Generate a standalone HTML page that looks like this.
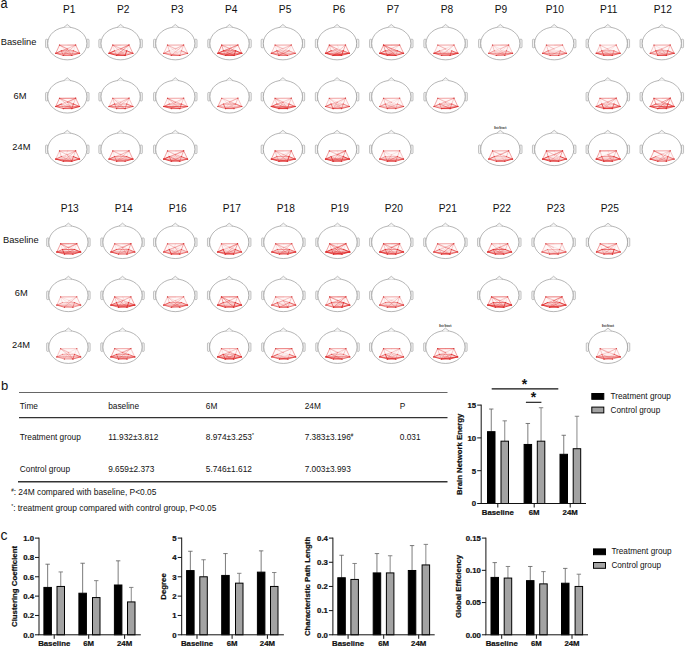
<!DOCTYPE html>
<html><head><meta charset="utf-8"><title>Figure</title>
<style>html,body{margin:0;padding:0;background:#fff;} svg{display:block;}</style>
</head><body>
<svg width="685" height="648" viewBox="0 0 685 648" font-family="'Liberation Sans', Arial, sans-serif">
<rect width="685" height="648" fill="#fff"/>
<text x="0.5" y="7.9" font-size="14" textLength="7.1" lengthAdjust="spacingAndGlyphs" fill="#111">a</text>
<text x="0.9" y="389.6" font-size="13" fill="#111">b</text>
<text x="0.5" y="539.7" font-size="14" fill="#111">c</text>
<text x="69.30" y="12.5" font-size="10.2" text-anchor="middle" fill="#111">P1</text>
<rect x="45.55" y="39.20" width="2.3" height="8.6" rx="0.9" fill="#f3f3f3" stroke="#8a8a8a" stroke-width="0.5"/>
<rect x="86.75" y="39.20" width="2.3" height="8.6" rx="0.9" fill="#f3f3f3" stroke="#8a8a8a" stroke-width="0.5"/>
<ellipse cx="67.30" cy="43.50" rx="19.6" ry="16.35" fill="#fff" stroke="#858585" stroke-width="0.6"/>
<path d="M63.70,27.50 L67.30,24.45 L70.90,27.50" fill="#f4f4f4" stroke="#858585" stroke-width="0.5"/>
<polygon points="59.5,45.1 75.7,45.0 79.6,53.3 71.8,55.4 63.3,55.4 55.7,53.3" fill="#e02a2a" fill-opacity="0.03"/>
<polygon points="55.7,53.3 61.3,50.8 73.4,50.8 79.6,53.3 71.8,55.4 63.3,55.4" fill="#e02a2a" fill-opacity="0.09"/>
<path d="M67.6,45.2L75.7,45.0M59.5,45.1L71.8,55.4M75.7,45.0L55.7,53.3M75.7,45.0L67.4,49.1M75.7,45.0L73.4,50.8M55.7,53.3L71.8,55.4M73.4,50.8L63.3,55.4M55.7,53.3L67.4,49.1M73.4,50.8L67.4,49.1M59.5,45.1L73.4,50.8M75.7,45.0L61.3,50.8" fill="none" stroke="#e02a2a" stroke-opacity="0.2" stroke-width="0.57" stroke-linecap="round"/>
<path d="M75.7,45.0L63.3,55.4M67.4,49.1L63.3,55.4M67.4,49.1L71.8,55.4M73.4,50.8L71.8,55.4M79.6,53.3L63.3,55.4M61.3,50.8L71.8,55.4M61.3,50.8L67.4,49.1" fill="none" stroke="#e02a2a" stroke-opacity="0.4" stroke-width="0.64" stroke-linecap="round"/>
<path d="M59.5,45.1L75.7,45.0M59.5,45.1L55.7,53.3M75.7,45.0L79.6,53.3M55.7,53.3L79.6,53.3M61.3,50.8L73.4,50.8M59.5,45.1L67.4,49.1M61.3,50.8L63.3,55.4" fill="none" stroke="#e02a2a" stroke-opacity="0.6" stroke-width="0.71" stroke-linecap="round"/>
<path d="M55.7,53.3L61.3,50.8M73.4,50.8L79.6,53.3M55.7,53.3L63.3,55.4M71.8,55.4L79.6,53.3M63.3,55.4L71.8,55.4" fill="none" stroke="#e02a2a" stroke-opacity="0.8" stroke-width="0.78" stroke-linecap="round"/>
<circle cx="59.5" cy="45.1" r="0.6" fill="#c83434" fill-opacity="0.7"/>
<circle cx="75.7" cy="45.0" r="0.6" fill="#c83434" fill-opacity="0.7"/>
<circle cx="55.7" cy="53.3" r="0.6" fill="#c83434" fill-opacity="0.7"/>
<circle cx="79.6" cy="53.3" r="0.6" fill="#c83434" fill-opacity="0.7"/>
<circle cx="63.3" cy="55.4" r="0.6" fill="#c83434" fill-opacity="0.7"/>
<circle cx="71.8" cy="55.4" r="0.6" fill="#c83434" fill-opacity="0.7"/>
<rect x="45.55" y="92.40" width="2.3" height="8.6" rx="0.9" fill="#f3f3f3" stroke="#8a8a8a" stroke-width="0.5"/>
<rect x="86.75" y="92.40" width="2.3" height="8.6" rx="0.9" fill="#f3f3f3" stroke="#8a8a8a" stroke-width="0.5"/>
<ellipse cx="67.30" cy="96.70" rx="19.6" ry="16.35" fill="#fff" stroke="#858585" stroke-width="0.6"/>
<path d="M63.70,80.70 L67.30,77.65 L70.90,80.70" fill="#f4f4f4" stroke="#858585" stroke-width="0.5"/>
<polygon points="59.5,98.3 75.7,98.2 79.6,106.5 71.8,108.6 63.3,108.6 55.7,106.5" fill="#e02a2a" fill-opacity="0.03"/>
<polygon points="55.7,106.5 61.3,104.0 73.4,104.0 79.6,106.5 71.8,108.6 63.3,108.6" fill="#e02a2a" fill-opacity="0.09"/>
<path d="M75.7,98.2L63.3,108.6M59.5,98.3L79.6,106.5M75.7,98.2L55.7,106.5M59.5,98.3L67.4,102.3M55.7,106.5L71.8,108.6M55.7,106.5L67.4,102.3M75.7,98.2L61.3,104.0" fill="none" stroke="#e02a2a" stroke-opacity="0.2" stroke-width="0.57" stroke-linecap="round"/>
<path d="M59.5,98.3L71.8,108.6M67.4,102.3L71.8,108.6M75.7,98.2L73.4,104.0M61.3,104.0L63.3,108.6M61.3,104.0L71.8,108.6M73.4,104.0L63.3,108.6M73.4,104.0L67.4,102.3M59.5,98.3L73.4,104.0" fill="none" stroke="#e02a2a" stroke-opacity="0.4" stroke-width="0.64" stroke-linecap="round"/>
<path d="M59.5,98.3L55.7,106.5M75.7,98.2L79.6,106.5M55.7,106.5L79.6,106.5M75.7,98.2L67.4,102.3M79.6,106.5L63.3,108.6" fill="none" stroke="#e02a2a" stroke-opacity="0.6" stroke-width="0.71" stroke-linecap="round"/>
<path d="M59.5,98.3L75.7,98.2M73.4,104.0L79.6,106.5M55.7,106.5L63.3,108.6M63.3,108.6L71.8,108.6M73.4,104.0L71.8,108.6" fill="none" stroke="#e02a2a" stroke-opacity="0.8" stroke-width="0.78" stroke-linecap="round"/>
<path d="M55.7,106.5L61.3,104.0M71.8,108.6L79.6,106.5" fill="none" stroke="#e02a2a" stroke-opacity="1.0" stroke-width="0.85" stroke-linecap="round"/>
<circle cx="59.5" cy="98.3" r="0.6" fill="#c83434" fill-opacity="0.7"/>
<circle cx="75.7" cy="98.2" r="0.6" fill="#c83434" fill-opacity="0.7"/>
<circle cx="55.7" cy="106.5" r="0.6" fill="#c83434" fill-opacity="0.7"/>
<circle cx="79.6" cy="106.5" r="0.6" fill="#c83434" fill-opacity="0.7"/>
<circle cx="63.3" cy="108.6" r="0.6" fill="#c83434" fill-opacity="0.7"/>
<circle cx="71.8" cy="108.6" r="0.6" fill="#c83434" fill-opacity="0.7"/>
<rect x="45.55" y="145.00" width="2.3" height="8.6" rx="0.9" fill="#f3f3f3" stroke="#8a8a8a" stroke-width="0.5"/>
<rect x="86.75" y="145.00" width="2.3" height="8.6" rx="0.9" fill="#f3f3f3" stroke="#8a8a8a" stroke-width="0.5"/>
<ellipse cx="67.30" cy="149.30" rx="19.6" ry="16.35" fill="#fff" stroke="#858585" stroke-width="0.6"/>
<path d="M63.70,133.30 L67.30,130.25 L70.90,133.30" fill="#f4f4f4" stroke="#858585" stroke-width="0.5"/>
<polygon points="59.5,150.9 75.7,150.8 79.6,159.1 71.8,161.2 63.3,161.2 55.7,159.1" fill="#e02a2a" fill-opacity="0.03"/>
<polygon points="55.7,159.1 61.3,156.6 73.4,156.6 79.6,159.1 71.8,161.2 63.3,161.2" fill="#e02a2a" fill-opacity="0.10"/>
<path d="M59.5,150.9L67.6,151.0M67.6,151.0L75.7,150.8M61.3,156.6L73.4,156.6M61.3,156.6L63.3,161.2M73.4,156.6L63.3,161.2M67.6,151.0L63.3,161.2M61.3,156.6L67.4,154.9M73.4,156.6L67.4,154.9M75.7,150.8L61.3,156.6" fill="none" stroke="#e02a2a" stroke-opacity="0.2" stroke-width="0.57" stroke-linecap="round"/>
<path d="M59.5,150.9L55.7,159.1M55.7,159.1L79.6,159.1M75.7,150.8L63.3,161.2M59.5,150.9L67.4,154.9M75.7,150.8L67.4,154.9M67.4,154.9L71.8,161.2M59.5,150.9L61.3,156.6M75.7,150.8L73.4,156.6M79.6,159.1L63.3,161.2M61.3,156.6L71.8,161.2" fill="none" stroke="#e02a2a" stroke-opacity="0.4" stroke-width="0.64" stroke-linecap="round"/>
<path d="M59.5,150.9L75.7,150.8M75.7,150.8L79.6,159.1" fill="none" stroke="#e02a2a" stroke-opacity="0.6" stroke-width="0.71" stroke-linecap="round"/>
<path d="M55.7,159.1L61.3,156.6M73.4,156.6L71.8,161.2M55.7,159.1L71.8,161.2" fill="none" stroke="#e02a2a" stroke-opacity="0.8" stroke-width="0.78" stroke-linecap="round"/>
<path d="M73.4,156.6L79.6,159.1M55.7,159.1L63.3,161.2M71.8,161.2L79.6,159.1M63.3,161.2L71.8,161.2" fill="none" stroke="#e02a2a" stroke-opacity="1.0" stroke-width="0.85" stroke-linecap="round"/>
<circle cx="59.5" cy="150.9" r="0.6" fill="#c83434" fill-opacity="0.7"/>
<circle cx="75.7" cy="150.8" r="0.6" fill="#c83434" fill-opacity="0.7"/>
<circle cx="55.7" cy="159.1" r="0.6" fill="#c83434" fill-opacity="0.7"/>
<circle cx="79.6" cy="159.1" r="0.6" fill="#c83434" fill-opacity="0.7"/>
<circle cx="63.3" cy="161.2" r="0.6" fill="#c83434" fill-opacity="0.7"/>
<circle cx="71.8" cy="161.2" r="0.6" fill="#c83434" fill-opacity="0.7"/>
<text x="123.25" y="12.5" font-size="10.2" text-anchor="middle" fill="#111">P2</text>
<rect x="98.85" y="39.20" width="2.3" height="8.6" rx="0.9" fill="#f3f3f3" stroke="#8a8a8a" stroke-width="0.5"/>
<rect x="140.05" y="39.20" width="2.3" height="8.6" rx="0.9" fill="#f3f3f3" stroke="#8a8a8a" stroke-width="0.5"/>
<ellipse cx="120.60" cy="43.50" rx="19.6" ry="16.35" fill="#fff" stroke="#858585" stroke-width="0.6"/>
<path d="M117.00,27.50 L120.60,24.45 L124.20,27.50" fill="#f4f4f4" stroke="#858585" stroke-width="0.5"/>
<polygon points="112.8,45.1 129.0,45.0 132.9,53.3 125.1,55.4 116.6,55.4 109.0,53.3" fill="#e02a2a" fill-opacity="0.03"/>
<polygon points="109.0,53.3 114.6,50.8 126.7,50.8 132.9,53.3 125.1,55.4 116.6,55.4" fill="#e02a2a" fill-opacity="0.10"/>
<path d="M112.8,45.1L120.9,45.2M109.0,53.3L132.9,53.3M112.8,45.1L120.7,49.1M120.7,49.1L125.1,55.4M112.8,45.1L114.6,50.8M129.0,45.0L126.7,50.8M132.9,53.3L116.6,55.4M114.6,50.8L125.1,55.4M114.6,50.8L120.7,49.1" fill="none" stroke="#e02a2a" stroke-opacity="0.2" stroke-width="0.57" stroke-linecap="round"/>
<path d="M112.8,45.1L125.1,55.4M112.8,45.1L132.9,53.3M129.0,45.0L109.0,53.3M114.6,50.8L116.6,55.4M126.7,50.8L116.6,55.4M126.7,50.8L120.7,49.1" fill="none" stroke="#e02a2a" stroke-opacity="0.4" stroke-width="0.64" stroke-linecap="round"/>
<path d="M112.8,45.1L129.0,45.0M112.8,45.1L109.0,53.3M129.0,45.0L132.9,53.3M129.0,45.0L116.6,55.4M129.0,45.0L120.7,49.1" fill="none" stroke="#e02a2a" stroke-opacity="0.6" stroke-width="0.71" stroke-linecap="round"/>
<path d="M126.7,50.8L132.9,53.3M125.1,55.4L132.9,53.3M109.0,53.3L125.1,55.4" fill="none" stroke="#e02a2a" stroke-opacity="0.8" stroke-width="0.78" stroke-linecap="round"/>
<path d="M109.0,53.3L114.6,50.8M109.0,53.3L116.6,55.4M116.6,55.4L125.1,55.4M126.7,50.8L125.1,55.4" fill="none" stroke="#e02a2a" stroke-opacity="1.0" stroke-width="0.85" stroke-linecap="round"/>
<circle cx="112.8" cy="45.1" r="0.6" fill="#c83434" fill-opacity="0.7"/>
<circle cx="129.0" cy="45.0" r="0.6" fill="#c83434" fill-opacity="0.7"/>
<circle cx="109.0" cy="53.3" r="0.6" fill="#c83434" fill-opacity="0.7"/>
<circle cx="132.9" cy="53.3" r="0.6" fill="#c83434" fill-opacity="0.7"/>
<circle cx="116.6" cy="55.4" r="0.6" fill="#c83434" fill-opacity="0.7"/>
<circle cx="125.1" cy="55.4" r="0.6" fill="#c83434" fill-opacity="0.7"/>
<rect x="98.85" y="92.40" width="2.3" height="8.6" rx="0.9" fill="#f3f3f3" stroke="#8a8a8a" stroke-width="0.5"/>
<rect x="140.05" y="92.40" width="2.3" height="8.6" rx="0.9" fill="#f3f3f3" stroke="#8a8a8a" stroke-width="0.5"/>
<ellipse cx="120.60" cy="96.70" rx="19.6" ry="16.35" fill="#fff" stroke="#858585" stroke-width="0.6"/>
<path d="M117.00,80.70 L120.60,77.65 L124.20,80.70" fill="#f4f4f4" stroke="#858585" stroke-width="0.5"/>
<polygon points="112.8,98.3 129.0,98.2 132.9,106.5 125.1,108.6 116.6,108.6 109.0,106.5" fill="#e02a2a" fill-opacity="0.03"/>
<polygon points="109.0,106.5 114.6,104.0 126.7,104.0 132.9,106.5 125.1,108.6 116.6,108.6" fill="#e02a2a" fill-opacity="0.09"/>
<path d="M112.8,98.3L120.7,102.3M120.7,102.3L116.6,108.6M109.0,106.5L120.7,102.3M126.7,104.0L120.7,102.3M129.0,98.2L114.6,104.0" fill="none" stroke="#e02a2a" stroke-opacity="0.2" stroke-width="0.57" stroke-linecap="round"/>
<path d="M112.8,98.3L109.0,106.5M129.0,98.2L132.9,106.5M114.6,104.0L126.7,104.0M112.8,98.3L125.1,108.6M129.0,98.2L116.6,108.6M129.0,98.2L120.7,102.3M112.8,98.3L114.6,104.0M129.0,98.2L126.7,104.0M109.0,106.5L125.1,108.6M114.6,104.0L125.1,108.6" fill="none" stroke="#e02a2a" stroke-opacity="0.4" stroke-width="0.64" stroke-linecap="round"/>
<path d="M112.8,98.3L129.0,98.2M109.0,106.5L132.9,106.5M109.0,106.5L116.6,108.6M114.6,104.0L116.6,108.6M126.7,104.0L125.1,108.6" fill="none" stroke="#e02a2a" stroke-opacity="0.6" stroke-width="0.71" stroke-linecap="round"/>
<path d="M109.0,106.5L114.6,104.0M126.7,104.0L132.9,106.5M125.1,108.6L132.9,106.5M116.6,108.6L125.1,108.6" fill="none" stroke="#e02a2a" stroke-opacity="0.8" stroke-width="0.78" stroke-linecap="round"/>
<circle cx="112.8" cy="98.3" r="0.6" fill="#c83434" fill-opacity="0.7"/>
<circle cx="129.0" cy="98.2" r="0.6" fill="#c83434" fill-opacity="0.7"/>
<circle cx="109.0" cy="106.5" r="0.6" fill="#c83434" fill-opacity="0.7"/>
<circle cx="132.9" cy="106.5" r="0.6" fill="#c83434" fill-opacity="0.7"/>
<circle cx="116.6" cy="108.6" r="0.6" fill="#c83434" fill-opacity="0.7"/>
<circle cx="125.1" cy="108.6" r="0.6" fill="#c83434" fill-opacity="0.7"/>
<rect x="98.85" y="145.00" width="2.3" height="8.6" rx="0.9" fill="#f3f3f3" stroke="#8a8a8a" stroke-width="0.5"/>
<rect x="140.05" y="145.00" width="2.3" height="8.6" rx="0.9" fill="#f3f3f3" stroke="#8a8a8a" stroke-width="0.5"/>
<ellipse cx="120.60" cy="149.30" rx="19.6" ry="16.35" fill="#fff" stroke="#858585" stroke-width="0.6"/>
<path d="M117.00,133.30 L120.60,130.25 L124.20,133.30" fill="#f4f4f4" stroke="#858585" stroke-width="0.5"/>
<polygon points="112.8,150.9 129.0,150.8 132.9,159.1 125.1,161.2 116.6,161.2 109.0,159.1" fill="#e02a2a" fill-opacity="0.03"/>
<polygon points="109.0,159.1 114.6,156.6 126.7,156.6 132.9,159.1 125.1,161.2 116.6,161.2" fill="#e02a2a" fill-opacity="0.10"/>
<path d="M112.8,150.9L132.9,159.1M129.0,150.8L109.0,159.1M112.8,150.9L114.6,156.6M129.0,150.8L126.7,156.6M126.7,156.6L125.1,161.2M114.6,156.6L125.1,161.2M109.0,159.1L120.7,154.9M132.9,159.1L120.7,154.9M114.6,156.6L120.7,154.9M126.7,156.6L120.7,154.9" fill="none" stroke="#e02a2a" stroke-opacity="0.2" stroke-width="0.57" stroke-linecap="round"/>
<path d="M129.0,150.8L116.6,161.2M112.8,150.9L120.7,154.9M129.0,150.8L120.7,154.9M109.0,159.1L125.1,161.2M126.7,156.6L116.6,161.2" fill="none" stroke="#e02a2a" stroke-opacity="0.4" stroke-width="0.64" stroke-linecap="round"/>
<path d="M112.8,150.9L129.0,150.8M112.8,150.9L109.0,159.1M129.0,150.8L132.9,159.1M109.0,159.1L132.9,159.1M114.6,156.6L126.7,156.6M114.6,156.6L116.6,161.2M132.9,159.1L116.6,161.2" fill="none" stroke="#e02a2a" stroke-opacity="0.6" stroke-width="0.71" stroke-linecap="round"/>
<path d="M109.0,159.1L114.6,156.6M126.7,156.6L132.9,159.1M109.0,159.1L116.6,161.2M116.6,161.2L125.1,161.2" fill="none" stroke="#e02a2a" stroke-opacity="0.8" stroke-width="0.78" stroke-linecap="round"/>
<path d="M125.1,161.2L132.9,159.1" fill="none" stroke="#e02a2a" stroke-opacity="1.0" stroke-width="0.85" stroke-linecap="round"/>
<circle cx="112.8" cy="150.9" r="0.6" fill="#c83434" fill-opacity="0.7"/>
<circle cx="129.0" cy="150.8" r="0.6" fill="#c83434" fill-opacity="0.7"/>
<circle cx="109.0" cy="159.1" r="0.6" fill="#c83434" fill-opacity="0.7"/>
<circle cx="132.9" cy="159.1" r="0.6" fill="#c83434" fill-opacity="0.7"/>
<circle cx="116.6" cy="161.2" r="0.6" fill="#c83434" fill-opacity="0.7"/>
<circle cx="125.1" cy="161.2" r="0.6" fill="#c83434" fill-opacity="0.7"/>
<text x="177.20" y="12.5" font-size="10.2" text-anchor="middle" fill="#111">P3</text>
<rect x="153.55" y="39.20" width="2.3" height="8.6" rx="0.9" fill="#f3f3f3" stroke="#8a8a8a" stroke-width="0.5"/>
<rect x="194.75" y="39.20" width="2.3" height="8.6" rx="0.9" fill="#f3f3f3" stroke="#8a8a8a" stroke-width="0.5"/>
<ellipse cx="175.30" cy="43.50" rx="19.6" ry="16.35" fill="#fff" stroke="#858585" stroke-width="0.6"/>
<path d="M171.70,27.50 L175.30,24.45 L178.90,27.50" fill="#f4f4f4" stroke="#858585" stroke-width="0.5"/>
<polygon points="167.5,45.1 183.7,45.0 187.6,53.3 179.8,55.4 171.3,55.4 163.7,53.3" fill="#e02a2a" fill-opacity="0.03"/>
<polygon points="163.7,53.3 169.3,50.8 181.4,50.8 187.6,53.3 179.8,55.4 171.3,55.4" fill="#e02a2a" fill-opacity="0.08"/>
<path d="M167.5,45.1L179.8,55.4M167.5,45.1L187.6,53.3M181.4,50.8L171.3,55.4M183.7,45.0L169.3,50.8" fill="none" stroke="#e02a2a" stroke-opacity="0.2" stroke-width="0.57" stroke-linecap="round"/>
<path d="M167.5,45.1L163.7,53.3M183.7,45.0L187.6,53.3M183.7,45.0L171.3,55.4M167.5,45.1L175.4,49.1M183.7,45.0L175.4,49.1M167.5,45.1L169.3,50.8M183.7,45.0L181.4,50.8M169.3,50.8L171.3,55.4M181.4,50.8L179.8,55.4" fill="none" stroke="#e02a2a" stroke-opacity="0.4" stroke-width="0.64" stroke-linecap="round"/>
<path d="M167.5,45.1L183.7,45.0M163.7,53.3L169.3,50.8M181.4,50.8L187.6,53.3M163.7,53.3L171.3,55.4M163.7,53.3L179.8,55.4" fill="none" stroke="#e02a2a" stroke-opacity="0.6" stroke-width="0.71" stroke-linecap="round"/>
<path d="M179.8,55.4L187.6,53.3M171.3,55.4L179.8,55.4" fill="none" stroke="#e02a2a" stroke-opacity="0.8" stroke-width="0.78" stroke-linecap="round"/>
<circle cx="167.5" cy="45.1" r="0.6" fill="#c83434" fill-opacity="0.7"/>
<circle cx="183.7" cy="45.0" r="0.6" fill="#c83434" fill-opacity="0.7"/>
<circle cx="163.7" cy="53.3" r="0.6" fill="#c83434" fill-opacity="0.7"/>
<circle cx="187.6" cy="53.3" r="0.6" fill="#c83434" fill-opacity="0.7"/>
<circle cx="171.3" cy="55.4" r="0.6" fill="#c83434" fill-opacity="0.7"/>
<circle cx="179.8" cy="55.4" r="0.6" fill="#c83434" fill-opacity="0.7"/>
<rect x="153.55" y="92.40" width="2.3" height="8.6" rx="0.9" fill="#f3f3f3" stroke="#8a8a8a" stroke-width="0.5"/>
<rect x="194.75" y="92.40" width="2.3" height="8.6" rx="0.9" fill="#f3f3f3" stroke="#8a8a8a" stroke-width="0.5"/>
<ellipse cx="175.30" cy="96.70" rx="19.6" ry="16.35" fill="#fff" stroke="#858585" stroke-width="0.6"/>
<path d="M171.70,80.70 L175.30,77.65 L178.90,80.70" fill="#f4f4f4" stroke="#858585" stroke-width="0.5"/>
<polygon points="167.5,98.3 183.7,98.2 187.6,106.5 179.8,108.6 171.3,108.6 163.7,106.5" fill="#e02a2a" fill-opacity="0.03"/>
<polygon points="163.7,106.5 169.3,104.0 181.4,104.0 187.6,106.5 179.8,108.6 171.3,108.6" fill="#e02a2a" fill-opacity="0.09"/>
<path d="M183.7,98.2L171.3,108.6M175.4,102.3L171.3,108.6M167.5,98.3L169.3,104.0M169.3,104.0L171.3,108.6M187.6,106.5L171.3,108.6M169.3,104.0L179.8,108.6M163.7,106.5L175.4,102.3M187.6,106.5L175.4,102.3M169.3,104.0L175.4,102.3M181.4,104.0L175.4,102.3M167.5,98.3L181.4,104.0" fill="none" stroke="#e02a2a" stroke-opacity="0.2" stroke-width="0.57" stroke-linecap="round"/>
<path d="M167.5,98.3L163.7,106.5M183.7,98.2L187.6,106.5M169.3,104.0L181.4,104.0M167.5,98.3L179.8,108.6M183.7,98.2L175.4,102.3M183.7,98.2L181.4,104.0M181.4,104.0L171.3,108.6" fill="none" stroke="#e02a2a" stroke-opacity="0.4" stroke-width="0.64" stroke-linecap="round"/>
<path d="M167.5,98.3L183.7,98.2M181.4,104.0L187.6,106.5M167.5,98.3L175.4,102.3" fill="none" stroke="#e02a2a" stroke-opacity="0.6" stroke-width="0.71" stroke-linecap="round"/>
<path d="M163.7,106.5L187.6,106.5M163.7,106.5L169.3,104.0M163.7,106.5L171.3,108.6M179.8,108.6L187.6,106.5M171.3,108.6L179.8,108.6M181.4,104.0L179.8,108.6M163.7,106.5L179.8,108.6" fill="none" stroke="#e02a2a" stroke-opacity="0.8" stroke-width="0.78" stroke-linecap="round"/>
<circle cx="167.5" cy="98.3" r="0.6" fill="#c83434" fill-opacity="0.7"/>
<circle cx="183.7" cy="98.2" r="0.6" fill="#c83434" fill-opacity="0.7"/>
<circle cx="163.7" cy="106.5" r="0.6" fill="#c83434" fill-opacity="0.7"/>
<circle cx="187.6" cy="106.5" r="0.6" fill="#c83434" fill-opacity="0.7"/>
<circle cx="171.3" cy="108.6" r="0.6" fill="#c83434" fill-opacity="0.7"/>
<circle cx="179.8" cy="108.6" r="0.6" fill="#c83434" fill-opacity="0.7"/>
<rect x="153.55" y="145.00" width="2.3" height="8.6" rx="0.9" fill="#f3f3f3" stroke="#8a8a8a" stroke-width="0.5"/>
<rect x="194.75" y="145.00" width="2.3" height="8.6" rx="0.9" fill="#f3f3f3" stroke="#8a8a8a" stroke-width="0.5"/>
<ellipse cx="175.30" cy="149.30" rx="19.6" ry="16.35" fill="#fff" stroke="#858585" stroke-width="0.6"/>
<path d="M171.70,133.30 L175.30,130.25 L178.90,133.30" fill="#f4f4f4" stroke="#858585" stroke-width="0.5"/>
<polygon points="167.5,150.9 183.7,150.8 187.6,159.1 179.8,161.2 171.3,161.2 163.7,159.1" fill="#e02a2a" fill-opacity="0.03"/>
<polygon points="163.7,159.1 169.3,156.6 181.4,156.6 187.6,159.1 179.8,161.2 171.3,161.2" fill="#e02a2a" fill-opacity="0.10"/>
<path d="M175.6,151.0L183.7,150.8M169.3,156.6L181.4,156.6M183.7,150.8L171.3,161.2M167.5,150.9L187.6,159.1M175.4,154.9L171.3,161.2M175.4,154.9L179.8,161.2M167.5,150.9L169.3,156.6M163.7,159.1L175.4,154.9M187.6,159.1L175.4,154.9M169.3,156.6L175.4,154.9M181.4,156.6L175.4,154.9M183.7,150.8L169.3,156.6" fill="none" stroke="#e02a2a" stroke-opacity="0.2" stroke-width="0.57" stroke-linecap="round"/>
<path d="M163.7,159.1L187.6,159.1M183.7,150.8L163.7,159.1M167.5,150.9L175.4,154.9M183.7,150.8L175.4,154.9" fill="none" stroke="#e02a2a" stroke-opacity="0.4" stroke-width="0.64" stroke-linecap="round"/>
<path d="M167.5,150.9L183.7,150.8M167.5,150.9L163.7,159.1M183.7,150.8L187.6,159.1M183.7,150.8L181.4,156.6M181.4,156.6L179.8,161.2M163.7,159.1L179.8,161.2M187.6,159.1L171.3,161.2M169.3,156.6L179.8,161.2M181.4,156.6L171.3,161.2" fill="none" stroke="#e02a2a" stroke-opacity="0.6" stroke-width="0.71" stroke-linecap="round"/>
<path d="M181.4,156.6L187.6,159.1M179.8,161.2L187.6,159.1M171.3,161.2L179.8,161.2M169.3,156.6L171.3,161.2" fill="none" stroke="#e02a2a" stroke-opacity="0.8" stroke-width="0.78" stroke-linecap="round"/>
<path d="M163.7,159.1L169.3,156.6M163.7,159.1L171.3,161.2" fill="none" stroke="#e02a2a" stroke-opacity="1.0" stroke-width="0.85" stroke-linecap="round"/>
<circle cx="167.5" cy="150.9" r="0.6" fill="#c83434" fill-opacity="0.7"/>
<circle cx="183.7" cy="150.8" r="0.6" fill="#c83434" fill-opacity="0.7"/>
<circle cx="163.7" cy="159.1" r="0.6" fill="#c83434" fill-opacity="0.7"/>
<circle cx="187.6" cy="159.1" r="0.6" fill="#c83434" fill-opacity="0.7"/>
<circle cx="171.3" cy="161.2" r="0.6" fill="#c83434" fill-opacity="0.7"/>
<circle cx="179.8" cy="161.2" r="0.6" fill="#c83434" fill-opacity="0.7"/>
<text x="231.15" y="12.5" font-size="10.2" text-anchor="middle" fill="#111">P4</text>
<rect x="207.75" y="39.20" width="2.3" height="8.6" rx="0.9" fill="#f3f3f3" stroke="#8a8a8a" stroke-width="0.5"/>
<rect x="248.95" y="39.20" width="2.3" height="8.6" rx="0.9" fill="#f3f3f3" stroke="#8a8a8a" stroke-width="0.5"/>
<ellipse cx="229.50" cy="43.50" rx="19.6" ry="16.35" fill="#fff" stroke="#858585" stroke-width="0.6"/>
<path d="M225.90,27.50 L229.50,24.45 L233.10,27.50" fill="#f4f4f4" stroke="#858585" stroke-width="0.5"/>
<polygon points="221.7,45.1 237.9,45.0 241.8,53.3 234.0,55.4 225.5,55.4 217.9,53.3" fill="#e02a2a" fill-opacity="0.03"/>
<polygon points="217.9,53.3 223.5,50.8 235.6,50.8 241.8,53.3 234.0,55.4 225.5,55.4" fill="#e02a2a" fill-opacity="0.11"/>
<path d="M221.7,45.1L234.0,55.4M221.7,45.1L229.6,49.1M229.8,45.2L234.0,55.4M217.9,53.3L229.6,49.1M235.6,50.8L229.6,49.1M221.7,45.1L235.6,50.8" fill="none" stroke="#e02a2a" stroke-opacity="0.2" stroke-width="0.57" stroke-linecap="round"/>
<path d="M237.9,45.0L225.5,55.4M221.7,45.1L241.8,53.3M237.9,45.0L217.9,53.3M237.9,45.0L229.6,49.1M229.6,49.1L225.5,55.4M223.5,50.8L225.5,55.4M223.5,50.8L229.6,49.1M237.9,45.0L223.5,50.8" fill="none" stroke="#e02a2a" stroke-opacity="0.4" stroke-width="0.64" stroke-linecap="round"/>
<path d="M221.7,45.1L237.9,45.0M237.9,45.0L241.8,53.3M217.9,53.3L241.8,53.3M221.7,45.1L223.5,50.8M241.8,53.3L225.5,55.4M223.5,50.8L234.0,55.4M235.6,50.8L225.5,55.4" fill="none" stroke="#e02a2a" stroke-opacity="0.6" stroke-width="0.71" stroke-linecap="round"/>
<path d="M221.7,45.1L217.9,53.3M223.5,50.8L235.6,50.8M217.9,53.3L234.0,55.4" fill="none" stroke="#e02a2a" stroke-opacity="0.8" stroke-width="0.78" stroke-linecap="round"/>
<path d="M217.9,53.3L223.5,50.8M235.6,50.8L241.8,53.3M217.9,53.3L225.5,55.4M234.0,55.4L241.8,53.3M225.5,55.4L234.0,55.4M235.6,50.8L234.0,55.4" fill="none" stroke="#e02a2a" stroke-opacity="1.0" stroke-width="0.85" stroke-linecap="round"/>
<circle cx="221.7" cy="45.1" r="0.6" fill="#c83434" fill-opacity="0.7"/>
<circle cx="237.9" cy="45.0" r="0.6" fill="#c83434" fill-opacity="0.7"/>
<circle cx="217.9" cy="53.3" r="0.6" fill="#c83434" fill-opacity="0.7"/>
<circle cx="241.8" cy="53.3" r="0.6" fill="#c83434" fill-opacity="0.7"/>
<circle cx="225.5" cy="55.4" r="0.6" fill="#c83434" fill-opacity="0.7"/>
<circle cx="234.0" cy="55.4" r="0.6" fill="#c83434" fill-opacity="0.7"/>
<rect x="207.75" y="92.40" width="2.3" height="8.6" rx="0.9" fill="#f3f3f3" stroke="#8a8a8a" stroke-width="0.5"/>
<rect x="248.95" y="92.40" width="2.3" height="8.6" rx="0.9" fill="#f3f3f3" stroke="#8a8a8a" stroke-width="0.5"/>
<ellipse cx="229.50" cy="96.70" rx="19.6" ry="16.35" fill="#fff" stroke="#858585" stroke-width="0.6"/>
<path d="M225.90,80.70 L229.50,77.65 L233.10,80.70" fill="#f4f4f4" stroke="#858585" stroke-width="0.5"/>
<polygon points="221.7,98.3 237.9,98.2 241.8,106.5 234.0,108.6 225.5,108.6 217.9,106.5" fill="#e02a2a" fill-opacity="0.03"/>
<polygon points="217.9,106.5 223.5,104.0 235.6,104.0 241.8,106.5 234.0,108.6 225.5,108.6" fill="#e02a2a" fill-opacity="0.08"/>
<path d="M217.9,106.5L241.8,106.5M221.7,98.3L234.0,108.6M237.9,98.2L217.9,106.5M229.6,102.3L225.5,108.6M229.6,102.3L234.0,108.6M235.6,104.0L234.0,108.6M241.8,106.5L229.6,102.3M237.9,98.2L223.5,104.0" fill="none" stroke="#e02a2a" stroke-opacity="0.2" stroke-width="0.57" stroke-linecap="round"/>
<path d="M221.7,98.3L237.9,98.2M237.9,98.2L241.8,106.5M221.7,98.3L241.8,106.5M237.9,98.2L229.6,102.3M237.9,98.2L235.6,104.0M217.9,106.5L234.0,108.6M235.6,104.0L225.5,108.6" fill="none" stroke="#e02a2a" stroke-opacity="0.4" stroke-width="0.64" stroke-linecap="round"/>
<path d="M221.7,98.3L217.9,106.5M217.9,106.5L223.5,104.0M223.5,104.0L235.6,104.0M235.6,104.0L241.8,106.5M217.9,106.5L225.5,108.6M234.0,108.6L241.8,106.5M241.8,106.5L225.5,108.6" fill="none" stroke="#e02a2a" stroke-opacity="0.6" stroke-width="0.71" stroke-linecap="round"/>
<path d="M225.5,108.6L234.0,108.6M223.5,104.0L225.5,108.6" fill="none" stroke="#e02a2a" stroke-opacity="0.8" stroke-width="0.78" stroke-linecap="round"/>
<circle cx="221.7" cy="98.3" r="0.6" fill="#c83434" fill-opacity="0.7"/>
<circle cx="237.9" cy="98.2" r="0.6" fill="#c83434" fill-opacity="0.7"/>
<circle cx="217.9" cy="106.5" r="0.6" fill="#c83434" fill-opacity="0.7"/>
<circle cx="241.8" cy="106.5" r="0.6" fill="#c83434" fill-opacity="0.7"/>
<circle cx="225.5" cy="108.6" r="0.6" fill="#c83434" fill-opacity="0.7"/>
<circle cx="234.0" cy="108.6" r="0.6" fill="#c83434" fill-opacity="0.7"/>
<text x="285.10" y="12.5" font-size="10.2" text-anchor="middle" fill="#111">P5</text>
<rect x="261.15" y="39.20" width="2.3" height="8.6" rx="0.9" fill="#f3f3f3" stroke="#8a8a8a" stroke-width="0.5"/>
<rect x="302.35" y="39.20" width="2.3" height="8.6" rx="0.9" fill="#f3f3f3" stroke="#8a8a8a" stroke-width="0.5"/>
<ellipse cx="282.90" cy="43.50" rx="19.6" ry="16.35" fill="#fff" stroke="#858585" stroke-width="0.6"/>
<path d="M279.30,27.50 L282.90,24.45 L286.50,27.50" fill="#f4f4f4" stroke="#858585" stroke-width="0.5"/>
<polygon points="275.1,45.1 291.3,45.0 295.2,53.3 287.4,55.4 278.9,55.4 271.3,53.3" fill="#e02a2a" fill-opacity="0.03"/>
<polygon points="271.3,53.3 276.9,50.8 289.0,50.8 295.2,53.3 287.4,55.4 278.9,55.4" fill="#e02a2a" fill-opacity="0.09"/>
<path d="M275.1,45.1L287.4,55.4M291.3,45.0L271.3,53.3M291.3,45.0L283.0,49.1M275.1,45.1L276.9,50.8M291.3,45.0L289.0,50.8M295.2,53.3L278.9,55.4M275.1,45.1L289.0,50.8M291.3,45.0L276.9,50.8" fill="none" stroke="#e02a2a" stroke-opacity="0.2" stroke-width="0.57" stroke-linecap="round"/>
<path d="M275.1,45.1L271.3,53.3M291.3,45.0L295.2,53.3M271.3,53.3L295.2,53.3M276.9,50.8L289.0,50.8M291.3,45.0L278.9,55.4M275.1,45.1L283.0,49.1M271.3,53.3L287.4,55.4" fill="none" stroke="#e02a2a" stroke-opacity="0.4" stroke-width="0.64" stroke-linecap="round"/>
<path d="M275.1,45.1L291.3,45.0M289.0,50.8L295.2,53.3M276.9,50.8L278.9,55.4M276.9,50.8L287.4,55.4M289.0,50.8L278.9,55.4" fill="none" stroke="#e02a2a" stroke-opacity="0.6" stroke-width="0.71" stroke-linecap="round"/>
<path d="M271.3,53.3L276.9,50.8M271.3,53.3L278.9,55.4M287.4,55.4L295.2,53.3M278.9,55.4L287.4,55.4" fill="none" stroke="#e02a2a" stroke-opacity="0.8" stroke-width="0.78" stroke-linecap="round"/>
<circle cx="275.1" cy="45.1" r="0.6" fill="#c83434" fill-opacity="0.7"/>
<circle cx="291.3" cy="45.0" r="0.6" fill="#c83434" fill-opacity="0.7"/>
<circle cx="271.3" cy="53.3" r="0.6" fill="#c83434" fill-opacity="0.7"/>
<circle cx="295.2" cy="53.3" r="0.6" fill="#c83434" fill-opacity="0.7"/>
<circle cx="278.9" cy="55.4" r="0.6" fill="#c83434" fill-opacity="0.7"/>
<circle cx="287.4" cy="55.4" r="0.6" fill="#c83434" fill-opacity="0.7"/>
<rect x="261.15" y="92.40" width="2.3" height="8.6" rx="0.9" fill="#f3f3f3" stroke="#8a8a8a" stroke-width="0.5"/>
<rect x="302.35" y="92.40" width="2.3" height="8.6" rx="0.9" fill="#f3f3f3" stroke="#8a8a8a" stroke-width="0.5"/>
<ellipse cx="282.90" cy="96.70" rx="19.6" ry="16.35" fill="#fff" stroke="#858585" stroke-width="0.6"/>
<path d="M279.30,80.70 L282.90,77.65 L286.50,80.70" fill="#f4f4f4" stroke="#858585" stroke-width="0.5"/>
<polygon points="275.1,98.3 291.3,98.2 295.2,106.5 287.4,108.6 278.9,108.6 271.3,106.5" fill="#e02a2a" fill-opacity="0.03"/>
<polygon points="271.3,106.5 276.9,104.0 289.0,104.0 295.2,106.5 287.4,108.6 278.9,108.6" fill="#e02a2a" fill-opacity="0.09"/>
<path d="M291.3,98.2L278.9,108.6M291.3,98.2L271.3,106.5M291.3,98.2L283.0,102.3M276.9,104.0L278.9,108.6M289.0,104.0L278.9,108.6M271.3,106.5L283.0,102.3M289.0,104.0L283.0,102.3M275.1,98.3L289.0,104.0" fill="none" stroke="#e02a2a" stroke-opacity="0.2" stroke-width="0.57" stroke-linecap="round"/>
<path d="M275.1,98.3L271.3,106.5M291.3,98.2L295.2,106.5M275.1,98.3L287.4,108.6M275.1,98.3L283.0,102.3M283.0,102.3L278.9,108.6M283.0,102.3L287.4,108.6M275.1,98.3L276.9,104.0M291.3,98.2L289.0,104.0M276.9,104.0L283.0,102.3" fill="none" stroke="#e02a2a" stroke-opacity="0.4" stroke-width="0.64" stroke-linecap="round"/>
<path d="M275.1,98.3L291.3,98.2M271.3,106.5L295.2,106.5M276.9,104.0L287.4,108.6" fill="none" stroke="#e02a2a" stroke-opacity="0.6" stroke-width="0.71" stroke-linecap="round"/>
<path d="M271.3,106.5L276.9,104.0M289.0,104.0L295.2,106.5M287.4,108.6L295.2,106.5M289.0,104.0L287.4,108.6M271.3,106.5L287.4,108.6M295.2,106.5L278.9,108.6" fill="none" stroke="#e02a2a" stroke-opacity="0.8" stroke-width="0.78" stroke-linecap="round"/>
<path d="M271.3,106.5L278.9,108.6M278.9,108.6L287.4,108.6" fill="none" stroke="#e02a2a" stroke-opacity="1.0" stroke-width="0.85" stroke-linecap="round"/>
<circle cx="275.1" cy="98.3" r="0.6" fill="#c83434" fill-opacity="0.7"/>
<circle cx="291.3" cy="98.2" r="0.6" fill="#c83434" fill-opacity="0.7"/>
<circle cx="271.3" cy="106.5" r="0.6" fill="#c83434" fill-opacity="0.7"/>
<circle cx="295.2" cy="106.5" r="0.6" fill="#c83434" fill-opacity="0.7"/>
<circle cx="278.9" cy="108.6" r="0.6" fill="#c83434" fill-opacity="0.7"/>
<circle cx="287.4" cy="108.6" r="0.6" fill="#c83434" fill-opacity="0.7"/>
<rect x="261.15" y="145.00" width="2.3" height="8.6" rx="0.9" fill="#f3f3f3" stroke="#8a8a8a" stroke-width="0.5"/>
<rect x="302.35" y="145.00" width="2.3" height="8.6" rx="0.9" fill="#f3f3f3" stroke="#8a8a8a" stroke-width="0.5"/>
<ellipse cx="282.90" cy="149.30" rx="19.6" ry="16.35" fill="#fff" stroke="#858585" stroke-width="0.6"/>
<path d="M279.30,133.30 L282.90,130.25 L286.50,133.30" fill="#f4f4f4" stroke="#858585" stroke-width="0.5"/>
<polygon points="275.1,150.9 291.3,150.8 295.2,159.1 287.4,161.2 278.9,161.2 271.3,159.1" fill="#e02a2a" fill-opacity="0.03"/>
<polygon points="271.3,159.1 276.9,156.6 289.0,156.6 295.2,159.1 287.4,161.2 278.9,161.2" fill="#e02a2a" fill-opacity="0.09"/>
<path d="M275.1,150.9L283.2,151.0M275.1,150.9L295.2,159.1M275.1,150.9L283.0,154.9M291.3,150.8L283.0,154.9M289.0,156.6L278.9,161.2M295.2,159.1L283.0,154.9M276.9,156.6L283.0,154.9M289.0,156.6L283.0,154.9M275.1,150.9L289.0,156.6" fill="none" stroke="#e02a2a" stroke-opacity="0.2" stroke-width="0.57" stroke-linecap="round"/>
<path d="M275.1,150.9L287.4,161.2M291.3,150.8L278.9,161.2M275.1,150.9L276.9,156.6M276.9,156.6L278.9,161.2" fill="none" stroke="#e02a2a" stroke-opacity="0.4" stroke-width="0.64" stroke-linecap="round"/>
<path d="M275.1,150.9L291.3,150.8M275.1,150.9L271.3,159.1M291.3,150.8L295.2,159.1M271.3,159.1L295.2,159.1M276.9,156.6L289.0,156.6M291.3,150.8L289.0,156.6" fill="none" stroke="#e02a2a" stroke-opacity="0.6" stroke-width="0.71" stroke-linecap="round"/>
<path d="M271.3,159.1L276.9,156.6M289.0,156.6L295.2,159.1M287.4,161.2L295.2,159.1M271.3,159.1L287.4,161.2M295.2,159.1L278.9,161.2" fill="none" stroke="#e02a2a" stroke-opacity="0.8" stroke-width="0.78" stroke-linecap="round"/>
<path d="M271.3,159.1L278.9,161.2M278.9,161.2L287.4,161.2M289.0,156.6L287.4,161.2" fill="none" stroke="#e02a2a" stroke-opacity="1.0" stroke-width="0.85" stroke-linecap="round"/>
<circle cx="275.1" cy="150.9" r="0.6" fill="#c83434" fill-opacity="0.7"/>
<circle cx="291.3" cy="150.8" r="0.6" fill="#c83434" fill-opacity="0.7"/>
<circle cx="271.3" cy="159.1" r="0.6" fill="#c83434" fill-opacity="0.7"/>
<circle cx="295.2" cy="159.1" r="0.6" fill="#c83434" fill-opacity="0.7"/>
<circle cx="278.9" cy="161.2" r="0.6" fill="#c83434" fill-opacity="0.7"/>
<circle cx="287.4" cy="161.2" r="0.6" fill="#c83434" fill-opacity="0.7"/>
<text x="339.05" y="12.5" font-size="10.2" text-anchor="middle" fill="#111">P6</text>
<rect x="315.35" y="39.20" width="2.3" height="8.6" rx="0.9" fill="#f3f3f3" stroke="#8a8a8a" stroke-width="0.5"/>
<rect x="356.55" y="39.20" width="2.3" height="8.6" rx="0.9" fill="#f3f3f3" stroke="#8a8a8a" stroke-width="0.5"/>
<ellipse cx="337.10" cy="43.50" rx="19.6" ry="16.35" fill="#fff" stroke="#858585" stroke-width="0.6"/>
<path d="M333.50,27.50 L337.10,24.45 L340.70,27.50" fill="#f4f4f4" stroke="#858585" stroke-width="0.5"/>
<polygon points="329.3,45.1 345.5,45.0 349.4,53.3 341.6,55.4 333.1,55.4 325.5,53.3" fill="#e02a2a" fill-opacity="0.03"/>
<polygon points="325.5,53.3 331.1,50.8 343.2,50.8 349.4,53.3 341.6,55.4 333.1,55.4" fill="#e02a2a" fill-opacity="0.10"/>
<path d="M331.1,50.8L333.1,55.4M337.4,45.2L341.6,55.4M325.5,53.3L337.2,49.1M349.4,53.3L337.2,49.1M343.2,50.8L337.2,49.1" fill="none" stroke="#e02a2a" stroke-opacity="0.2" stroke-width="0.57" stroke-linecap="round"/>
<path d="M331.1,50.8L343.2,50.8M329.3,45.1L341.6,55.4M345.5,45.0L333.1,55.4M329.3,45.1L331.1,50.8M331.1,50.8L341.6,55.4M331.1,50.8L337.2,49.1" fill="none" stroke="#e02a2a" stroke-opacity="0.4" stroke-width="0.64" stroke-linecap="round"/>
<path d="M329.3,45.1L345.5,45.0M329.3,45.1L325.5,53.3M345.5,45.0L349.4,53.3M325.5,53.3L349.4,53.3M329.3,45.1L337.2,49.1M345.5,45.0L343.2,50.8M343.2,50.8L333.1,55.4" fill="none" stroke="#e02a2a" stroke-opacity="0.6" stroke-width="0.71" stroke-linecap="round"/>
<path d="M343.2,50.8L349.4,53.3M341.6,55.4L349.4,53.3M325.5,53.3L341.6,55.4" fill="none" stroke="#e02a2a" stroke-opacity="0.8" stroke-width="0.78" stroke-linecap="round"/>
<path d="M325.5,53.3L331.1,50.8M325.5,53.3L333.1,55.4M333.1,55.4L341.6,55.4M343.2,50.8L341.6,55.4M349.4,53.3L333.1,55.4" fill="none" stroke="#e02a2a" stroke-opacity="1.0" stroke-width="0.85" stroke-linecap="round"/>
<circle cx="329.3" cy="45.1" r="0.6" fill="#c83434" fill-opacity="0.7"/>
<circle cx="345.5" cy="45.0" r="0.6" fill="#c83434" fill-opacity="0.7"/>
<circle cx="325.5" cy="53.3" r="0.6" fill="#c83434" fill-opacity="0.7"/>
<circle cx="349.4" cy="53.3" r="0.6" fill="#c83434" fill-opacity="0.7"/>
<circle cx="333.1" cy="55.4" r="0.6" fill="#c83434" fill-opacity="0.7"/>
<circle cx="341.6" cy="55.4" r="0.6" fill="#c83434" fill-opacity="0.7"/>
<rect x="315.35" y="92.40" width="2.3" height="8.6" rx="0.9" fill="#f3f3f3" stroke="#8a8a8a" stroke-width="0.5"/>
<rect x="356.55" y="92.40" width="2.3" height="8.6" rx="0.9" fill="#f3f3f3" stroke="#8a8a8a" stroke-width="0.5"/>
<ellipse cx="337.10" cy="96.70" rx="19.6" ry="16.35" fill="#fff" stroke="#858585" stroke-width="0.6"/>
<path d="M333.50,80.70 L337.10,77.65 L340.70,80.70" fill="#f4f4f4" stroke="#858585" stroke-width="0.5"/>
<polygon points="329.3,98.3 345.5,98.2 349.4,106.5 341.6,108.6 333.1,108.6 325.5,106.5" fill="#e02a2a" fill-opacity="0.03"/>
<polygon points="325.5,106.5 331.1,104.0 343.2,104.0 349.4,106.5 341.6,108.6 333.1,108.6" fill="#e02a2a" fill-opacity="0.09"/>
<path d="M331.1,104.0L343.2,104.0M345.5,98.2L333.1,108.6M345.5,98.2L325.5,106.5M329.3,98.3L337.2,102.3M337.2,102.3L341.6,108.6M329.3,98.3L331.1,104.0M325.5,106.5L341.6,108.6M331.1,104.0L341.6,108.6M325.5,106.5L337.2,102.3M349.4,106.5L337.2,102.3M331.1,104.0L337.2,102.3" fill="none" stroke="#e02a2a" stroke-opacity="0.2" stroke-width="0.57" stroke-linecap="round"/>
<path d="M329.3,98.3L325.5,106.5M345.5,98.2L349.4,106.5M329.3,98.3L341.6,108.6M345.5,98.2L337.2,102.3M337.2,102.3L333.1,108.6M345.5,98.2L343.2,104.0M343.2,104.0L333.1,108.6" fill="none" stroke="#e02a2a" stroke-opacity="0.4" stroke-width="0.64" stroke-linecap="round"/>
<path d="M329.3,98.3L345.5,98.2M343.2,104.0L349.4,106.5M343.2,104.0L341.6,108.6M349.4,106.5L333.1,108.6" fill="none" stroke="#e02a2a" stroke-opacity="0.6" stroke-width="0.71" stroke-linecap="round"/>
<path d="M325.5,106.5L331.1,104.0M325.5,106.5L333.1,108.6M341.6,108.6L349.4,106.5M333.1,108.6L341.6,108.6M331.1,104.0L333.1,108.6" fill="none" stroke="#e02a2a" stroke-opacity="0.8" stroke-width="0.78" stroke-linecap="round"/>
<circle cx="329.3" cy="98.3" r="0.6" fill="#c83434" fill-opacity="0.7"/>
<circle cx="345.5" cy="98.2" r="0.6" fill="#c83434" fill-opacity="0.7"/>
<circle cx="325.5" cy="106.5" r="0.6" fill="#c83434" fill-opacity="0.7"/>
<circle cx="349.4" cy="106.5" r="0.6" fill="#c83434" fill-opacity="0.7"/>
<circle cx="333.1" cy="108.6" r="0.6" fill="#c83434" fill-opacity="0.7"/>
<circle cx="341.6" cy="108.6" r="0.6" fill="#c83434" fill-opacity="0.7"/>
<rect x="315.35" y="145.00" width="2.3" height="8.6" rx="0.9" fill="#f3f3f3" stroke="#8a8a8a" stroke-width="0.5"/>
<rect x="356.55" y="145.00" width="2.3" height="8.6" rx="0.9" fill="#f3f3f3" stroke="#8a8a8a" stroke-width="0.5"/>
<ellipse cx="337.10" cy="149.30" rx="19.6" ry="16.35" fill="#fff" stroke="#858585" stroke-width="0.6"/>
<path d="M333.50,133.30 L337.10,130.25 L340.70,133.30" fill="#f4f4f4" stroke="#858585" stroke-width="0.5"/>
<polygon points="329.3,150.9 345.5,150.8 349.4,159.1 341.6,161.2 333.1,161.2 325.5,159.1" fill="#e02a2a" fill-opacity="0.03"/>
<polygon points="325.5,159.1 331.1,156.6 343.2,156.6 349.4,159.1 341.6,161.2 333.1,161.2" fill="#e02a2a" fill-opacity="0.10"/>
<path d="M345.5,150.8L333.1,161.2M329.3,150.9L349.4,159.1M329.3,150.9L337.2,154.9M337.2,154.9L341.6,161.2M337.4,151.0L341.6,161.2M349.4,159.1L337.2,154.9M331.1,156.6L337.2,154.9M343.2,156.6L337.2,154.9M329.3,150.9L343.2,156.6" fill="none" stroke="#e02a2a" stroke-opacity="0.2" stroke-width="0.57" stroke-linecap="round"/>
<path d="M345.5,150.8L325.5,159.1M337.2,154.9L333.1,161.2M325.5,159.1L341.6,161.2M331.1,156.6L341.6,161.2M343.2,156.6L333.1,161.2" fill="none" stroke="#e02a2a" stroke-opacity="0.4" stroke-width="0.64" stroke-linecap="round"/>
<path d="M329.3,150.9L345.5,150.8M329.3,150.9L325.5,159.1M345.5,150.8L349.4,159.1M345.5,150.8L337.2,154.9M345.5,150.8L343.2,156.6M349.4,159.1L333.1,161.2" fill="none" stroke="#e02a2a" stroke-opacity="0.6" stroke-width="0.71" stroke-linecap="round"/>
<path d="M325.5,159.1L331.1,156.6M341.6,161.2L349.4,159.1M343.2,156.6L341.6,161.2" fill="none" stroke="#e02a2a" stroke-opacity="0.8" stroke-width="0.78" stroke-linecap="round"/>
<path d="M325.5,159.1L349.4,159.1M343.2,156.6L349.4,159.1M325.5,159.1L333.1,161.2M333.1,161.2L341.6,161.2M331.1,156.6L333.1,161.2" fill="none" stroke="#e02a2a" stroke-opacity="1.0" stroke-width="0.85" stroke-linecap="round"/>
<circle cx="329.3" cy="150.9" r="0.6" fill="#c83434" fill-opacity="0.7"/>
<circle cx="345.5" cy="150.8" r="0.6" fill="#c83434" fill-opacity="0.7"/>
<circle cx="325.5" cy="159.1" r="0.6" fill="#c83434" fill-opacity="0.7"/>
<circle cx="349.4" cy="159.1" r="0.6" fill="#c83434" fill-opacity="0.7"/>
<circle cx="333.1" cy="161.2" r="0.6" fill="#c83434" fill-opacity="0.7"/>
<circle cx="341.6" cy="161.2" r="0.6" fill="#c83434" fill-opacity="0.7"/>
<text x="393.00" y="12.5" font-size="10.2" text-anchor="middle" fill="#111">P7</text>
<rect x="369.55" y="39.20" width="2.3" height="8.6" rx="0.9" fill="#f3f3f3" stroke="#8a8a8a" stroke-width="0.5"/>
<rect x="410.75" y="39.20" width="2.3" height="8.6" rx="0.9" fill="#f3f3f3" stroke="#8a8a8a" stroke-width="0.5"/>
<ellipse cx="391.30" cy="43.50" rx="19.6" ry="16.35" fill="#fff" stroke="#858585" stroke-width="0.6"/>
<path d="M387.70,27.50 L391.30,24.45 L394.90,27.50" fill="#f4f4f4" stroke="#858585" stroke-width="0.5"/>
<polygon points="383.5,45.1 399.7,45.0 403.6,53.3 395.8,55.4 387.3,55.4 379.7,53.3" fill="#e02a2a" fill-opacity="0.03"/>
<polygon points="379.7,53.3 385.3,50.8 397.4,50.8 403.6,53.3 395.8,55.4 387.3,55.4" fill="#e02a2a" fill-opacity="0.10"/>
<path d="M383.5,45.1L391.6,45.2M391.6,45.2L399.7,45.0M399.7,45.0L387.3,55.4M403.6,53.3L387.3,55.4M403.6,53.3L391.4,49.1M383.5,45.1L397.4,50.8" fill="none" stroke="#e02a2a" stroke-opacity="0.2" stroke-width="0.57" stroke-linecap="round"/>
<path d="M379.7,53.3L403.6,53.3M383.5,45.1L403.6,53.3M399.7,45.0L379.7,53.3M397.4,50.8L395.8,55.4M385.3,50.8L395.8,55.4M397.4,50.8L387.3,55.4M397.4,50.8L391.4,49.1" fill="none" stroke="#e02a2a" stroke-opacity="0.4" stroke-width="0.64" stroke-linecap="round"/>
<path d="M383.5,45.1L379.7,53.3M399.7,45.0L403.6,53.3M385.3,50.8L397.4,50.8M383.5,45.1L395.8,55.4M383.5,45.1L391.4,49.1M383.5,45.1L385.3,50.8M385.3,50.8L387.3,55.4" fill="none" stroke="#e02a2a" stroke-opacity="0.6" stroke-width="0.71" stroke-linecap="round"/>
<path d="M383.5,45.1L399.7,45.0M379.7,53.3L385.3,50.8M397.4,50.8L403.6,53.3" fill="none" stroke="#e02a2a" stroke-opacity="0.8" stroke-width="0.78" stroke-linecap="round"/>
<path d="M379.7,53.3L387.3,55.4M395.8,55.4L403.6,53.3M387.3,55.4L395.8,55.4M379.7,53.3L395.8,55.4" fill="none" stroke="#e02a2a" stroke-opacity="1.0" stroke-width="0.85" stroke-linecap="round"/>
<circle cx="383.5" cy="45.1" r="0.6" fill="#c83434" fill-opacity="0.7"/>
<circle cx="399.7" cy="45.0" r="0.6" fill="#c83434" fill-opacity="0.7"/>
<circle cx="379.7" cy="53.3" r="0.6" fill="#c83434" fill-opacity="0.7"/>
<circle cx="403.6" cy="53.3" r="0.6" fill="#c83434" fill-opacity="0.7"/>
<circle cx="387.3" cy="55.4" r="0.6" fill="#c83434" fill-opacity="0.7"/>
<circle cx="395.8" cy="55.4" r="0.6" fill="#c83434" fill-opacity="0.7"/>
<rect x="369.55" y="92.40" width="2.3" height="8.6" rx="0.9" fill="#f3f3f3" stroke="#8a8a8a" stroke-width="0.5"/>
<rect x="410.75" y="92.40" width="2.3" height="8.6" rx="0.9" fill="#f3f3f3" stroke="#8a8a8a" stroke-width="0.5"/>
<ellipse cx="391.30" cy="96.70" rx="19.6" ry="16.35" fill="#fff" stroke="#858585" stroke-width="0.6"/>
<path d="M387.70,80.70 L391.30,77.65 L394.90,80.70" fill="#f4f4f4" stroke="#858585" stroke-width="0.5"/>
<polygon points="383.5,98.3 399.7,98.2 403.6,106.5 395.8,108.6 387.3,108.6 379.7,106.5" fill="#e02a2a" fill-opacity="0.03"/>
<polygon points="379.7,106.5 385.3,104.0 397.4,104.0 403.6,106.5 395.8,108.6 387.3,108.6" fill="#e02a2a" fill-opacity="0.08"/>
<path d="M379.7,106.5L403.6,106.5M383.5,98.3L395.8,108.6M399.7,98.2L387.3,108.6M399.7,98.2L379.7,106.5M391.4,102.3L387.3,108.6M391.4,102.3L395.8,108.6M399.7,98.2L397.4,104.0M403.6,106.5L391.4,102.3M385.3,104.0L391.4,102.3" fill="none" stroke="#e02a2a" stroke-opacity="0.2" stroke-width="0.57" stroke-linecap="round"/>
<path d="M383.5,98.3L379.7,106.5M399.7,98.2L403.6,106.5M383.5,98.3L391.4,102.3M383.5,98.3L385.3,104.0M397.4,104.0L395.8,108.6M379.7,106.5L395.8,108.6M403.6,106.5L387.3,108.6M385.3,104.0L395.8,108.6M397.4,104.0L387.3,108.6" fill="none" stroke="#e02a2a" stroke-opacity="0.4" stroke-width="0.64" stroke-linecap="round"/>
<path d="M383.5,98.3L399.7,98.2M379.7,106.5L385.3,104.0M397.4,104.0L403.6,106.5M379.7,106.5L387.3,108.6M387.3,108.6L395.8,108.6M385.3,104.0L387.3,108.6" fill="none" stroke="#e02a2a" stroke-opacity="0.6" stroke-width="0.71" stroke-linecap="round"/>
<path d="M395.8,108.6L403.6,106.5" fill="none" stroke="#e02a2a" stroke-opacity="0.8" stroke-width="0.78" stroke-linecap="round"/>
<circle cx="383.5" cy="98.3" r="0.6" fill="#c83434" fill-opacity="0.7"/>
<circle cx="399.7" cy="98.2" r="0.6" fill="#c83434" fill-opacity="0.7"/>
<circle cx="379.7" cy="106.5" r="0.6" fill="#c83434" fill-opacity="0.7"/>
<circle cx="403.6" cy="106.5" r="0.6" fill="#c83434" fill-opacity="0.7"/>
<circle cx="387.3" cy="108.6" r="0.6" fill="#c83434" fill-opacity="0.7"/>
<circle cx="395.8" cy="108.6" r="0.6" fill="#c83434" fill-opacity="0.7"/>
<rect x="369.55" y="145.00" width="2.3" height="8.6" rx="0.9" fill="#f3f3f3" stroke="#8a8a8a" stroke-width="0.5"/>
<rect x="410.75" y="145.00" width="2.3" height="8.6" rx="0.9" fill="#f3f3f3" stroke="#8a8a8a" stroke-width="0.5"/>
<ellipse cx="391.30" cy="149.30" rx="19.6" ry="16.35" fill="#fff" stroke="#858585" stroke-width="0.6"/>
<path d="M387.70,133.30 L391.30,130.25 L394.90,133.30" fill="#f4f4f4" stroke="#858585" stroke-width="0.5"/>
<polygon points="383.5,150.9 399.7,150.8 403.6,159.1 395.8,161.2 387.3,161.2 379.7,159.1" fill="#e02a2a" fill-opacity="0.03"/>
<polygon points="379.7,159.1 385.3,156.6 397.4,156.6 403.6,159.1 395.8,161.2 387.3,161.2" fill="#e02a2a" fill-opacity="0.09"/>
<path d="M383.5,150.9L395.8,161.2M383.5,150.9L391.4,154.9M399.7,150.8L391.4,154.9M385.3,156.6L395.8,161.2M397.4,156.6L391.4,154.9" fill="none" stroke="#e02a2a" stroke-opacity="0.2" stroke-width="0.57" stroke-linecap="round"/>
<path d="M399.7,150.8L403.6,159.1M385.3,156.6L397.4,156.6M391.4,154.9L387.3,161.2M383.5,150.9L385.3,156.6M399.7,150.8L397.4,156.6" fill="none" stroke="#e02a2a" stroke-opacity="0.4" stroke-width="0.64" stroke-linecap="round"/>
<path d="M383.5,150.9L399.7,150.8M383.5,150.9L379.7,159.1M379.7,159.1L403.6,159.1M379.7,159.1L385.3,156.6M385.3,156.6L387.3,161.2M397.4,156.6L395.8,161.2M379.7,159.1L395.8,161.2M403.6,159.1L387.3,161.2M397.4,156.6L387.3,161.2" fill="none" stroke="#e02a2a" stroke-opacity="0.6" stroke-width="0.71" stroke-linecap="round"/>
<path d="M397.4,156.6L403.6,159.1M379.7,159.1L387.3,161.2M395.8,161.2L403.6,159.1" fill="none" stroke="#e02a2a" stroke-opacity="0.8" stroke-width="0.78" stroke-linecap="round"/>
<path d="M387.3,161.2L395.8,161.2" fill="none" stroke="#e02a2a" stroke-opacity="1.0" stroke-width="0.85" stroke-linecap="round"/>
<circle cx="383.5" cy="150.9" r="0.6" fill="#c83434" fill-opacity="0.7"/>
<circle cx="399.7" cy="150.8" r="0.6" fill="#c83434" fill-opacity="0.7"/>
<circle cx="379.7" cy="159.1" r="0.6" fill="#c83434" fill-opacity="0.7"/>
<circle cx="403.6" cy="159.1" r="0.6" fill="#c83434" fill-opacity="0.7"/>
<circle cx="387.3" cy="161.2" r="0.6" fill="#c83434" fill-opacity="0.7"/>
<circle cx="395.8" cy="161.2" r="0.6" fill="#c83434" fill-opacity="0.7"/>
<text x="446.95" y="12.5" font-size="10.2" text-anchor="middle" fill="#111">P8</text>
<rect x="423.85" y="39.20" width="2.3" height="8.6" rx="0.9" fill="#f3f3f3" stroke="#8a8a8a" stroke-width="0.5"/>
<rect x="465.05" y="39.20" width="2.3" height="8.6" rx="0.9" fill="#f3f3f3" stroke="#8a8a8a" stroke-width="0.5"/>
<ellipse cx="445.60" cy="43.50" rx="19.6" ry="16.35" fill="#fff" stroke="#858585" stroke-width="0.6"/>
<path d="M442.00,27.50 L445.60,24.45 L449.20,27.50" fill="#f4f4f4" stroke="#858585" stroke-width="0.5"/>
<polygon points="437.8,45.1 454.0,45.0 457.9,53.3 450.1,55.4 441.6,55.4 434.0,53.3" fill="#e02a2a" fill-opacity="0.03"/>
<polygon points="434.0,53.3 439.6,50.8 451.7,50.8 457.9,53.3 450.1,55.4 441.6,55.4" fill="#e02a2a" fill-opacity="0.09"/>
<path d="M437.8,45.1L457.9,53.3M454.0,45.0L434.0,53.3M445.7,49.1L450.1,55.4M439.6,50.8L450.1,55.4M434.0,53.3L445.7,49.1M439.6,50.8L445.7,49.1" fill="none" stroke="#e02a2a" stroke-opacity="0.2" stroke-width="0.57" stroke-linecap="round"/>
<path d="M437.8,45.1L434.0,53.3M454.0,45.0L441.6,55.4M437.8,45.1L445.7,49.1M439.6,50.8L441.6,55.4M434.0,53.3L450.1,55.4" fill="none" stroke="#e02a2a" stroke-opacity="0.4" stroke-width="0.64" stroke-linecap="round"/>
<path d="M437.8,45.1L454.0,45.0M454.0,45.0L457.9,53.3M457.9,53.3L441.6,55.4" fill="none" stroke="#e02a2a" stroke-opacity="0.6" stroke-width="0.71" stroke-linecap="round"/>
<path d="M434.0,53.3L457.9,53.3M434.0,53.3L439.6,50.8M451.7,50.8L457.9,53.3M434.0,53.3L441.6,55.4M441.6,55.4L450.1,55.4M451.7,50.8L450.1,55.4" fill="none" stroke="#e02a2a" stroke-opacity="0.8" stroke-width="0.78" stroke-linecap="round"/>
<path d="M450.1,55.4L457.9,53.3" fill="none" stroke="#e02a2a" stroke-opacity="1.0" stroke-width="0.85" stroke-linecap="round"/>
<circle cx="437.8" cy="45.1" r="0.6" fill="#c83434" fill-opacity="0.7"/>
<circle cx="454.0" cy="45.0" r="0.6" fill="#c83434" fill-opacity="0.7"/>
<circle cx="434.0" cy="53.3" r="0.6" fill="#c83434" fill-opacity="0.7"/>
<circle cx="457.9" cy="53.3" r="0.6" fill="#c83434" fill-opacity="0.7"/>
<circle cx="441.6" cy="55.4" r="0.6" fill="#c83434" fill-opacity="0.7"/>
<circle cx="450.1" cy="55.4" r="0.6" fill="#c83434" fill-opacity="0.7"/>
<rect x="423.85" y="92.40" width="2.3" height="8.6" rx="0.9" fill="#f3f3f3" stroke="#8a8a8a" stroke-width="0.5"/>
<rect x="465.05" y="92.40" width="2.3" height="8.6" rx="0.9" fill="#f3f3f3" stroke="#8a8a8a" stroke-width="0.5"/>
<ellipse cx="445.60" cy="96.70" rx="19.6" ry="16.35" fill="#fff" stroke="#858585" stroke-width="0.6"/>
<path d="M442.00,80.70 L445.60,77.65 L449.20,80.70" fill="#f4f4f4" stroke="#858585" stroke-width="0.5"/>
<polygon points="437.8,98.3 454.0,98.2 457.9,106.5 450.1,108.6 441.6,108.6 434.0,106.5" fill="#e02a2a" fill-opacity="0.03"/>
<polygon points="434.0,106.5 439.6,104.0 451.7,104.0 457.9,106.5 450.1,108.6 441.6,108.6" fill="#e02a2a" fill-opacity="0.09"/>
<path d="M434.0,106.5L457.9,106.5M437.8,98.3L457.9,106.5M454.0,98.2L445.7,102.3M445.7,102.3L441.6,108.6M445.7,102.3L450.1,108.6M434.0,106.5L450.1,108.6M457.9,106.5L445.7,102.3M439.6,104.0L445.7,102.3" fill="none" stroke="#e02a2a" stroke-opacity="0.2" stroke-width="0.57" stroke-linecap="round"/>
<path d="M439.6,104.0L451.7,104.0M454.0,98.2L434.0,106.5M437.8,98.3L445.7,102.3M454.0,98.2L451.7,104.0M451.7,104.0L441.6,108.6" fill="none" stroke="#e02a2a" stroke-opacity="0.4" stroke-width="0.64" stroke-linecap="round"/>
<path d="M437.8,98.3L454.0,98.2M437.8,98.3L434.0,106.5M454.0,98.2L457.9,106.5M434.0,106.5L439.6,104.0M451.7,104.0L457.9,106.5M439.6,104.0L441.6,108.6M451.7,104.0L450.1,108.6M439.6,104.0L450.1,108.6" fill="none" stroke="#e02a2a" stroke-opacity="0.6" stroke-width="0.71" stroke-linecap="round"/>
<path d="M434.0,106.5L441.6,108.6M457.9,106.5L441.6,108.6" fill="none" stroke="#e02a2a" stroke-opacity="0.8" stroke-width="0.78" stroke-linecap="round"/>
<path d="M450.1,108.6L457.9,106.5M441.6,108.6L450.1,108.6" fill="none" stroke="#e02a2a" stroke-opacity="1.0" stroke-width="0.85" stroke-linecap="round"/>
<circle cx="437.8" cy="98.3" r="0.6" fill="#c83434" fill-opacity="0.7"/>
<circle cx="454.0" cy="98.2" r="0.6" fill="#c83434" fill-opacity="0.7"/>
<circle cx="434.0" cy="106.5" r="0.6" fill="#c83434" fill-opacity="0.7"/>
<circle cx="457.9" cy="106.5" r="0.6" fill="#c83434" fill-opacity="0.7"/>
<circle cx="441.6" cy="108.6" r="0.6" fill="#c83434" fill-opacity="0.7"/>
<circle cx="450.1" cy="108.6" r="0.6" fill="#c83434" fill-opacity="0.7"/>
<text x="500.90" y="12.5" font-size="10.2" text-anchor="middle" fill="#111">P9</text>
<rect x="478.55" y="39.20" width="2.3" height="8.6" rx="0.9" fill="#f3f3f3" stroke="#8a8a8a" stroke-width="0.5"/>
<rect x="519.75" y="39.20" width="2.3" height="8.6" rx="0.9" fill="#f3f3f3" stroke="#8a8a8a" stroke-width="0.5"/>
<ellipse cx="500.30" cy="43.50" rx="19.6" ry="16.35" fill="#fff" stroke="#858585" stroke-width="0.6"/>
<path d="M496.70,27.50 L500.30,24.45 L503.90,27.50" fill="#f4f4f4" stroke="#858585" stroke-width="0.5"/>
<polygon points="492.5,45.1 508.7,45.0 512.6,53.3 504.8,55.4 496.3,55.4 488.7,53.3" fill="#e02a2a" fill-opacity="0.03"/>
<polygon points="488.7,53.3 494.3,50.8 506.4,50.8 512.6,53.3 504.8,55.4 496.3,55.4" fill="#e02a2a" fill-opacity="0.08"/>
<path d="M500.6,45.2L508.7,45.0M494.3,50.8L506.4,50.8M492.5,45.1L504.8,55.4M508.7,45.0L496.3,55.4M492.5,45.1L500.4,49.1M500.4,49.1L504.8,55.4M494.3,50.8L496.3,55.4M488.7,53.3L504.8,55.4M494.3,50.8L504.8,55.4M508.7,45.0L494.3,50.8" fill="none" stroke="#e02a2a" stroke-opacity="0.2" stroke-width="0.57" stroke-linecap="round"/>
<path d="M492.5,45.1L488.7,53.3M508.7,45.0L512.6,53.3M508.7,45.0L500.4,49.1M492.5,45.1L494.3,50.8M508.7,45.0L506.4,50.8M506.4,50.8L496.3,55.4" fill="none" stroke="#e02a2a" stroke-opacity="0.4" stroke-width="0.64" stroke-linecap="round"/>
<path d="M492.5,45.1L508.7,45.0M488.7,53.3L512.6,53.3M488.7,53.3L494.3,50.8M506.4,50.8L512.6,53.3M488.7,53.3L496.3,55.4M504.8,55.4L512.6,53.3M496.3,55.4L504.8,55.4M506.4,50.8L504.8,55.4M512.6,53.3L496.3,55.4" fill="none" stroke="#e02a2a" stroke-opacity="0.6" stroke-width="0.71" stroke-linecap="round"/>
<circle cx="492.5" cy="45.1" r="0.6" fill="#c83434" fill-opacity="0.7"/>
<circle cx="508.7" cy="45.0" r="0.6" fill="#c83434" fill-opacity="0.7"/>
<circle cx="488.7" cy="53.3" r="0.6" fill="#c83434" fill-opacity="0.7"/>
<circle cx="512.6" cy="53.3" r="0.6" fill="#c83434" fill-opacity="0.7"/>
<circle cx="496.3" cy="55.4" r="0.6" fill="#c83434" fill-opacity="0.7"/>
<circle cx="504.8" cy="55.4" r="0.6" fill="#c83434" fill-opacity="0.7"/>
<rect x="478.55" y="145.00" width="2.3" height="8.6" rx="0.9" fill="#f3f3f3" stroke="#8a8a8a" stroke-width="0.5"/>
<rect x="519.75" y="145.00" width="2.3" height="8.6" rx="0.9" fill="#f3f3f3" stroke="#8a8a8a" stroke-width="0.5"/>
<ellipse cx="500.30" cy="149.30" rx="19.6" ry="16.35" fill="#fff" stroke="#858585" stroke-width="0.6"/>
<path d="M496.70,133.30 L500.30,130.25 L503.90,133.30" fill="#f4f4f4" stroke="#858585" stroke-width="0.5"/>
<polygon points="492.5,150.9 508.7,150.8 512.6,159.1 504.8,161.2 496.3,161.2 488.7,159.1" fill="#e02a2a" fill-opacity="0.03"/>
<polygon points="488.7,159.1 494.3,156.6 506.4,156.6 512.6,159.1 504.8,161.2 496.3,161.2" fill="#e02a2a" fill-opacity="0.09"/>
<path d="M488.7,159.1L512.6,159.1M492.5,150.9L500.4,154.9M500.4,154.9L504.8,161.2M506.4,156.6L504.8,161.2M506.4,156.6L496.3,161.2" fill="none" stroke="#e02a2a" stroke-opacity="0.2" stroke-width="0.57" stroke-linecap="round"/>
<path d="M494.3,156.6L506.4,156.6M508.7,150.8L488.7,159.1M508.7,150.8L500.4,154.9M492.5,150.9L494.3,156.6M508.7,150.8L506.4,156.6M494.3,156.6L496.3,161.2M488.7,159.1L504.8,161.2M494.3,156.6L500.4,154.9M492.5,150.9L506.4,156.6" fill="none" stroke="#e02a2a" stroke-opacity="0.4" stroke-width="0.64" stroke-linecap="round"/>
<path d="M492.5,150.9L508.7,150.8M492.5,150.9L488.7,159.1M508.7,150.8L512.6,159.1M512.6,159.1L496.3,161.2" fill="none" stroke="#e02a2a" stroke-opacity="0.6" stroke-width="0.71" stroke-linecap="round"/>
<path d="M488.7,159.1L494.3,156.6M506.4,156.6L512.6,159.1M488.7,159.1L496.3,161.2" fill="none" stroke="#e02a2a" stroke-opacity="0.8" stroke-width="0.78" stroke-linecap="round"/>
<path d="M504.8,161.2L512.6,159.1M496.3,161.2L504.8,161.2" fill="none" stroke="#e02a2a" stroke-opacity="1.0" stroke-width="0.85" stroke-linecap="round"/>
<circle cx="492.5" cy="150.9" r="0.6" fill="#c83434" fill-opacity="0.7"/>
<circle cx="508.7" cy="150.8" r="0.6" fill="#c83434" fill-opacity="0.7"/>
<circle cx="488.7" cy="159.1" r="0.6" fill="#c83434" fill-opacity="0.7"/>
<circle cx="512.6" cy="159.1" r="0.6" fill="#c83434" fill-opacity="0.7"/>
<circle cx="496.3" cy="161.2" r="0.6" fill="#c83434" fill-opacity="0.7"/>
<circle cx="504.8" cy="161.2" r="0.6" fill="#c83434" fill-opacity="0.7"/>
<text x="500.30" y="129.05" font-size="2.6" font-weight="bold" text-anchor="middle" textLength="12.2" lengthAdjust="spacingAndGlyphs" fill="#222">Brain Network</text>
<text x="554.85" y="12.5" font-size="10.2" text-anchor="middle" fill="#111">P10</text>
<rect x="532.45" y="39.20" width="2.3" height="8.6" rx="0.9" fill="#f3f3f3" stroke="#8a8a8a" stroke-width="0.5"/>
<rect x="573.65" y="39.20" width="2.3" height="8.6" rx="0.9" fill="#f3f3f3" stroke="#8a8a8a" stroke-width="0.5"/>
<ellipse cx="554.20" cy="43.50" rx="19.6" ry="16.35" fill="#fff" stroke="#858585" stroke-width="0.6"/>
<path d="M550.60,27.50 L554.20,24.45 L557.80,27.50" fill="#f4f4f4" stroke="#858585" stroke-width="0.5"/>
<polygon points="546.4,45.1 562.6,45.0 566.5,53.3 558.7,55.4 550.2,55.4 542.6,53.3" fill="#e02a2a" fill-opacity="0.03"/>
<polygon points="542.6,53.3 548.2,50.8 560.3,50.8 566.5,53.3 558.7,55.4 550.2,55.4" fill="#e02a2a" fill-opacity="0.09"/>
<path d="M554.5,45.2L562.6,45.0M548.2,50.8L560.3,50.8M562.6,45.0L542.6,53.3M542.6,53.3L558.7,55.4M548.2,50.8L558.7,55.4M548.2,50.8L554.3,49.1M562.6,45.0L548.2,50.8" fill="none" stroke="#e02a2a" stroke-opacity="0.2" stroke-width="0.57" stroke-linecap="round"/>
<path d="M546.4,45.1L542.6,53.3M562.6,45.0L566.5,53.3M546.4,45.1L554.3,49.1M546.4,45.1L548.2,50.8M548.2,50.8L550.2,55.4M560.3,50.8L550.2,55.4" fill="none" stroke="#e02a2a" stroke-opacity="0.4" stroke-width="0.64" stroke-linecap="round"/>
<path d="M546.4,45.1L562.6,45.0M542.6,53.3L566.5,53.3M542.6,53.3L548.2,50.8M560.3,50.8L566.5,53.3M560.3,50.8L558.7,55.4" fill="none" stroke="#e02a2a" stroke-opacity="0.6" stroke-width="0.71" stroke-linecap="round"/>
<path d="M542.6,53.3L550.2,55.4M558.7,55.4L566.5,53.3M550.2,55.4L558.7,55.4" fill="none" stroke="#e02a2a" stroke-opacity="0.8" stroke-width="0.78" stroke-linecap="round"/>
<circle cx="546.4" cy="45.1" r="0.6" fill="#c83434" fill-opacity="0.7"/>
<circle cx="562.6" cy="45.0" r="0.6" fill="#c83434" fill-opacity="0.7"/>
<circle cx="542.6" cy="53.3" r="0.6" fill="#c83434" fill-opacity="0.7"/>
<circle cx="566.5" cy="53.3" r="0.6" fill="#c83434" fill-opacity="0.7"/>
<circle cx="550.2" cy="55.4" r="0.6" fill="#c83434" fill-opacity="0.7"/>
<circle cx="558.7" cy="55.4" r="0.6" fill="#c83434" fill-opacity="0.7"/>
<rect x="532.45" y="145.00" width="2.3" height="8.6" rx="0.9" fill="#f3f3f3" stroke="#8a8a8a" stroke-width="0.5"/>
<rect x="573.65" y="145.00" width="2.3" height="8.6" rx="0.9" fill="#f3f3f3" stroke="#8a8a8a" stroke-width="0.5"/>
<ellipse cx="554.20" cy="149.30" rx="19.6" ry="16.35" fill="#fff" stroke="#858585" stroke-width="0.6"/>
<path d="M550.60,133.30 L554.20,130.25 L557.80,133.30" fill="#f4f4f4" stroke="#858585" stroke-width="0.5"/>
<polygon points="546.4,150.9 562.6,150.8 566.5,159.1 558.7,161.2 550.2,161.2 542.6,159.1" fill="#e02a2a" fill-opacity="0.03"/>
<polygon points="542.6,159.1 548.2,156.6 560.3,156.6 566.5,159.1 558.7,161.2 550.2,161.2" fill="#e02a2a" fill-opacity="0.10"/>
<path d="M546.4,150.9L554.5,151.0M542.6,159.1L566.5,159.1M562.6,150.8L542.6,159.1M560.3,156.6L550.2,161.2M554.5,151.0L558.7,161.2M566.5,159.1L554.3,154.9M562.6,150.8L548.2,156.6" fill="none" stroke="#e02a2a" stroke-opacity="0.2" stroke-width="0.57" stroke-linecap="round"/>
<path d="M562.6,150.8L550.2,161.2M546.4,150.9L554.3,154.9M560.3,156.6L558.7,161.2M566.5,159.1L550.2,161.2M548.2,156.6L558.7,161.2M548.2,156.6L554.3,154.9" fill="none" stroke="#e02a2a" stroke-opacity="0.4" stroke-width="0.64" stroke-linecap="round"/>
<path d="M546.4,150.9L542.6,159.1M562.6,150.8L566.5,159.1M562.6,150.8L554.3,154.9M546.4,150.9L548.2,156.6M562.6,150.8L560.3,156.6M548.2,156.6L550.2,161.2" fill="none" stroke="#e02a2a" stroke-opacity="0.6" stroke-width="0.71" stroke-linecap="round"/>
<path d="M546.4,150.9L562.6,150.8M542.6,159.1L558.7,161.2" fill="none" stroke="#e02a2a" stroke-opacity="0.8" stroke-width="0.78" stroke-linecap="round"/>
<path d="M542.6,159.1L548.2,156.6M560.3,156.6L566.5,159.1M542.6,159.1L550.2,161.2M558.7,161.2L566.5,159.1M550.2,161.2L558.7,161.2" fill="none" stroke="#e02a2a" stroke-opacity="1.0" stroke-width="0.85" stroke-linecap="round"/>
<circle cx="546.4" cy="150.9" r="0.6" fill="#c83434" fill-opacity="0.7"/>
<circle cx="562.6" cy="150.8" r="0.6" fill="#c83434" fill-opacity="0.7"/>
<circle cx="542.6" cy="159.1" r="0.6" fill="#c83434" fill-opacity="0.7"/>
<circle cx="566.5" cy="159.1" r="0.6" fill="#c83434" fill-opacity="0.7"/>
<circle cx="550.2" cy="161.2" r="0.6" fill="#c83434" fill-opacity="0.7"/>
<circle cx="558.7" cy="161.2" r="0.6" fill="#c83434" fill-opacity="0.7"/>
<text x="608.80" y="12.5" font-size="10.2" text-anchor="middle" fill="#111">P11</text>
<rect x="586.05" y="39.20" width="2.3" height="8.6" rx="0.9" fill="#f3f3f3" stroke="#8a8a8a" stroke-width="0.5"/>
<rect x="627.25" y="39.20" width="2.3" height="8.6" rx="0.9" fill="#f3f3f3" stroke="#8a8a8a" stroke-width="0.5"/>
<ellipse cx="607.80" cy="43.50" rx="19.6" ry="16.35" fill="#fff" stroke="#858585" stroke-width="0.6"/>
<path d="M604.20,27.50 L607.80,24.45 L611.40,27.50" fill="#f4f4f4" stroke="#858585" stroke-width="0.5"/>
<polygon points="600.0,45.1 616.2,45.0 620.1,53.3 612.3,55.4 603.8,55.4 596.2,53.3" fill="#e02a2a" fill-opacity="0.03"/>
<polygon points="596.2,53.3 601.8,50.8 613.9,50.8 620.1,53.3 612.3,55.4 603.8,55.4" fill="#e02a2a" fill-opacity="0.09"/>
<path d="M616.2,45.0L603.8,55.4M616.2,45.0L596.2,53.3M616.2,45.0L607.9,49.1M607.9,49.1L612.3,55.4M620.1,53.3L607.9,49.1M601.8,50.8L607.9,49.1" fill="none" stroke="#e02a2a" stroke-opacity="0.2" stroke-width="0.57" stroke-linecap="round"/>
<path d="M600.0,45.1L616.2,45.0M600.0,45.1L596.2,53.3M600.0,45.1L607.9,49.1M600.0,45.1L601.8,50.8M601.8,50.8L612.3,55.4" fill="none" stroke="#e02a2a" stroke-opacity="0.4" stroke-width="0.64" stroke-linecap="round"/>
<path d="M616.2,45.0L620.1,53.3M596.2,53.3L620.1,53.3M596.2,53.3L601.8,50.8M601.8,50.8L613.9,50.8M613.9,50.8L620.1,53.3M613.9,50.8L612.3,55.4M596.2,53.3L612.3,55.4M620.1,53.3L603.8,55.4" fill="none" stroke="#e02a2a" stroke-opacity="0.6" stroke-width="0.71" stroke-linecap="round"/>
<path d="M596.2,53.3L603.8,55.4M612.3,55.4L620.1,53.3M603.8,55.4L612.3,55.4M601.8,50.8L603.8,55.4" fill="none" stroke="#e02a2a" stroke-opacity="0.8" stroke-width="0.78" stroke-linecap="round"/>
<circle cx="600.0" cy="45.1" r="0.6" fill="#c83434" fill-opacity="0.7"/>
<circle cx="616.2" cy="45.0" r="0.6" fill="#c83434" fill-opacity="0.7"/>
<circle cx="596.2" cy="53.3" r="0.6" fill="#c83434" fill-opacity="0.7"/>
<circle cx="620.1" cy="53.3" r="0.6" fill="#c83434" fill-opacity="0.7"/>
<circle cx="603.8" cy="55.4" r="0.6" fill="#c83434" fill-opacity="0.7"/>
<circle cx="612.3" cy="55.4" r="0.6" fill="#c83434" fill-opacity="0.7"/>
<rect x="586.05" y="92.40" width="2.3" height="8.6" rx="0.9" fill="#f3f3f3" stroke="#8a8a8a" stroke-width="0.5"/>
<rect x="627.25" y="92.40" width="2.3" height="8.6" rx="0.9" fill="#f3f3f3" stroke="#8a8a8a" stroke-width="0.5"/>
<ellipse cx="607.80" cy="96.70" rx="19.6" ry="16.35" fill="#fff" stroke="#858585" stroke-width="0.6"/>
<path d="M604.20,80.70 L607.80,77.65 L611.40,80.70" fill="#f4f4f4" stroke="#858585" stroke-width="0.5"/>
<polygon points="600.0,98.3 616.2,98.2 620.1,106.5 612.3,108.6 603.8,108.6 596.2,106.5" fill="#e02a2a" fill-opacity="0.03"/>
<polygon points="596.2,106.5 601.8,104.0 613.9,104.0 620.1,106.5 612.3,108.6 603.8,108.6" fill="#e02a2a" fill-opacity="0.09"/>
<path d="M600.0,98.3L608.1,98.4M608.1,98.4L616.2,98.2M596.2,106.5L620.1,106.5M600.0,98.3L620.1,106.5M616.2,98.2L596.2,106.5M607.9,102.3L603.8,108.6M607.9,102.3L612.3,108.6M600.0,98.3L601.8,104.0M616.2,98.2L613.9,104.0M620.1,106.5L607.9,102.3M601.8,104.0L607.9,102.3M616.2,98.2L601.8,104.0" fill="none" stroke="#e02a2a" stroke-opacity="0.2" stroke-width="0.57" stroke-linecap="round"/>
<path d="M600.0,98.3L596.2,106.5M601.8,104.0L613.9,104.0M616.2,98.2L603.8,108.6M600.0,98.3L607.9,102.3M616.2,98.2L607.9,102.3M601.8,104.0L612.3,108.6" fill="none" stroke="#e02a2a" stroke-opacity="0.4" stroke-width="0.64" stroke-linecap="round"/>
<path d="M600.0,98.3L616.2,98.2M616.2,98.2L620.1,106.5M596.2,106.5L612.3,108.6" fill="none" stroke="#e02a2a" stroke-opacity="0.6" stroke-width="0.71" stroke-linecap="round"/>
<path d="M596.2,106.5L601.8,104.0M613.9,104.0L620.1,106.5M596.2,106.5L603.8,108.6M612.3,108.6L620.1,106.5M613.9,104.0L612.3,108.6M620.1,106.5L603.8,108.6" fill="none" stroke="#e02a2a" stroke-opacity="0.8" stroke-width="0.78" stroke-linecap="round"/>
<path d="M603.8,108.6L612.3,108.6M601.8,104.0L603.8,108.6" fill="none" stroke="#e02a2a" stroke-opacity="1.0" stroke-width="0.85" stroke-linecap="round"/>
<circle cx="600.0" cy="98.3" r="0.6" fill="#c83434" fill-opacity="0.7"/>
<circle cx="616.2" cy="98.2" r="0.6" fill="#c83434" fill-opacity="0.7"/>
<circle cx="596.2" cy="106.5" r="0.6" fill="#c83434" fill-opacity="0.7"/>
<circle cx="620.1" cy="106.5" r="0.6" fill="#c83434" fill-opacity="0.7"/>
<circle cx="603.8" cy="108.6" r="0.6" fill="#c83434" fill-opacity="0.7"/>
<circle cx="612.3" cy="108.6" r="0.6" fill="#c83434" fill-opacity="0.7"/>
<rect x="586.05" y="145.00" width="2.3" height="8.6" rx="0.9" fill="#f3f3f3" stroke="#8a8a8a" stroke-width="0.5"/>
<rect x="627.25" y="145.00" width="2.3" height="8.6" rx="0.9" fill="#f3f3f3" stroke="#8a8a8a" stroke-width="0.5"/>
<ellipse cx="607.80" cy="149.30" rx="19.6" ry="16.35" fill="#fff" stroke="#858585" stroke-width="0.6"/>
<path d="M604.20,133.30 L607.80,130.25 L611.40,133.30" fill="#f4f4f4" stroke="#858585" stroke-width="0.5"/>
<polygon points="600.0,150.9 616.2,150.8 620.1,159.1 612.3,161.2 603.8,161.2 596.2,159.1" fill="#e02a2a" fill-opacity="0.03"/>
<polygon points="596.2,159.1 601.8,156.6 613.9,156.6 620.1,159.1 612.3,161.2 603.8,161.2" fill="#e02a2a" fill-opacity="0.10"/>
<path d="M608.1,151.0L612.3,161.2M596.2,159.1L607.9,154.9M620.1,159.1L607.9,154.9M616.2,150.8L601.8,156.6" fill="none" stroke="#e02a2a" stroke-opacity="0.2" stroke-width="0.57" stroke-linecap="round"/>
<path d="M596.2,159.1L620.1,159.1M616.2,150.8L607.9,154.9M607.9,154.9L612.3,161.2M600.0,150.9L601.8,156.6M616.2,150.8L613.9,156.6M613.9,156.6L612.3,161.2M613.9,156.6L603.8,161.2M613.9,156.6L607.9,154.9" fill="none" stroke="#e02a2a" stroke-opacity="0.4" stroke-width="0.64" stroke-linecap="round"/>
<path d="M600.0,150.9L596.2,159.1M616.2,150.8L620.1,159.1M601.8,156.6L613.9,156.6M596.2,159.1L612.3,161.2M620.1,159.1L603.8,161.2" fill="none" stroke="#e02a2a" stroke-opacity="0.6" stroke-width="0.71" stroke-linecap="round"/>
<path d="M600.0,150.9L616.2,150.8M596.2,159.1L601.8,156.6M612.3,161.2L620.1,159.1M601.8,156.6L603.8,161.2" fill="none" stroke="#e02a2a" stroke-opacity="0.8" stroke-width="0.78" stroke-linecap="round"/>
<path d="M613.9,156.6L620.1,159.1M596.2,159.1L603.8,161.2M603.8,161.2L612.3,161.2" fill="none" stroke="#e02a2a" stroke-opacity="1.0" stroke-width="0.85" stroke-linecap="round"/>
<circle cx="600.0" cy="150.9" r="0.6" fill="#c83434" fill-opacity="0.7"/>
<circle cx="616.2" cy="150.8" r="0.6" fill="#c83434" fill-opacity="0.7"/>
<circle cx="596.2" cy="159.1" r="0.6" fill="#c83434" fill-opacity="0.7"/>
<circle cx="620.1" cy="159.1" r="0.6" fill="#c83434" fill-opacity="0.7"/>
<circle cx="603.8" cy="161.2" r="0.6" fill="#c83434" fill-opacity="0.7"/>
<circle cx="612.3" cy="161.2" r="0.6" fill="#c83434" fill-opacity="0.7"/>
<text x="662.75" y="12.5" font-size="10.2" text-anchor="middle" fill="#111">P12</text>
<rect x="640.05" y="39.20" width="2.3" height="8.6" rx="0.9" fill="#f3f3f3" stroke="#8a8a8a" stroke-width="0.5"/>
<rect x="681.25" y="39.20" width="2.3" height="8.6" rx="0.9" fill="#f3f3f3" stroke="#8a8a8a" stroke-width="0.5"/>
<ellipse cx="661.80" cy="43.50" rx="19.6" ry="16.35" fill="#fff" stroke="#858585" stroke-width="0.6"/>
<path d="M658.20,27.50 L661.80,24.45 L665.40,27.50" fill="#f4f4f4" stroke="#858585" stroke-width="0.5"/>
<polygon points="654.0,45.1 670.2,45.0 674.1,53.3 666.3,55.4 657.8,55.4 650.2,53.3" fill="#e02a2a" fill-opacity="0.03"/>
<polygon points="650.2,53.3 655.8,50.8 667.9,50.8 674.1,53.3 666.3,55.4 657.8,55.4" fill="#e02a2a" fill-opacity="0.09"/>
<path d="M670.2,45.0L650.2,53.3M654.0,45.1L661.9,49.1M661.9,49.1L657.8,55.4M650.2,53.3L666.3,55.4M667.9,50.8L657.8,55.4M650.2,53.3L661.9,49.1M674.1,53.3L661.9,49.1" fill="none" stroke="#e02a2a" stroke-opacity="0.2" stroke-width="0.57" stroke-linecap="round"/>
<path d="M654.0,45.1L650.2,53.3M650.2,53.3L674.1,53.3M670.2,45.0L661.9,49.1M661.9,49.1L666.3,55.4M654.0,45.1L655.8,50.8M670.2,45.0L667.9,50.8M655.8,50.8L666.3,55.4M655.8,50.8L661.9,49.1" fill="none" stroke="#e02a2a" stroke-opacity="0.4" stroke-width="0.64" stroke-linecap="round"/>
<path d="M654.0,45.1L670.2,45.0M670.2,45.0L674.1,53.3M650.2,53.3L655.8,50.8M655.8,50.8L667.9,50.8M650.2,53.3L657.8,55.4M674.1,53.3L657.8,55.4" fill="none" stroke="#e02a2a" stroke-opacity="0.6" stroke-width="0.71" stroke-linecap="round"/>
<path d="M667.9,50.8L674.1,53.3M666.3,55.4L674.1,53.3M655.8,50.8L657.8,55.4M667.9,50.8L666.3,55.4" fill="none" stroke="#e02a2a" stroke-opacity="0.8" stroke-width="0.78" stroke-linecap="round"/>
<path d="M657.8,55.4L666.3,55.4" fill="none" stroke="#e02a2a" stroke-opacity="1.0" stroke-width="0.85" stroke-linecap="round"/>
<circle cx="654.0" cy="45.1" r="0.6" fill="#c83434" fill-opacity="0.7"/>
<circle cx="670.2" cy="45.0" r="0.6" fill="#c83434" fill-opacity="0.7"/>
<circle cx="650.2" cy="53.3" r="0.6" fill="#c83434" fill-opacity="0.7"/>
<circle cx="674.1" cy="53.3" r="0.6" fill="#c83434" fill-opacity="0.7"/>
<circle cx="657.8" cy="55.4" r="0.6" fill="#c83434" fill-opacity="0.7"/>
<circle cx="666.3" cy="55.4" r="0.6" fill="#c83434" fill-opacity="0.7"/>
<rect x="640.05" y="92.40" width="2.3" height="8.6" rx="0.9" fill="#f3f3f3" stroke="#8a8a8a" stroke-width="0.5"/>
<rect x="681.25" y="92.40" width="2.3" height="8.6" rx="0.9" fill="#f3f3f3" stroke="#8a8a8a" stroke-width="0.5"/>
<ellipse cx="661.80" cy="96.70" rx="19.6" ry="16.35" fill="#fff" stroke="#858585" stroke-width="0.6"/>
<path d="M658.20,80.70 L661.80,77.65 L665.40,80.70" fill="#f4f4f4" stroke="#858585" stroke-width="0.5"/>
<polygon points="654.0,98.3 670.2,98.2 674.1,106.5 666.3,108.6 657.8,108.6 650.2,106.5" fill="#e02a2a" fill-opacity="0.03"/>
<polygon points="650.2,106.5 655.8,104.0 667.9,104.0 674.1,106.5 666.3,108.6 657.8,108.6" fill="#e02a2a" fill-opacity="0.10"/>
<path d="M662.1,98.4L670.2,98.2M654.0,98.3L674.1,106.5M661.9,102.3L666.3,108.6M650.2,106.5L666.3,108.6M650.2,106.5L661.9,102.3M654.0,98.3L667.9,104.0" fill="none" stroke="#e02a2a" stroke-opacity="0.2" stroke-width="0.57" stroke-linecap="round"/>
<path d="M654.0,98.3L661.9,102.3M667.9,104.0L657.8,108.6M674.1,106.5L661.9,102.3" fill="none" stroke="#e02a2a" stroke-opacity="0.4" stroke-width="0.64" stroke-linecap="round"/>
<path d="M654.0,98.3L670.2,98.2M654.0,98.3L650.2,106.5M670.2,98.2L674.1,106.5M655.8,104.0L667.9,104.0M670.2,98.2L657.8,108.6M670.2,98.2L661.9,102.3M654.0,98.3L655.8,104.0M670.2,98.2L667.9,104.0M655.8,104.0L666.3,108.6" fill="none" stroke="#e02a2a" stroke-opacity="0.6" stroke-width="0.71" stroke-linecap="round"/>
<path d="M650.2,106.5L674.1,106.5M650.2,106.5L655.8,104.0M667.9,104.0L674.1,106.5M666.3,108.6L674.1,106.5M657.8,108.6L666.3,108.6M674.1,106.5L657.8,108.6" fill="none" stroke="#e02a2a" stroke-opacity="0.8" stroke-width="0.78" stroke-linecap="round"/>
<path d="M650.2,106.5L657.8,108.6M667.9,104.0L666.3,108.6" fill="none" stroke="#e02a2a" stroke-opacity="1.0" stroke-width="0.85" stroke-linecap="round"/>
<circle cx="654.0" cy="98.3" r="0.6" fill="#c83434" fill-opacity="0.7"/>
<circle cx="670.2" cy="98.2" r="0.6" fill="#c83434" fill-opacity="0.7"/>
<circle cx="650.2" cy="106.5" r="0.6" fill="#c83434" fill-opacity="0.7"/>
<circle cx="674.1" cy="106.5" r="0.6" fill="#c83434" fill-opacity="0.7"/>
<circle cx="657.8" cy="108.6" r="0.6" fill="#c83434" fill-opacity="0.7"/>
<circle cx="666.3" cy="108.6" r="0.6" fill="#c83434" fill-opacity="0.7"/>
<rect x="640.05" y="145.00" width="2.3" height="8.6" rx="0.9" fill="#f3f3f3" stroke="#8a8a8a" stroke-width="0.5"/>
<rect x="681.25" y="145.00" width="2.3" height="8.6" rx="0.9" fill="#f3f3f3" stroke="#8a8a8a" stroke-width="0.5"/>
<ellipse cx="661.80" cy="149.30" rx="19.6" ry="16.35" fill="#fff" stroke="#858585" stroke-width="0.6"/>
<path d="M658.20,133.30 L661.80,130.25 L665.40,133.30" fill="#f4f4f4" stroke="#858585" stroke-width="0.5"/>
<polygon points="654.0,150.9 670.2,150.8 674.1,159.1 666.3,161.2 657.8,161.2 650.2,159.1" fill="#e02a2a" fill-opacity="0.03"/>
<polygon points="650.2,159.1 655.8,156.6 667.9,156.6 674.1,159.1 666.3,161.2 657.8,161.2" fill="#e02a2a" fill-opacity="0.09"/>
<path d="M670.2,150.8L650.2,159.1M655.8,156.6L657.8,161.2M650.2,159.1L666.3,161.2M674.1,159.1L657.8,161.2M667.9,156.6L661.9,154.9M670.2,150.8L655.8,156.6" fill="none" stroke="#e02a2a" stroke-opacity="0.2" stroke-width="0.57" stroke-linecap="round"/>
<path d="M670.2,150.8L674.1,159.1M650.2,159.1L674.1,159.1M670.2,150.8L657.8,161.2M654.0,150.9L674.1,159.1M661.9,154.9L666.3,161.2M670.2,150.8L667.9,156.6M655.8,156.6L666.3,161.2M667.9,156.6L657.8,161.2" fill="none" stroke="#e02a2a" stroke-opacity="0.4" stroke-width="0.64" stroke-linecap="round"/>
<path d="M654.0,150.9L670.2,150.8M654.0,150.9L650.2,159.1M667.9,156.6L674.1,159.1M654.0,150.9L661.9,154.9" fill="none" stroke="#e02a2a" stroke-opacity="0.6" stroke-width="0.71" stroke-linecap="round"/>
<path d="M650.2,159.1L655.8,156.6M666.3,161.2L674.1,159.1M657.8,161.2L666.3,161.2M667.9,156.6L666.3,161.2" fill="none" stroke="#e02a2a" stroke-opacity="0.8" stroke-width="0.78" stroke-linecap="round"/>
<path d="M650.2,159.1L657.8,161.2" fill="none" stroke="#e02a2a" stroke-opacity="1.0" stroke-width="0.85" stroke-linecap="round"/>
<circle cx="654.0" cy="150.9" r="0.6" fill="#c83434" fill-opacity="0.7"/>
<circle cx="670.2" cy="150.8" r="0.6" fill="#c83434" fill-opacity="0.7"/>
<circle cx="650.2" cy="159.1" r="0.6" fill="#c83434" fill-opacity="0.7"/>
<circle cx="674.1" cy="159.1" r="0.6" fill="#c83434" fill-opacity="0.7"/>
<circle cx="657.8" cy="161.2" r="0.6" fill="#c83434" fill-opacity="0.7"/>
<circle cx="666.3" cy="161.2" r="0.6" fill="#c83434" fill-opacity="0.7"/>
<text x="0.7" y="45.2" font-size="9.3" fill="#111">Baseline</text>
<text x="13.6" y="98.6" font-size="9.3" fill="#111">6M</text>
<text x="12.3" y="150.1" font-size="9.3" fill="#111">24M</text>
<text x="69.70" y="212.3" font-size="10.2" text-anchor="middle" fill="#111">P13</text>
<rect x="46.65" y="237.90" width="2.3" height="8.6" rx="0.9" fill="#f3f3f3" stroke="#8a8a8a" stroke-width="0.5"/>
<rect x="87.85" y="237.90" width="2.3" height="8.6" rx="0.9" fill="#f3f3f3" stroke="#8a8a8a" stroke-width="0.5"/>
<ellipse cx="68.40" cy="242.20" rx="19.6" ry="16.35" fill="#fff" stroke="#858585" stroke-width="0.6"/>
<path d="M64.80,226.20 L68.40,223.15 L72.00,226.20" fill="#f4f4f4" stroke="#858585" stroke-width="0.5"/>
<polygon points="60.6,243.8 76.8,243.7 80.7,252.0 72.9,254.1 64.4,254.1 56.8,252.0" fill="#e02a2a" fill-opacity="0.03"/>
<polygon points="56.8,252.0 62.4,249.5 74.5,249.5 80.7,252.0 72.9,254.1 64.4,254.1" fill="#e02a2a" fill-opacity="0.10"/>
<path d="M60.6,243.8L68.7,243.9M76.8,243.7L64.4,254.1M60.6,243.8L80.7,252.0M60.6,243.8L62.4,249.5M76.8,243.7L74.5,249.5M74.5,249.5L72.9,254.1M62.4,249.5L72.9,254.1M74.5,249.5L68.5,247.8" fill="none" stroke="#e02a2a" stroke-opacity="0.2" stroke-width="0.57" stroke-linecap="round"/>
<path d="M60.6,243.8L72.9,254.1M80.7,252.0L64.4,254.1M76.8,243.7L62.4,249.5" fill="none" stroke="#e02a2a" stroke-opacity="0.4" stroke-width="0.64" stroke-linecap="round"/>
<path d="M60.6,243.8L56.8,252.0M76.8,243.7L80.7,252.0M60.6,243.8L68.5,247.8M76.8,243.7L68.5,247.8M56.8,252.0L72.9,254.1M74.5,249.5L64.4,254.1" fill="none" stroke="#e02a2a" stroke-opacity="0.6" stroke-width="0.71" stroke-linecap="round"/>
<path d="M60.6,243.8L76.8,243.7M56.8,252.0L62.4,249.5M62.4,249.5L74.5,249.5M56.8,252.0L64.4,254.1M64.4,254.1L72.9,254.1" fill="none" stroke="#e02a2a" stroke-opacity="0.8" stroke-width="0.78" stroke-linecap="round"/>
<path d="M56.8,252.0L80.7,252.0M74.5,249.5L80.7,252.0M72.9,254.1L80.7,252.0M62.4,249.5L64.4,254.1" fill="none" stroke="#e02a2a" stroke-opacity="1.0" stroke-width="0.85" stroke-linecap="round"/>
<circle cx="60.6" cy="243.8" r="0.6" fill="#c83434" fill-opacity="0.7"/>
<circle cx="76.8" cy="243.7" r="0.6" fill="#c83434" fill-opacity="0.7"/>
<circle cx="56.8" cy="252.0" r="0.6" fill="#c83434" fill-opacity="0.7"/>
<circle cx="80.7" cy="252.0" r="0.6" fill="#c83434" fill-opacity="0.7"/>
<circle cx="64.4" cy="254.1" r="0.6" fill="#c83434" fill-opacity="0.7"/>
<circle cx="72.9" cy="254.1" r="0.6" fill="#c83434" fill-opacity="0.7"/>
<rect x="46.65" y="291.00" width="2.3" height="8.6" rx="0.9" fill="#f3f3f3" stroke="#8a8a8a" stroke-width="0.5"/>
<rect x="87.85" y="291.00" width="2.3" height="8.6" rx="0.9" fill="#f3f3f3" stroke="#8a8a8a" stroke-width="0.5"/>
<ellipse cx="68.40" cy="295.30" rx="19.6" ry="16.35" fill="#fff" stroke="#858585" stroke-width="0.6"/>
<path d="M64.80,279.30 L68.40,276.25 L72.00,279.30" fill="#f4f4f4" stroke="#858585" stroke-width="0.5"/>
<polygon points="60.6,296.9 76.8,296.8 80.7,305.1 72.9,307.2 64.4,307.2 56.8,305.1" fill="#e02a2a" fill-opacity="0.03"/>
<polygon points="56.8,305.1 62.4,302.6 74.5,302.6 80.7,305.1 72.9,307.2 64.4,307.2" fill="#e02a2a" fill-opacity="0.08"/>
<path d="M60.6,296.9L72.9,307.2M76.8,296.8L68.5,300.9M68.5,300.9L64.4,307.2M60.6,296.9L62.4,302.6M80.7,305.1L64.4,307.2M74.5,302.6L64.4,307.2M74.5,302.6L68.5,300.9M60.6,296.9L74.5,302.6" fill="none" stroke="#e02a2a" stroke-opacity="0.2" stroke-width="0.57" stroke-linecap="round"/>
<path d="M60.6,296.9L56.8,305.1M76.8,296.8L80.7,305.1M56.8,305.1L80.7,305.1M62.4,302.6L74.5,302.6M76.8,296.8L64.4,307.2M56.8,305.1L72.9,307.2" fill="none" stroke="#e02a2a" stroke-opacity="0.4" stroke-width="0.64" stroke-linecap="round"/>
<path d="M60.6,296.9L76.8,296.8M56.8,305.1L62.4,302.6M72.9,307.2L80.7,305.1M64.4,307.2L72.9,307.2M74.5,302.6L72.9,307.2" fill="none" stroke="#e02a2a" stroke-opacity="0.6" stroke-width="0.71" stroke-linecap="round"/>
<path d="M74.5,302.6L80.7,305.1M56.8,305.1L64.4,307.2" fill="none" stroke="#e02a2a" stroke-opacity="0.8" stroke-width="0.78" stroke-linecap="round"/>
<circle cx="60.6" cy="296.9" r="0.6" fill="#c83434" fill-opacity="0.7"/>
<circle cx="76.8" cy="296.8" r="0.6" fill="#c83434" fill-opacity="0.7"/>
<circle cx="56.8" cy="305.1" r="0.6" fill="#c83434" fill-opacity="0.7"/>
<circle cx="80.7" cy="305.1" r="0.6" fill="#c83434" fill-opacity="0.7"/>
<circle cx="64.4" cy="307.2" r="0.6" fill="#c83434" fill-opacity="0.7"/>
<circle cx="72.9" cy="307.2" r="0.6" fill="#c83434" fill-opacity="0.7"/>
<rect x="46.65" y="342.80" width="2.3" height="8.6" rx="0.9" fill="#f3f3f3" stroke="#8a8a8a" stroke-width="0.5"/>
<rect x="87.85" y="342.80" width="2.3" height="8.6" rx="0.9" fill="#f3f3f3" stroke="#8a8a8a" stroke-width="0.5"/>
<ellipse cx="68.40" cy="347.10" rx="19.6" ry="16.35" fill="#fff" stroke="#858585" stroke-width="0.6"/>
<path d="M64.80,331.10 L68.40,328.05 L72.00,331.10" fill="#f4f4f4" stroke="#858585" stroke-width="0.5"/>
<polygon points="60.6,348.7 76.8,348.6 80.7,356.9 72.9,359.0 64.4,359.0 56.8,356.9" fill="#e02a2a" fill-opacity="0.03"/>
<polygon points="56.8,356.9 62.4,354.4 74.5,354.4 80.7,356.9 72.9,359.0 64.4,359.0" fill="#e02a2a" fill-opacity="0.08"/>
<path d="M60.6,348.7L80.7,356.9M76.8,348.6L68.5,352.7M68.5,352.7L64.4,359.0M76.8,348.6L74.5,354.4M62.4,354.4L64.4,359.0M56.8,356.9L72.9,359.0M62.4,354.4L72.9,359.0M62.4,354.4L68.5,352.7" fill="none" stroke="#e02a2a" stroke-opacity="0.2" stroke-width="0.57" stroke-linecap="round"/>
<path d="M60.6,348.7L76.8,348.6M60.6,348.7L56.8,356.9M76.8,348.6L80.7,356.9M62.4,354.4L74.5,354.4M60.6,348.7L72.9,359.0M60.6,348.7L68.5,352.7M68.5,352.7L72.9,359.0" fill="none" stroke="#e02a2a" stroke-opacity="0.4" stroke-width="0.64" stroke-linecap="round"/>
<path d="M56.8,356.9L80.7,356.9M56.8,356.9L62.4,354.4M56.8,356.9L64.4,359.0M64.4,359.0L72.9,359.0" fill="none" stroke="#e02a2a" stroke-opacity="0.6" stroke-width="0.71" stroke-linecap="round"/>
<path d="M74.5,354.4L80.7,356.9M72.9,359.0L80.7,356.9M74.5,354.4L72.9,359.0" fill="none" stroke="#e02a2a" stroke-opacity="0.8" stroke-width="0.78" stroke-linecap="round"/>
<circle cx="60.6" cy="348.7" r="0.6" fill="#c83434" fill-opacity="0.7"/>
<circle cx="76.8" cy="348.6" r="0.6" fill="#c83434" fill-opacity="0.7"/>
<circle cx="56.8" cy="356.9" r="0.6" fill="#c83434" fill-opacity="0.7"/>
<circle cx="80.7" cy="356.9" r="0.6" fill="#c83434" fill-opacity="0.7"/>
<circle cx="64.4" cy="359.0" r="0.6" fill="#c83434" fill-opacity="0.7"/>
<circle cx="72.9" cy="359.0" r="0.6" fill="#c83434" fill-opacity="0.7"/>
<text x="123.72" y="212.3" font-size="10.2" text-anchor="middle" fill="#111">P14</text>
<rect x="100.75" y="237.90" width="2.3" height="8.6" rx="0.9" fill="#f3f3f3" stroke="#8a8a8a" stroke-width="0.5"/>
<rect x="141.95" y="237.90" width="2.3" height="8.6" rx="0.9" fill="#f3f3f3" stroke="#8a8a8a" stroke-width="0.5"/>
<ellipse cx="122.50" cy="242.20" rx="19.6" ry="16.35" fill="#fff" stroke="#858585" stroke-width="0.6"/>
<path d="M118.90,226.20 L122.50,223.15 L126.10,226.20" fill="#f4f4f4" stroke="#858585" stroke-width="0.5"/>
<polygon points="114.7,243.8 130.9,243.7 134.8,252.0 127.0,254.1 118.5,254.1 110.9,252.0" fill="#e02a2a" fill-opacity="0.03"/>
<polygon points="110.9,252.0 116.5,249.5 128.6,249.5 134.8,252.0 127.0,254.1 118.5,254.1" fill="#e02a2a" fill-opacity="0.09"/>
<path d="M122.8,243.9L130.9,243.7M114.7,243.8L127.0,254.1M114.7,243.8L134.8,252.0M114.7,243.8L122.6,247.8M114.7,243.8L116.5,249.5M110.9,252.0L127.0,254.1M134.8,252.0L118.5,254.1M114.7,243.8L128.6,249.5M130.9,243.7L116.5,249.5" fill="none" stroke="#e02a2a" stroke-opacity="0.2" stroke-width="0.57" stroke-linecap="round"/>
<path d="M130.9,243.7L110.9,252.0M130.9,243.7L122.6,247.8M122.6,247.8L118.5,254.1M122.6,247.8L127.0,254.1M128.6,249.5L118.5,254.1" fill="none" stroke="#e02a2a" stroke-opacity="0.4" stroke-width="0.64" stroke-linecap="round"/>
<path d="M114.7,243.8L130.9,243.7M114.7,243.8L110.9,252.0M130.9,243.7L134.8,252.0M110.9,252.0L134.8,252.0M116.5,249.5L128.6,249.5M130.9,243.7L128.6,249.5" fill="none" stroke="#e02a2a" stroke-opacity="0.6" stroke-width="0.71" stroke-linecap="round"/>
<path d="M110.9,252.0L116.5,249.5M128.6,249.5L134.8,252.0M127.0,254.1L134.8,252.0M118.5,254.1L127.0,254.1M128.6,249.5L127.0,254.1" fill="none" stroke="#e02a2a" stroke-opacity="0.8" stroke-width="0.78" stroke-linecap="round"/>
<path d="M110.9,252.0L118.5,254.1" fill="none" stroke="#e02a2a" stroke-opacity="1.0" stroke-width="0.85" stroke-linecap="round"/>
<circle cx="114.7" cy="243.8" r="0.6" fill="#c83434" fill-opacity="0.7"/>
<circle cx="130.9" cy="243.7" r="0.6" fill="#c83434" fill-opacity="0.7"/>
<circle cx="110.9" cy="252.0" r="0.6" fill="#c83434" fill-opacity="0.7"/>
<circle cx="134.8" cy="252.0" r="0.6" fill="#c83434" fill-opacity="0.7"/>
<circle cx="118.5" cy="254.1" r="0.6" fill="#c83434" fill-opacity="0.7"/>
<circle cx="127.0" cy="254.1" r="0.6" fill="#c83434" fill-opacity="0.7"/>
<rect x="100.75" y="291.00" width="2.3" height="8.6" rx="0.9" fill="#f3f3f3" stroke="#8a8a8a" stroke-width="0.5"/>
<rect x="141.95" y="291.00" width="2.3" height="8.6" rx="0.9" fill="#f3f3f3" stroke="#8a8a8a" stroke-width="0.5"/>
<ellipse cx="122.50" cy="295.30" rx="19.6" ry="16.35" fill="#fff" stroke="#858585" stroke-width="0.6"/>
<path d="M118.90,279.30 L122.50,276.25 L126.10,279.30" fill="#f4f4f4" stroke="#858585" stroke-width="0.5"/>
<polygon points="114.7,296.9 130.9,296.8 134.8,305.1 127.0,307.2 118.5,307.2 110.9,305.1" fill="#e02a2a" fill-opacity="0.03"/>
<polygon points="110.9,305.1 116.5,302.6 128.6,302.6 134.8,305.1 127.0,307.2 118.5,307.2" fill="#e02a2a" fill-opacity="0.10"/>
<path d="M116.5,302.6L128.6,302.6M114.7,296.9L134.8,305.1M114.7,296.9L122.6,300.9M122.8,297.0L127.0,307.2M110.9,305.1L122.6,300.9M128.6,302.6L122.6,300.9M114.7,296.9L128.6,302.6M130.9,296.8L116.5,302.6" fill="none" stroke="#e02a2a" stroke-opacity="0.2" stroke-width="0.57" stroke-linecap="round"/>
<path d="M114.7,296.9L127.0,307.2M130.9,296.8L122.6,300.9M122.6,300.9L118.5,307.2M114.7,296.9L116.5,302.6M130.9,296.8L128.6,302.6M128.6,302.6L118.5,307.2M116.5,302.6L122.6,300.9" fill="none" stroke="#e02a2a" stroke-opacity="0.4" stroke-width="0.64" stroke-linecap="round"/>
<path d="M114.7,296.9L130.9,296.8M114.7,296.9L110.9,305.1M130.9,296.8L134.8,305.1M110.9,305.1L127.0,307.2" fill="none" stroke="#e02a2a" stroke-opacity="0.6" stroke-width="0.71" stroke-linecap="round"/>
<path d="M110.9,305.1L116.5,302.6M128.6,302.6L134.8,305.1M110.9,305.1L118.5,307.2M118.5,307.2L127.0,307.2M134.8,305.1L118.5,307.2" fill="none" stroke="#e02a2a" stroke-opacity="0.8" stroke-width="0.78" stroke-linecap="round"/>
<path d="M110.9,305.1L134.8,305.1M127.0,307.2L134.8,305.1M116.5,302.6L118.5,307.2M128.6,302.6L127.0,307.2" fill="none" stroke="#e02a2a" stroke-opacity="1.0" stroke-width="0.85" stroke-linecap="round"/>
<circle cx="114.7" cy="296.9" r="0.6" fill="#c83434" fill-opacity="0.7"/>
<circle cx="130.9" cy="296.8" r="0.6" fill="#c83434" fill-opacity="0.7"/>
<circle cx="110.9" cy="305.1" r="0.6" fill="#c83434" fill-opacity="0.7"/>
<circle cx="134.8" cy="305.1" r="0.6" fill="#c83434" fill-opacity="0.7"/>
<circle cx="118.5" cy="307.2" r="0.6" fill="#c83434" fill-opacity="0.7"/>
<circle cx="127.0" cy="307.2" r="0.6" fill="#c83434" fill-opacity="0.7"/>
<rect x="100.75" y="342.80" width="2.3" height="8.6" rx="0.9" fill="#f3f3f3" stroke="#8a8a8a" stroke-width="0.5"/>
<rect x="141.95" y="342.80" width="2.3" height="8.6" rx="0.9" fill="#f3f3f3" stroke="#8a8a8a" stroke-width="0.5"/>
<ellipse cx="122.50" cy="347.10" rx="19.6" ry="16.35" fill="#fff" stroke="#858585" stroke-width="0.6"/>
<path d="M118.90,331.10 L122.50,328.05 L126.10,331.10" fill="#f4f4f4" stroke="#858585" stroke-width="0.5"/>
<polygon points="114.7,348.7 130.9,348.6 134.8,356.9 127.0,359.0 118.5,359.0 110.9,356.9" fill="#e02a2a" fill-opacity="0.03"/>
<polygon points="110.9,356.9 116.5,354.4 128.6,354.4 134.8,356.9 127.0,359.0 118.5,359.0" fill="#e02a2a" fill-opacity="0.09"/>
<path d="M122.6,352.7L118.5,359.0M122.6,352.7L127.0,359.0M128.6,354.4L118.5,359.0M134.8,356.9L122.6,352.7M116.5,354.4L122.6,352.7M114.7,348.7L128.6,354.4" fill="none" stroke="#e02a2a" stroke-opacity="0.2" stroke-width="0.57" stroke-linecap="round"/>
<path d="M130.9,348.6L134.8,356.9M130.9,348.6L118.5,359.0M130.9,348.6L110.9,356.9M114.7,348.7L122.6,352.7M130.9,348.6L122.6,352.7M128.6,354.4L127.0,359.0M110.9,356.9L127.0,359.0M116.5,354.4L127.0,359.0M128.6,354.4L122.6,352.7" fill="none" stroke="#e02a2a" stroke-opacity="0.4" stroke-width="0.64" stroke-linecap="round"/>
<path d="M114.7,348.7L130.9,348.6M114.7,348.7L110.9,356.9M116.5,354.4L128.6,354.4M127.0,359.0L134.8,356.9M134.8,356.9L118.5,359.0" fill="none" stroke="#e02a2a" stroke-opacity="0.6" stroke-width="0.71" stroke-linecap="round"/>
<path d="M110.9,356.9L134.8,356.9M110.9,356.9L116.5,354.4M128.6,354.4L134.8,356.9M110.9,356.9L118.5,359.0M118.5,359.0L127.0,359.0M116.5,354.4L118.5,359.0" fill="none" stroke="#e02a2a" stroke-opacity="0.8" stroke-width="0.78" stroke-linecap="round"/>
<circle cx="114.7" cy="348.7" r="0.6" fill="#c83434" fill-opacity="0.7"/>
<circle cx="130.9" cy="348.6" r="0.6" fill="#c83434" fill-opacity="0.7"/>
<circle cx="110.9" cy="356.9" r="0.6" fill="#c83434" fill-opacity="0.7"/>
<circle cx="134.8" cy="356.9" r="0.6" fill="#c83434" fill-opacity="0.7"/>
<circle cx="118.5" cy="359.0" r="0.6" fill="#c83434" fill-opacity="0.7"/>
<circle cx="127.0" cy="359.0" r="0.6" fill="#c83434" fill-opacity="0.7"/>
<text x="177.74" y="212.3" font-size="10.2" text-anchor="middle" fill="#111">P16</text>
<rect x="153.55" y="237.90" width="2.3" height="8.6" rx="0.9" fill="#f3f3f3" stroke="#8a8a8a" stroke-width="0.5"/>
<rect x="194.75" y="237.90" width="2.3" height="8.6" rx="0.9" fill="#f3f3f3" stroke="#8a8a8a" stroke-width="0.5"/>
<ellipse cx="175.30" cy="242.20" rx="19.6" ry="16.35" fill="#fff" stroke="#858585" stroke-width="0.6"/>
<path d="M171.70,226.20 L175.30,223.15 L178.90,226.20" fill="#f4f4f4" stroke="#858585" stroke-width="0.5"/>
<polygon points="167.5,243.8 183.7,243.7 187.6,252.0 179.8,254.1 171.3,254.1 163.7,252.0" fill="#e02a2a" fill-opacity="0.03"/>
<polygon points="163.7,252.0 169.3,249.5 181.4,249.5 187.6,252.0 179.8,254.1 171.3,254.1" fill="#e02a2a" fill-opacity="0.10"/>
<path d="M163.7,252.0L187.6,252.0M183.7,243.7L171.3,254.1M183.7,243.7L163.7,252.0M183.7,243.7L175.4,247.8M167.5,243.8L169.3,249.5M187.6,252.0L171.3,254.1M175.6,243.9L171.3,254.1M169.3,249.5L175.4,247.8M181.4,249.5L175.4,247.8" fill="none" stroke="#e02a2a" stroke-opacity="0.2" stroke-width="0.57" stroke-linecap="round"/>
<path d="M167.5,243.8L175.4,247.8M175.4,247.8L179.8,254.1M163.7,252.0L179.8,254.1M169.3,249.5L179.8,254.1M183.7,243.7L169.3,249.5" fill="none" stroke="#e02a2a" stroke-opacity="0.4" stroke-width="0.64" stroke-linecap="round"/>
<path d="M167.5,243.8L183.7,243.7M167.5,243.8L163.7,252.0M183.7,243.7L187.6,252.0M181.4,249.5L187.6,252.0M183.7,243.7L181.4,249.5M181.4,249.5L179.8,254.1M181.4,249.5L171.3,254.1" fill="none" stroke="#e02a2a" stroke-opacity="0.6" stroke-width="0.71" stroke-linecap="round"/>
<path d="M163.7,252.0L169.3,249.5M163.7,252.0L171.3,254.1M179.8,254.1L187.6,252.0" fill="none" stroke="#e02a2a" stroke-opacity="0.8" stroke-width="0.78" stroke-linecap="round"/>
<path d="M171.3,254.1L179.8,254.1M169.3,249.5L171.3,254.1" fill="none" stroke="#e02a2a" stroke-opacity="1.0" stroke-width="0.85" stroke-linecap="round"/>
<circle cx="167.5" cy="243.8" r="0.6" fill="#c83434" fill-opacity="0.7"/>
<circle cx="183.7" cy="243.7" r="0.6" fill="#c83434" fill-opacity="0.7"/>
<circle cx="163.7" cy="252.0" r="0.6" fill="#c83434" fill-opacity="0.7"/>
<circle cx="187.6" cy="252.0" r="0.6" fill="#c83434" fill-opacity="0.7"/>
<circle cx="171.3" cy="254.1" r="0.6" fill="#c83434" fill-opacity="0.7"/>
<circle cx="179.8" cy="254.1" r="0.6" fill="#c83434" fill-opacity="0.7"/>
<rect x="153.55" y="291.00" width="2.3" height="8.6" rx="0.9" fill="#f3f3f3" stroke="#8a8a8a" stroke-width="0.5"/>
<rect x="194.75" y="291.00" width="2.3" height="8.6" rx="0.9" fill="#f3f3f3" stroke="#8a8a8a" stroke-width="0.5"/>
<ellipse cx="175.30" cy="295.30" rx="19.6" ry="16.35" fill="#fff" stroke="#858585" stroke-width="0.6"/>
<path d="M171.70,279.30 L175.30,276.25 L178.90,279.30" fill="#f4f4f4" stroke="#858585" stroke-width="0.5"/>
<polygon points="167.5,296.9 183.7,296.8 187.6,305.1 179.8,307.2 171.3,307.2 163.7,305.1" fill="#e02a2a" fill-opacity="0.03"/>
<polygon points="163.7,305.1 169.3,302.6 181.4,302.6 187.6,305.1 179.8,307.2 171.3,307.2" fill="#e02a2a" fill-opacity="0.09"/>
<path d="M167.5,296.9L175.6,297.0M183.7,296.8L163.7,305.1M167.5,296.9L175.4,300.9M183.7,296.8L175.4,300.9M175.4,300.9L179.8,307.2M181.4,302.6L179.8,307.2M163.7,305.1L179.8,307.2M163.7,305.1L175.4,300.9M187.6,305.1L175.4,300.9M181.4,302.6L175.4,300.9" fill="none" stroke="#e02a2a" stroke-opacity="0.2" stroke-width="0.57" stroke-linecap="round"/>
<path d="M167.5,296.9L163.7,305.1M183.7,296.8L187.6,305.1M167.5,296.9L179.8,307.2M183.7,296.8L171.3,307.2M167.5,296.9L169.3,302.6M169.3,302.6L179.8,307.2" fill="none" stroke="#e02a2a" stroke-opacity="0.4" stroke-width="0.64" stroke-linecap="round"/>
<path d="M167.5,296.9L183.7,296.8M163.7,305.1L187.6,305.1M169.3,302.6L181.4,302.6M171.3,307.2L179.8,307.2M187.6,305.1L171.3,307.2M181.4,302.6L171.3,307.2" fill="none" stroke="#e02a2a" stroke-opacity="0.6" stroke-width="0.71" stroke-linecap="round"/>
<path d="M163.7,305.1L169.3,302.6M181.4,302.6L187.6,305.1M163.7,305.1L171.3,307.2M179.8,307.2L187.6,305.1" fill="none" stroke="#e02a2a" stroke-opacity="0.8" stroke-width="0.78" stroke-linecap="round"/>
<circle cx="167.5" cy="296.9" r="0.6" fill="#c83434" fill-opacity="0.7"/>
<circle cx="183.7" cy="296.8" r="0.6" fill="#c83434" fill-opacity="0.7"/>
<circle cx="163.7" cy="305.1" r="0.6" fill="#c83434" fill-opacity="0.7"/>
<circle cx="187.6" cy="305.1" r="0.6" fill="#c83434" fill-opacity="0.7"/>
<circle cx="171.3" cy="307.2" r="0.6" fill="#c83434" fill-opacity="0.7"/>
<circle cx="179.8" cy="307.2" r="0.6" fill="#c83434" fill-opacity="0.7"/>
<text x="231.76" y="212.3" font-size="10.2" text-anchor="middle" fill="#111">P17</text>
<rect x="207.45" y="237.90" width="2.3" height="8.6" rx="0.9" fill="#f3f3f3" stroke="#8a8a8a" stroke-width="0.5"/>
<rect x="248.65" y="237.90" width="2.3" height="8.6" rx="0.9" fill="#f3f3f3" stroke="#8a8a8a" stroke-width="0.5"/>
<ellipse cx="229.20" cy="242.20" rx="19.6" ry="16.35" fill="#fff" stroke="#858585" stroke-width="0.6"/>
<path d="M225.60,226.20 L229.20,223.15 L232.80,226.20" fill="#f4f4f4" stroke="#858585" stroke-width="0.5"/>
<polygon points="221.4,243.8 237.6,243.7 241.5,252.0 233.7,254.1 225.2,254.1 217.6,252.0" fill="#e02a2a" fill-opacity="0.03"/>
<polygon points="217.6,252.0 223.2,249.5 235.3,249.5 241.5,252.0 233.7,254.1 225.2,254.1" fill="#e02a2a" fill-opacity="0.10"/>
<path d="M221.4,243.8L229.5,243.9M221.4,243.8L233.7,254.1M221.4,243.8L241.5,252.0M237.6,243.7L217.6,252.0M229.3,247.8L233.7,254.1M223.2,249.5L233.7,254.1M217.6,252.0L229.3,247.8M241.5,252.0L229.3,247.8M221.4,243.8L235.3,249.5M237.6,243.7L223.2,249.5" fill="none" stroke="#e02a2a" stroke-opacity="0.2" stroke-width="0.57" stroke-linecap="round"/>
<path d="M221.4,243.8L217.6,252.0M217.6,252.0L241.5,252.0M237.6,243.7L225.2,254.1M221.4,243.8L223.2,249.5M241.5,252.0L225.2,254.1" fill="none" stroke="#e02a2a" stroke-opacity="0.4" stroke-width="0.64" stroke-linecap="round"/>
<path d="M221.4,243.8L237.6,243.7M237.6,243.7L241.5,252.0M237.6,243.7L229.3,247.8M237.6,243.7L235.3,249.5M235.3,249.5L225.2,254.1" fill="none" stroke="#e02a2a" stroke-opacity="0.6" stroke-width="0.71" stroke-linecap="round"/>
<path d="M235.3,249.5L241.5,252.0M217.6,252.0L225.2,254.1M233.7,254.1L241.5,252.0M235.3,249.5L233.7,254.1M217.6,252.0L233.7,254.1" fill="none" stroke="#e02a2a" stroke-opacity="0.8" stroke-width="0.78" stroke-linecap="round"/>
<path d="M217.6,252.0L223.2,249.5M225.2,254.1L233.7,254.1M223.2,249.5L225.2,254.1" fill="none" stroke="#e02a2a" stroke-opacity="1.0" stroke-width="0.85" stroke-linecap="round"/>
<circle cx="221.4" cy="243.8" r="0.6" fill="#c83434" fill-opacity="0.7"/>
<circle cx="237.6" cy="243.7" r="0.6" fill="#c83434" fill-opacity="0.7"/>
<circle cx="217.6" cy="252.0" r="0.6" fill="#c83434" fill-opacity="0.7"/>
<circle cx="241.5" cy="252.0" r="0.6" fill="#c83434" fill-opacity="0.7"/>
<circle cx="225.2" cy="254.1" r="0.6" fill="#c83434" fill-opacity="0.7"/>
<circle cx="233.7" cy="254.1" r="0.6" fill="#c83434" fill-opacity="0.7"/>
<rect x="207.45" y="291.00" width="2.3" height="8.6" rx="0.9" fill="#f3f3f3" stroke="#8a8a8a" stroke-width="0.5"/>
<rect x="248.65" y="291.00" width="2.3" height="8.6" rx="0.9" fill="#f3f3f3" stroke="#8a8a8a" stroke-width="0.5"/>
<ellipse cx="229.20" cy="295.30" rx="19.6" ry="16.35" fill="#fff" stroke="#858585" stroke-width="0.6"/>
<path d="M225.60,279.30 L229.20,276.25 L232.80,279.30" fill="#f4f4f4" stroke="#858585" stroke-width="0.5"/>
<polygon points="221.4,296.9 237.6,296.8 241.5,305.1 233.7,307.2 225.2,307.2 217.6,305.1" fill="#e02a2a" fill-opacity="0.03"/>
<polygon points="217.6,305.1 223.2,302.6 235.3,302.6 241.5,305.1 233.7,307.2 225.2,307.2" fill="#e02a2a" fill-opacity="0.10"/>
<path d="M221.4,296.9L229.5,297.0M229.5,297.0L237.6,296.8M237.6,296.8L217.6,305.1M229.3,300.9L225.2,307.2M229.3,300.9L233.7,307.2M235.3,302.6L225.2,307.2M217.6,305.1L229.3,300.9M241.5,305.1L229.3,300.9M221.4,296.9L235.3,302.6" fill="none" stroke="#e02a2a" stroke-opacity="0.2" stroke-width="0.57" stroke-linecap="round"/>
<path d="M217.6,305.1L241.5,305.1M223.2,302.6L235.3,302.6M237.6,296.8L229.3,300.9M237.6,296.8L235.3,302.6M223.2,302.6L225.2,307.2M223.2,302.6L229.3,300.9M235.3,302.6L229.3,300.9" fill="none" stroke="#e02a2a" stroke-opacity="0.4" stroke-width="0.64" stroke-linecap="round"/>
<path d="M221.4,296.9L217.6,305.1M237.6,296.8L241.5,305.1M221.4,296.9L233.7,307.2M221.4,296.9L229.3,300.9M221.4,296.9L223.2,302.6M217.6,305.1L233.7,307.2M241.5,305.1L225.2,307.2" fill="none" stroke="#e02a2a" stroke-opacity="0.6" stroke-width="0.71" stroke-linecap="round"/>
<path d="M221.4,296.9L237.6,296.8M217.6,305.1L223.2,302.6M225.2,307.2L233.7,307.2" fill="none" stroke="#e02a2a" stroke-opacity="0.8" stroke-width="0.78" stroke-linecap="round"/>
<path d="M235.3,302.6L241.5,305.1M217.6,305.1L225.2,307.2M233.7,307.2L241.5,305.1M235.3,302.6L233.7,307.2" fill="none" stroke="#e02a2a" stroke-opacity="1.0" stroke-width="0.85" stroke-linecap="round"/>
<circle cx="221.4" cy="296.9" r="0.6" fill="#c83434" fill-opacity="0.7"/>
<circle cx="237.6" cy="296.8" r="0.6" fill="#c83434" fill-opacity="0.7"/>
<circle cx="217.6" cy="305.1" r="0.6" fill="#c83434" fill-opacity="0.7"/>
<circle cx="241.5" cy="305.1" r="0.6" fill="#c83434" fill-opacity="0.7"/>
<circle cx="225.2" cy="307.2" r="0.6" fill="#c83434" fill-opacity="0.7"/>
<circle cx="233.7" cy="307.2" r="0.6" fill="#c83434" fill-opacity="0.7"/>
<rect x="207.45" y="342.80" width="2.3" height="8.6" rx="0.9" fill="#f3f3f3" stroke="#8a8a8a" stroke-width="0.5"/>
<rect x="248.65" y="342.80" width="2.3" height="8.6" rx="0.9" fill="#f3f3f3" stroke="#8a8a8a" stroke-width="0.5"/>
<ellipse cx="229.20" cy="347.10" rx="19.6" ry="16.35" fill="#fff" stroke="#858585" stroke-width="0.6"/>
<path d="M225.60,331.10 L229.20,328.05 L232.80,331.10" fill="#f4f4f4" stroke="#858585" stroke-width="0.5"/>
<polygon points="221.4,348.7 237.6,348.6 241.5,356.9 233.7,359.0 225.2,359.0 217.6,356.9" fill="#e02a2a" fill-opacity="0.03"/>
<polygon points="217.6,356.9 223.2,354.4 235.3,354.4 241.5,356.9 233.7,359.0 225.2,359.0" fill="#e02a2a" fill-opacity="0.10"/>
<path d="M221.4,348.7L229.3,352.7M229.3,352.7L233.7,359.0M221.4,348.7L223.2,354.4M229.5,348.8L233.7,359.0M241.5,356.9L229.3,352.7M223.2,354.4L229.3,352.7M235.3,354.4L229.3,352.7" fill="none" stroke="#e02a2a" stroke-opacity="0.2" stroke-width="0.57" stroke-linecap="round"/>
<path d="M221.4,348.7L217.6,356.9M223.2,354.4L235.3,354.4M221.4,348.7L241.5,356.9M237.6,348.6L217.6,356.9M229.3,352.7L225.2,359.0M237.6,348.6L235.3,354.4" fill="none" stroke="#e02a2a" stroke-opacity="0.4" stroke-width="0.64" stroke-linecap="round"/>
<path d="M221.4,348.7L237.6,348.6M237.6,348.6L241.5,356.9M217.6,356.9L241.5,356.9M217.6,356.9L233.7,359.0M241.5,356.9L225.2,359.0M223.2,354.4L233.7,359.0M235.3,354.4L225.2,359.0" fill="none" stroke="#e02a2a" stroke-opacity="0.6" stroke-width="0.71" stroke-linecap="round"/>
<path d="M217.6,356.9L223.2,354.4M235.3,354.4L241.5,356.9M223.2,354.4L225.2,359.0" fill="none" stroke="#e02a2a" stroke-opacity="0.8" stroke-width="0.78" stroke-linecap="round"/>
<path d="M217.6,356.9L225.2,359.0M233.7,359.0L241.5,356.9M225.2,359.0L233.7,359.0M235.3,354.4L233.7,359.0" fill="none" stroke="#e02a2a" stroke-opacity="1.0" stroke-width="0.85" stroke-linecap="round"/>
<circle cx="221.4" cy="348.7" r="0.6" fill="#c83434" fill-opacity="0.7"/>
<circle cx="237.6" cy="348.6" r="0.6" fill="#c83434" fill-opacity="0.7"/>
<circle cx="217.6" cy="356.9" r="0.6" fill="#c83434" fill-opacity="0.7"/>
<circle cx="241.5" cy="356.9" r="0.6" fill="#c83434" fill-opacity="0.7"/>
<circle cx="225.2" cy="359.0" r="0.6" fill="#c83434" fill-opacity="0.7"/>
<circle cx="233.7" cy="359.0" r="0.6" fill="#c83434" fill-opacity="0.7"/>
<text x="285.78" y="212.3" font-size="10.2" text-anchor="middle" fill="#111">P18</text>
<rect x="261.65" y="237.90" width="2.3" height="8.6" rx="0.9" fill="#f3f3f3" stroke="#8a8a8a" stroke-width="0.5"/>
<rect x="302.85" y="237.90" width="2.3" height="8.6" rx="0.9" fill="#f3f3f3" stroke="#8a8a8a" stroke-width="0.5"/>
<ellipse cx="283.40" cy="242.20" rx="19.6" ry="16.35" fill="#fff" stroke="#858585" stroke-width="0.6"/>
<path d="M279.80,226.20 L283.40,223.15 L287.00,226.20" fill="#f4f4f4" stroke="#858585" stroke-width="0.5"/>
<polygon points="275.6,243.8 291.8,243.7 295.7,252.0 287.9,254.1 279.4,254.1 271.8,252.0" fill="#e02a2a" fill-opacity="0.03"/>
<polygon points="271.8,252.0 277.4,249.5 289.5,249.5 295.7,252.0 287.9,254.1 279.4,254.1" fill="#e02a2a" fill-opacity="0.09"/>
<path d="M275.6,243.8L283.7,243.9M283.7,243.9L291.8,243.7M275.6,243.8L295.7,252.0M275.6,243.8L277.4,249.5M277.4,249.5L287.9,254.1M277.4,249.5L283.5,247.8M289.5,249.5L283.5,247.8M275.6,243.8L289.5,249.5" fill="none" stroke="#e02a2a" stroke-opacity="0.2" stroke-width="0.57" stroke-linecap="round"/>
<path d="M275.6,243.8L271.8,252.0M275.6,243.8L287.9,254.1M291.8,243.7L279.4,254.1M275.6,243.8L283.5,247.8M291.8,243.7L283.5,247.8M277.4,249.5L279.4,254.1M271.8,252.0L287.9,254.1" fill="none" stroke="#e02a2a" stroke-opacity="0.4" stroke-width="0.64" stroke-linecap="round"/>
<path d="M275.6,243.8L291.8,243.7M291.8,243.7L295.7,252.0M271.8,252.0L295.7,252.0M277.4,249.5L289.5,249.5M295.7,252.0L279.4,254.1M289.5,249.5L279.4,254.1" fill="none" stroke="#e02a2a" stroke-opacity="0.6" stroke-width="0.71" stroke-linecap="round"/>
<path d="M271.8,252.0L277.4,249.5M289.5,249.5L295.7,252.0M279.4,254.1L287.9,254.1M289.5,249.5L287.9,254.1" fill="none" stroke="#e02a2a" stroke-opacity="0.8" stroke-width="0.78" stroke-linecap="round"/>
<path d="M271.8,252.0L279.4,254.1M287.9,254.1L295.7,252.0" fill="none" stroke="#e02a2a" stroke-opacity="1.0" stroke-width="0.85" stroke-linecap="round"/>
<circle cx="275.6" cy="243.8" r="0.6" fill="#c83434" fill-opacity="0.7"/>
<circle cx="291.8" cy="243.7" r="0.6" fill="#c83434" fill-opacity="0.7"/>
<circle cx="271.8" cy="252.0" r="0.6" fill="#c83434" fill-opacity="0.7"/>
<circle cx="295.7" cy="252.0" r="0.6" fill="#c83434" fill-opacity="0.7"/>
<circle cx="279.4" cy="254.1" r="0.6" fill="#c83434" fill-opacity="0.7"/>
<circle cx="287.9" cy="254.1" r="0.6" fill="#c83434" fill-opacity="0.7"/>
<rect x="261.65" y="291.00" width="2.3" height="8.6" rx="0.9" fill="#f3f3f3" stroke="#8a8a8a" stroke-width="0.5"/>
<rect x="302.85" y="291.00" width="2.3" height="8.6" rx="0.9" fill="#f3f3f3" stroke="#8a8a8a" stroke-width="0.5"/>
<ellipse cx="283.40" cy="295.30" rx="19.6" ry="16.35" fill="#fff" stroke="#858585" stroke-width="0.6"/>
<path d="M279.80,279.30 L283.40,276.25 L287.00,279.30" fill="#f4f4f4" stroke="#858585" stroke-width="0.5"/>
<polygon points="275.6,296.9 291.8,296.8 295.7,305.1 287.9,307.2 279.4,307.2 271.8,305.1" fill="#e02a2a" fill-opacity="0.03"/>
<polygon points="271.8,305.1 277.4,302.6 289.5,302.6 295.7,305.1 287.9,307.2 279.4,307.2" fill="#e02a2a" fill-opacity="0.09"/>
<path d="M275.6,296.9L283.7,297.0M275.6,296.9L295.7,305.1M275.6,296.9L283.5,300.9M275.6,296.9L277.4,302.6M271.8,305.1L287.9,307.2M295.7,305.1L279.4,307.2M271.8,305.1L283.5,300.9M295.7,305.1L283.5,300.9M277.4,302.6L283.5,300.9" fill="none" stroke="#e02a2a" stroke-opacity="0.2" stroke-width="0.57" stroke-linecap="round"/>
<path d="M275.6,296.9L271.8,305.1M291.8,296.8L271.8,305.1M283.5,300.9L287.9,307.2M291.8,296.8L289.5,302.6M289.5,302.6L287.9,307.2M277.4,302.6L287.9,307.2M289.5,302.6L283.5,300.9" fill="none" stroke="#e02a2a" stroke-opacity="0.4" stroke-width="0.64" stroke-linecap="round"/>
<path d="M275.6,296.9L291.8,296.8M291.8,296.8L295.7,305.1M271.8,305.1L277.4,302.6M289.5,302.6L279.4,307.2" fill="none" stroke="#e02a2a" stroke-opacity="0.6" stroke-width="0.71" stroke-linecap="round"/>
<path d="M289.5,302.6L295.7,305.1M271.8,305.1L279.4,307.2M287.9,307.2L295.7,305.1M277.4,302.6L279.4,307.2" fill="none" stroke="#e02a2a" stroke-opacity="0.8" stroke-width="0.78" stroke-linecap="round"/>
<path d="M279.4,307.2L287.9,307.2" fill="none" stroke="#e02a2a" stroke-opacity="1.0" stroke-width="0.85" stroke-linecap="round"/>
<circle cx="275.6" cy="296.9" r="0.6" fill="#c83434" fill-opacity="0.7"/>
<circle cx="291.8" cy="296.8" r="0.6" fill="#c83434" fill-opacity="0.7"/>
<circle cx="271.8" cy="305.1" r="0.6" fill="#c83434" fill-opacity="0.7"/>
<circle cx="295.7" cy="305.1" r="0.6" fill="#c83434" fill-opacity="0.7"/>
<circle cx="279.4" cy="307.2" r="0.6" fill="#c83434" fill-opacity="0.7"/>
<circle cx="287.9" cy="307.2" r="0.6" fill="#c83434" fill-opacity="0.7"/>
<rect x="261.65" y="342.80" width="2.3" height="8.6" rx="0.9" fill="#f3f3f3" stroke="#8a8a8a" stroke-width="0.5"/>
<rect x="302.85" y="342.80" width="2.3" height="8.6" rx="0.9" fill="#f3f3f3" stroke="#8a8a8a" stroke-width="0.5"/>
<ellipse cx="283.40" cy="347.10" rx="19.6" ry="16.35" fill="#fff" stroke="#858585" stroke-width="0.6"/>
<path d="M279.80,331.10 L283.40,328.05 L287.00,331.10" fill="#f4f4f4" stroke="#858585" stroke-width="0.5"/>
<polygon points="275.6,348.7 291.8,348.6 295.7,356.9 287.9,359.0 279.4,359.0 271.8,356.9" fill="#e02a2a" fill-opacity="0.03"/>
<polygon points="271.8,356.9 277.4,354.4 289.5,354.4 295.7,356.9 287.9,359.0 279.4,359.0" fill="#e02a2a" fill-opacity="0.09"/>
<path d="M271.8,356.9L295.7,356.9M283.5,352.7L279.4,359.0M291.8,348.6L289.5,354.4M277.4,354.4L279.4,359.0M289.5,354.4L279.4,359.0M295.7,356.9L283.5,352.7M291.8,348.6L277.4,354.4" fill="none" stroke="#e02a2a" stroke-opacity="0.2" stroke-width="0.57" stroke-linecap="round"/>
<path d="M291.8,348.6L271.8,356.9M275.6,348.7L283.5,352.7M289.5,354.4L287.9,359.0M277.4,354.4L287.9,359.0" fill="none" stroke="#e02a2a" stroke-opacity="0.4" stroke-width="0.64" stroke-linecap="round"/>
<path d="M275.6,348.7L271.8,356.9M291.8,348.6L295.7,356.9M271.8,356.9L287.9,359.0" fill="none" stroke="#e02a2a" stroke-opacity="0.6" stroke-width="0.71" stroke-linecap="round"/>
<path d="M275.6,348.7L291.8,348.6M271.8,356.9L277.4,354.4M289.5,354.4L295.7,356.9M271.8,356.9L279.4,359.0M287.9,359.0L295.7,356.9M295.7,356.9L279.4,359.0" fill="none" stroke="#e02a2a" stroke-opacity="0.8" stroke-width="0.78" stroke-linecap="round"/>
<path d="M279.4,359.0L287.9,359.0" fill="none" stroke="#e02a2a" stroke-opacity="1.0" stroke-width="0.85" stroke-linecap="round"/>
<circle cx="275.6" cy="348.7" r="0.6" fill="#c83434" fill-opacity="0.7"/>
<circle cx="291.8" cy="348.6" r="0.6" fill="#c83434" fill-opacity="0.7"/>
<circle cx="271.8" cy="356.9" r="0.6" fill="#c83434" fill-opacity="0.7"/>
<circle cx="295.7" cy="356.9" r="0.6" fill="#c83434" fill-opacity="0.7"/>
<circle cx="279.4" cy="359.0" r="0.6" fill="#c83434" fill-opacity="0.7"/>
<circle cx="287.9" cy="359.0" r="0.6" fill="#c83434" fill-opacity="0.7"/>
<text x="339.80" y="212.3" font-size="10.2" text-anchor="middle" fill="#111">P19</text>
<rect x="315.75" y="237.90" width="2.3" height="8.6" rx="0.9" fill="#f3f3f3" stroke="#8a8a8a" stroke-width="0.5"/>
<rect x="356.95" y="237.90" width="2.3" height="8.6" rx="0.9" fill="#f3f3f3" stroke="#8a8a8a" stroke-width="0.5"/>
<ellipse cx="337.50" cy="242.20" rx="19.6" ry="16.35" fill="#fff" stroke="#858585" stroke-width="0.6"/>
<path d="M333.90,226.20 L337.50,223.15 L341.10,226.20" fill="#f4f4f4" stroke="#858585" stroke-width="0.5"/>
<polygon points="329.7,243.8 345.9,243.7 349.8,252.0 342.0,254.1 333.5,254.1 325.9,252.0" fill="#e02a2a" fill-opacity="0.03"/>
<polygon points="325.9,252.0 331.5,249.5 343.6,249.5 349.8,252.0 342.0,254.1 333.5,254.1" fill="#e02a2a" fill-opacity="0.10"/>
<path d="M345.9,243.7L343.6,249.5M343.6,249.5L333.5,254.1M337.8,243.9L333.5,254.1M325.9,252.0L337.6,247.8M349.8,252.0L337.6,247.8M331.5,249.5L337.6,247.8M329.7,243.8L343.6,249.5" fill="none" stroke="#e02a2a" stroke-opacity="0.2" stroke-width="0.57" stroke-linecap="round"/>
<path d="M331.5,249.5L343.6,249.5M345.9,243.7L333.5,254.1M329.7,243.8L349.8,252.0M345.9,243.7L325.9,252.0M329.7,243.8L337.6,247.8M337.6,247.8L333.5,254.1M337.6,247.8L342.0,254.1M329.7,243.8L331.5,249.5M343.6,249.5L342.0,254.1M343.6,249.5L337.6,247.8M345.9,243.7L331.5,249.5" fill="none" stroke="#e02a2a" stroke-opacity="0.4" stroke-width="0.64" stroke-linecap="round"/>
<path d="M329.7,243.8L345.9,243.7M329.7,243.8L325.9,252.0M329.7,243.8L342.0,254.1M345.9,243.7L337.6,247.8M331.5,249.5L342.0,254.1" fill="none" stroke="#e02a2a" stroke-opacity="0.6" stroke-width="0.71" stroke-linecap="round"/>
<path d="M345.9,243.7L349.8,252.0M325.9,252.0L349.8,252.0M331.5,249.5L333.5,254.1M325.9,252.0L342.0,254.1" fill="none" stroke="#e02a2a" stroke-opacity="0.8" stroke-width="0.78" stroke-linecap="round"/>
<path d="M325.9,252.0L331.5,249.5M343.6,249.5L349.8,252.0M325.9,252.0L333.5,254.1M342.0,254.1L349.8,252.0M333.5,254.1L342.0,254.1M349.8,252.0L333.5,254.1" fill="none" stroke="#e02a2a" stroke-opacity="1.0" stroke-width="0.85" stroke-linecap="round"/>
<circle cx="329.7" cy="243.8" r="0.6" fill="#c83434" fill-opacity="0.7"/>
<circle cx="345.9" cy="243.7" r="0.6" fill="#c83434" fill-opacity="0.7"/>
<circle cx="325.9" cy="252.0" r="0.6" fill="#c83434" fill-opacity="0.7"/>
<circle cx="349.8" cy="252.0" r="0.6" fill="#c83434" fill-opacity="0.7"/>
<circle cx="333.5" cy="254.1" r="0.6" fill="#c83434" fill-opacity="0.7"/>
<circle cx="342.0" cy="254.1" r="0.6" fill="#c83434" fill-opacity="0.7"/>
<rect x="315.75" y="291.00" width="2.3" height="8.6" rx="0.9" fill="#f3f3f3" stroke="#8a8a8a" stroke-width="0.5"/>
<rect x="356.95" y="291.00" width="2.3" height="8.6" rx="0.9" fill="#f3f3f3" stroke="#8a8a8a" stroke-width="0.5"/>
<ellipse cx="337.50" cy="295.30" rx="19.6" ry="16.35" fill="#fff" stroke="#858585" stroke-width="0.6"/>
<path d="M333.90,279.30 L337.50,276.25 L341.10,279.30" fill="#f4f4f4" stroke="#858585" stroke-width="0.5"/>
<polygon points="329.7,296.9 345.9,296.8 349.8,305.1 342.0,307.2 333.5,307.2 325.9,305.1" fill="#e02a2a" fill-opacity="0.03"/>
<polygon points="325.9,305.1 331.5,302.6 343.6,302.6 349.8,305.1 342.0,307.2 333.5,307.2" fill="#e02a2a" fill-opacity="0.10"/>
<path d="M337.8,297.0L345.9,296.8M337.6,300.9L342.0,307.2M345.9,296.8L343.6,302.6M325.9,305.1L342.0,307.2M331.5,302.6L342.0,307.2M325.9,305.1L337.6,300.9M343.6,302.6L337.6,300.9M329.7,296.9L343.6,302.6" fill="none" stroke="#e02a2a" stroke-opacity="0.2" stroke-width="0.57" stroke-linecap="round"/>
<path d="M329.7,296.9L325.9,305.1M329.7,296.9L349.8,305.1M329.7,296.9L337.6,300.9M345.9,296.8L337.6,300.9M343.6,302.6L333.5,307.2M349.8,305.1L337.6,300.9M331.5,302.6L337.6,300.9" fill="none" stroke="#e02a2a" stroke-opacity="0.4" stroke-width="0.64" stroke-linecap="round"/>
<path d="M345.9,296.8L349.8,305.1M331.5,302.6L343.6,302.6M345.9,296.8L333.5,307.2M329.7,296.9L331.5,302.6M349.8,305.1L333.5,307.2" fill="none" stroke="#e02a2a" stroke-opacity="0.6" stroke-width="0.71" stroke-linecap="round"/>
<path d="M329.7,296.9L345.9,296.8M325.9,305.1L331.5,302.6M343.6,302.6L349.8,305.1M325.9,305.1L333.5,307.2M331.5,302.6L333.5,307.2" fill="none" stroke="#e02a2a" stroke-opacity="0.8" stroke-width="0.78" stroke-linecap="round"/>
<path d="M342.0,307.2L349.8,305.1M333.5,307.2L342.0,307.2M343.6,302.6L342.0,307.2" fill="none" stroke="#e02a2a" stroke-opacity="1.0" stroke-width="0.85" stroke-linecap="round"/>
<circle cx="329.7" cy="296.9" r="0.6" fill="#c83434" fill-opacity="0.7"/>
<circle cx="345.9" cy="296.8" r="0.6" fill="#c83434" fill-opacity="0.7"/>
<circle cx="325.9" cy="305.1" r="0.6" fill="#c83434" fill-opacity="0.7"/>
<circle cx="349.8" cy="305.1" r="0.6" fill="#c83434" fill-opacity="0.7"/>
<circle cx="333.5" cy="307.2" r="0.6" fill="#c83434" fill-opacity="0.7"/>
<circle cx="342.0" cy="307.2" r="0.6" fill="#c83434" fill-opacity="0.7"/>
<rect x="315.75" y="342.80" width="2.3" height="8.6" rx="0.9" fill="#f3f3f3" stroke="#8a8a8a" stroke-width="0.5"/>
<rect x="356.95" y="342.80" width="2.3" height="8.6" rx="0.9" fill="#f3f3f3" stroke="#8a8a8a" stroke-width="0.5"/>
<ellipse cx="337.50" cy="347.10" rx="19.6" ry="16.35" fill="#fff" stroke="#858585" stroke-width="0.6"/>
<path d="M333.90,331.10 L337.50,328.05 L341.10,331.10" fill="#f4f4f4" stroke="#858585" stroke-width="0.5"/>
<polygon points="329.7,348.7 345.9,348.6 349.8,356.9 342.0,359.0 333.5,359.0 325.9,356.9" fill="#e02a2a" fill-opacity="0.03"/>
<polygon points="325.9,356.9 331.5,354.4 343.6,354.4 349.8,356.9 342.0,359.0 333.5,359.0" fill="#e02a2a" fill-opacity="0.09"/>
<path d="M345.9,348.6L333.5,359.0M329.7,348.7L331.5,354.4M343.6,354.4L342.0,359.0M343.6,354.4L333.5,359.0M343.6,354.4L337.6,352.7M329.7,348.7L343.6,354.4" fill="none" stroke="#e02a2a" stroke-opacity="0.2" stroke-width="0.57" stroke-linecap="round"/>
<path d="M331.5,354.4L343.6,354.4M329.7,348.7L337.6,352.7M345.9,348.6L337.6,352.7M337.6,352.7L333.5,359.0M345.9,348.6L343.6,354.4M331.5,354.4L337.6,352.7" fill="none" stroke="#e02a2a" stroke-opacity="0.4" stroke-width="0.64" stroke-linecap="round"/>
<path d="M329.7,348.7L345.9,348.6M329.7,348.7L325.9,356.9M345.9,348.6L349.8,356.9M343.6,354.4L349.8,356.9M331.5,354.4L342.0,359.0" fill="none" stroke="#e02a2a" stroke-opacity="0.6" stroke-width="0.71" stroke-linecap="round"/>
<path d="M325.9,356.9L349.8,356.9M325.9,356.9L331.5,354.4M342.0,359.0L349.8,356.9M325.9,356.9L342.0,359.0" fill="none" stroke="#e02a2a" stroke-opacity="0.8" stroke-width="0.78" stroke-linecap="round"/>
<path d="M325.9,356.9L333.5,359.0M333.5,359.0L342.0,359.0" fill="none" stroke="#e02a2a" stroke-opacity="1.0" stroke-width="0.85" stroke-linecap="round"/>
<circle cx="329.7" cy="348.7" r="0.6" fill="#c83434" fill-opacity="0.7"/>
<circle cx="345.9" cy="348.6" r="0.6" fill="#c83434" fill-opacity="0.7"/>
<circle cx="325.9" cy="356.9" r="0.6" fill="#c83434" fill-opacity="0.7"/>
<circle cx="349.8" cy="356.9" r="0.6" fill="#c83434" fill-opacity="0.7"/>
<circle cx="333.5" cy="359.0" r="0.6" fill="#c83434" fill-opacity="0.7"/>
<circle cx="342.0" cy="359.0" r="0.6" fill="#c83434" fill-opacity="0.7"/>
<text x="393.82" y="212.3" font-size="10.2" text-anchor="middle" fill="#111">P20</text>
<rect x="369.55" y="237.90" width="2.3" height="8.6" rx="0.9" fill="#f3f3f3" stroke="#8a8a8a" stroke-width="0.5"/>
<rect x="410.75" y="237.90" width="2.3" height="8.6" rx="0.9" fill="#f3f3f3" stroke="#8a8a8a" stroke-width="0.5"/>
<ellipse cx="391.30" cy="242.20" rx="19.6" ry="16.35" fill="#fff" stroke="#858585" stroke-width="0.6"/>
<path d="M387.70,226.20 L391.30,223.15 L394.90,226.20" fill="#f4f4f4" stroke="#858585" stroke-width="0.5"/>
<polygon points="383.5,243.8 399.7,243.7 403.6,252.0 395.8,254.1 387.3,254.1 379.7,252.0" fill="#e02a2a" fill-opacity="0.03"/>
<polygon points="379.7,252.0 385.3,249.5 397.4,249.5 403.6,252.0 395.8,254.1 387.3,254.1" fill="#e02a2a" fill-opacity="0.10"/>
<path d="M391.6,243.9L399.7,243.7M399.7,243.7L387.3,254.1M403.6,252.0L387.3,254.1M379.7,252.0L391.4,247.8M403.6,252.0L391.4,247.8M397.4,249.5L391.4,247.8" fill="none" stroke="#e02a2a" stroke-opacity="0.2" stroke-width="0.57" stroke-linecap="round"/>
<path d="M399.7,243.7L403.6,252.0M383.5,243.8L395.8,254.1M383.5,243.8L403.6,252.0M399.7,243.7L379.7,252.0M383.5,243.8L391.4,247.8M391.4,247.8L387.3,254.1M383.5,243.8L385.3,249.5M385.3,249.5L395.8,254.1" fill="none" stroke="#e02a2a" stroke-opacity="0.4" stroke-width="0.64" stroke-linecap="round"/>
<path d="M383.5,243.8L379.7,252.0M379.7,252.0L403.6,252.0M385.3,249.5L397.4,249.5M399.7,243.7L391.4,247.8M399.7,243.7L397.4,249.5" fill="none" stroke="#e02a2a" stroke-opacity="0.6" stroke-width="0.71" stroke-linecap="round"/>
<path d="M383.5,243.8L399.7,243.7M379.7,252.0L385.3,249.5M385.3,249.5L387.3,254.1M397.4,249.5L395.8,254.1M379.7,252.0L395.8,254.1" fill="none" stroke="#e02a2a" stroke-opacity="0.8" stroke-width="0.78" stroke-linecap="round"/>
<path d="M397.4,249.5L403.6,252.0M379.7,252.0L387.3,254.1M395.8,254.1L403.6,252.0M387.3,254.1L395.8,254.1" fill="none" stroke="#e02a2a" stroke-opacity="1.0" stroke-width="0.85" stroke-linecap="round"/>
<circle cx="383.5" cy="243.8" r="0.6" fill="#c83434" fill-opacity="0.7"/>
<circle cx="399.7" cy="243.7" r="0.6" fill="#c83434" fill-opacity="0.7"/>
<circle cx="379.7" cy="252.0" r="0.6" fill="#c83434" fill-opacity="0.7"/>
<circle cx="403.6" cy="252.0" r="0.6" fill="#c83434" fill-opacity="0.7"/>
<circle cx="387.3" cy="254.1" r="0.6" fill="#c83434" fill-opacity="0.7"/>
<circle cx="395.8" cy="254.1" r="0.6" fill="#c83434" fill-opacity="0.7"/>
<rect x="369.55" y="291.00" width="2.3" height="8.6" rx="0.9" fill="#f3f3f3" stroke="#8a8a8a" stroke-width="0.5"/>
<rect x="410.75" y="291.00" width="2.3" height="8.6" rx="0.9" fill="#f3f3f3" stroke="#8a8a8a" stroke-width="0.5"/>
<ellipse cx="391.30" cy="295.30" rx="19.6" ry="16.35" fill="#fff" stroke="#858585" stroke-width="0.6"/>
<path d="M387.70,279.30 L391.30,276.25 L394.90,279.30" fill="#f4f4f4" stroke="#858585" stroke-width="0.5"/>
<polygon points="383.5,296.9 399.7,296.8 403.6,305.1 395.8,307.2 387.3,307.2 379.7,305.1" fill="#e02a2a" fill-opacity="0.03"/>
<polygon points="379.7,305.1 385.3,302.6 397.4,302.6 403.6,305.1 395.8,307.2 387.3,307.2" fill="#e02a2a" fill-opacity="0.09"/>
<path d="M383.5,296.9L385.3,302.6M385.3,302.6L387.3,307.2M403.6,305.1L391.4,300.9M385.3,302.6L391.4,300.9M383.5,296.9L397.4,302.6M399.7,296.8L385.3,302.6" fill="none" stroke="#e02a2a" stroke-opacity="0.2" stroke-width="0.57" stroke-linecap="round"/>
<path d="M399.7,296.8L403.6,305.1M379.7,305.1L403.6,305.1M383.5,296.9L395.8,307.2M399.7,296.8L387.3,307.2M399.7,296.8L397.4,302.6M397.4,302.6L395.8,307.2M403.6,305.1L387.3,307.2" fill="none" stroke="#e02a2a" stroke-opacity="0.4" stroke-width="0.64" stroke-linecap="round"/>
<path d="M383.5,296.9L399.7,296.8M383.5,296.9L379.7,305.1M379.7,305.1L385.3,302.6M385.3,302.6L397.4,302.6M379.7,305.1L387.3,307.2M379.7,305.1L395.8,307.2" fill="none" stroke="#e02a2a" stroke-opacity="0.6" stroke-width="0.71" stroke-linecap="round"/>
<path d="M397.4,302.6L403.6,305.1M395.8,307.2L403.6,305.1M387.3,307.2L395.8,307.2" fill="none" stroke="#e02a2a" stroke-opacity="0.8" stroke-width="0.78" stroke-linecap="round"/>
<circle cx="383.5" cy="296.9" r="0.6" fill="#c83434" fill-opacity="0.7"/>
<circle cx="399.7" cy="296.8" r="0.6" fill="#c83434" fill-opacity="0.7"/>
<circle cx="379.7" cy="305.1" r="0.6" fill="#c83434" fill-opacity="0.7"/>
<circle cx="403.6" cy="305.1" r="0.6" fill="#c83434" fill-opacity="0.7"/>
<circle cx="387.3" cy="307.2" r="0.6" fill="#c83434" fill-opacity="0.7"/>
<circle cx="395.8" cy="307.2" r="0.6" fill="#c83434" fill-opacity="0.7"/>
<rect x="369.55" y="342.80" width="2.3" height="8.6" rx="0.9" fill="#f3f3f3" stroke="#8a8a8a" stroke-width="0.5"/>
<rect x="410.75" y="342.80" width="2.3" height="8.6" rx="0.9" fill="#f3f3f3" stroke="#8a8a8a" stroke-width="0.5"/>
<ellipse cx="391.30" cy="347.10" rx="19.6" ry="16.35" fill="#fff" stroke="#858585" stroke-width="0.6"/>
<path d="M387.70,331.10 L391.30,328.05 L394.90,331.10" fill="#f4f4f4" stroke="#858585" stroke-width="0.5"/>
<polygon points="383.5,348.7 399.7,348.6 403.6,356.9 395.8,359.0 387.3,359.0 379.7,356.9" fill="#e02a2a" fill-opacity="0.03"/>
<polygon points="379.7,356.9 385.3,354.4 397.4,354.4 403.6,356.9 395.8,359.0 387.3,359.0" fill="#e02a2a" fill-opacity="0.09"/>
<path d="M383.5,348.7L391.6,348.8M391.6,348.8L399.7,348.6M379.7,356.9L403.6,356.9M385.3,354.4L397.4,354.4M399.7,348.6L387.3,359.0M391.4,352.7L395.8,359.0M399.7,348.6L397.4,354.4M403.6,356.9L391.4,352.7M397.4,354.4L391.4,352.7" fill="none" stroke="#e02a2a" stroke-opacity="0.2" stroke-width="0.57" stroke-linecap="round"/>
<path d="M399.7,348.6L403.6,356.9M383.5,348.7L391.4,352.7M399.7,348.6L391.4,352.7M391.4,352.7L387.3,359.0M383.5,348.7L385.3,354.4M397.4,354.4L395.8,359.0M397.4,354.4L387.3,359.0M385.3,354.4L391.4,352.7" fill="none" stroke="#e02a2a" stroke-opacity="0.4" stroke-width="0.64" stroke-linecap="round"/>
<path d="M383.5,348.7L399.7,348.6M383.5,348.7L379.7,356.9M397.4,354.4L403.6,356.9M385.3,354.4L395.8,359.0" fill="none" stroke="#e02a2a" stroke-opacity="0.6" stroke-width="0.71" stroke-linecap="round"/>
<path d="M379.7,356.9L385.3,354.4M379.7,356.9L387.3,359.0M395.8,359.0L403.6,356.9M379.7,356.9L395.8,359.0M403.6,356.9L387.3,359.0" fill="none" stroke="#e02a2a" stroke-opacity="0.8" stroke-width="0.78" stroke-linecap="round"/>
<path d="M387.3,359.0L395.8,359.0M385.3,354.4L387.3,359.0" fill="none" stroke="#e02a2a" stroke-opacity="1.0" stroke-width="0.85" stroke-linecap="round"/>
<circle cx="383.5" cy="348.7" r="0.6" fill="#c83434" fill-opacity="0.7"/>
<circle cx="399.7" cy="348.6" r="0.6" fill="#c83434" fill-opacity="0.7"/>
<circle cx="379.7" cy="356.9" r="0.6" fill="#c83434" fill-opacity="0.7"/>
<circle cx="403.6" cy="356.9" r="0.6" fill="#c83434" fill-opacity="0.7"/>
<circle cx="387.3" cy="359.0" r="0.6" fill="#c83434" fill-opacity="0.7"/>
<circle cx="395.8" cy="359.0" r="0.6" fill="#c83434" fill-opacity="0.7"/>
<text x="447.84" y="212.3" font-size="10.2" text-anchor="middle" fill="#111">P21</text>
<rect x="423.65" y="237.90" width="2.3" height="8.6" rx="0.9" fill="#f3f3f3" stroke="#8a8a8a" stroke-width="0.5"/>
<rect x="464.85" y="237.90" width="2.3" height="8.6" rx="0.9" fill="#f3f3f3" stroke="#8a8a8a" stroke-width="0.5"/>
<ellipse cx="445.40" cy="242.20" rx="19.6" ry="16.35" fill="#fff" stroke="#858585" stroke-width="0.6"/>
<path d="M441.80,226.20 L445.40,223.15 L449.00,226.20" fill="#f4f4f4" stroke="#858585" stroke-width="0.5"/>
<polygon points="437.6,243.8 453.8,243.7 457.7,252.0 449.9,254.1 441.4,254.1 433.8,252.0" fill="#e02a2a" fill-opacity="0.03"/>
<polygon points="433.8,252.0 439.4,249.5 451.5,249.5 457.7,252.0 449.9,254.1 441.4,254.1" fill="#e02a2a" fill-opacity="0.09"/>
<path d="M437.6,243.8L449.9,254.1M453.8,243.7L445.5,247.8M437.6,243.8L439.4,249.5M451.5,249.5L441.4,254.1" fill="none" stroke="#e02a2a" stroke-opacity="0.2" stroke-width="0.57" stroke-linecap="round"/>
<path d="M453.8,243.7L457.7,252.0M437.6,243.8L457.7,252.0M437.6,243.8L445.5,247.8M453.8,243.7L451.5,249.5M439.4,249.5L441.4,254.1M451.5,249.5L445.5,247.8M453.8,243.7L439.4,249.5" fill="none" stroke="#e02a2a" stroke-opacity="0.4" stroke-width="0.64" stroke-linecap="round"/>
<path d="M437.6,243.8L453.8,243.7M437.6,243.8L433.8,252.0M453.8,243.7L441.4,254.1M457.7,252.0L441.4,254.1M439.4,249.5L449.9,254.1" fill="none" stroke="#e02a2a" stroke-opacity="0.6" stroke-width="0.71" stroke-linecap="round"/>
<path d="M433.8,252.0L439.4,249.5M451.5,249.5L457.7,252.0M433.8,252.0L441.4,254.1M449.9,254.1L457.7,252.0M451.5,249.5L449.9,254.1M433.8,252.0L449.9,254.1" fill="none" stroke="#e02a2a" stroke-opacity="0.8" stroke-width="0.78" stroke-linecap="round"/>
<path d="M441.4,254.1L449.9,254.1" fill="none" stroke="#e02a2a" stroke-opacity="1.0" stroke-width="0.85" stroke-linecap="round"/>
<circle cx="437.6" cy="243.8" r="0.6" fill="#c83434" fill-opacity="0.7"/>
<circle cx="453.8" cy="243.7" r="0.6" fill="#c83434" fill-opacity="0.7"/>
<circle cx="433.8" cy="252.0" r="0.6" fill="#c83434" fill-opacity="0.7"/>
<circle cx="457.7" cy="252.0" r="0.6" fill="#c83434" fill-opacity="0.7"/>
<circle cx="441.4" cy="254.1" r="0.6" fill="#c83434" fill-opacity="0.7"/>
<circle cx="449.9" cy="254.1" r="0.6" fill="#c83434" fill-opacity="0.7"/>
<rect x="423.65" y="342.80" width="2.3" height="8.6" rx="0.9" fill="#f3f3f3" stroke="#8a8a8a" stroke-width="0.5"/>
<rect x="464.85" y="342.80" width="2.3" height="8.6" rx="0.9" fill="#f3f3f3" stroke="#8a8a8a" stroke-width="0.5"/>
<ellipse cx="445.40" cy="347.10" rx="19.6" ry="16.35" fill="#fff" stroke="#858585" stroke-width="0.6"/>
<path d="M441.80,331.10 L445.40,328.05 L449.00,331.10" fill="#f4f4f4" stroke="#858585" stroke-width="0.5"/>
<polygon points="437.6,348.7 453.8,348.6 457.7,356.9 449.9,359.0 441.4,359.0 433.8,356.9" fill="#e02a2a" fill-opacity="0.03"/>
<polygon points="433.8,356.9 439.4,354.4 451.5,354.4 457.7,356.9 449.9,359.0 441.4,359.0" fill="#e02a2a" fill-opacity="0.11"/>
<path d="M437.6,348.7L445.7,348.8M445.7,348.8L453.8,348.6M433.8,356.9L457.7,356.9M437.6,348.7L449.9,359.0M453.8,348.6L433.8,356.9M453.8,348.6L445.5,352.7M439.4,354.4L445.5,352.7M437.6,348.7L451.5,354.4" fill="none" stroke="#e02a2a" stroke-opacity="0.2" stroke-width="0.57" stroke-linecap="round"/>
<path d="M445.5,352.7L441.4,359.0M445.5,352.7L449.9,359.0M437.6,348.7L439.4,354.4M453.8,348.6L451.5,354.4M439.4,354.4L441.4,359.0M433.8,356.9L449.9,359.0M439.4,354.4L449.9,359.0" fill="none" stroke="#e02a2a" stroke-opacity="0.4" stroke-width="0.64" stroke-linecap="round"/>
<path d="M437.6,348.7L433.8,356.9M453.8,348.6L457.7,356.9M439.4,354.4L451.5,354.4M437.6,348.7L445.5,352.7M451.5,354.4L449.9,359.0M451.5,354.4L441.4,359.0" fill="none" stroke="#e02a2a" stroke-opacity="0.6" stroke-width="0.71" stroke-linecap="round"/>
<path d="M437.6,348.7L453.8,348.6M433.8,356.9L439.4,354.4" fill="none" stroke="#e02a2a" stroke-opacity="0.8" stroke-width="0.78" stroke-linecap="round"/>
<path d="M451.5,354.4L457.7,356.9M433.8,356.9L441.4,359.0M449.9,359.0L457.7,356.9M441.4,359.0L449.9,359.0M457.7,356.9L441.4,359.0" fill="none" stroke="#e02a2a" stroke-opacity="1.0" stroke-width="0.85" stroke-linecap="round"/>
<circle cx="437.6" cy="348.7" r="0.6" fill="#c83434" fill-opacity="0.7"/>
<circle cx="453.8" cy="348.6" r="0.6" fill="#c83434" fill-opacity="0.7"/>
<circle cx="433.8" cy="356.9" r="0.6" fill="#c83434" fill-opacity="0.7"/>
<circle cx="457.7" cy="356.9" r="0.6" fill="#c83434" fill-opacity="0.7"/>
<circle cx="441.4" cy="359.0" r="0.6" fill="#c83434" fill-opacity="0.7"/>
<circle cx="449.9" cy="359.0" r="0.6" fill="#c83434" fill-opacity="0.7"/>
<text x="445.40" y="326.85" font-size="2.6" font-weight="bold" text-anchor="middle" textLength="12.2" lengthAdjust="spacingAndGlyphs" fill="#222">Brain Network</text>
<text x="501.86" y="212.3" font-size="10.2" text-anchor="middle" fill="#111">P22</text>
<rect x="477.55" y="237.90" width="2.3" height="8.6" rx="0.9" fill="#f3f3f3" stroke="#8a8a8a" stroke-width="0.5"/>
<rect x="518.75" y="237.90" width="2.3" height="8.6" rx="0.9" fill="#f3f3f3" stroke="#8a8a8a" stroke-width="0.5"/>
<ellipse cx="499.30" cy="242.20" rx="19.6" ry="16.35" fill="#fff" stroke="#858585" stroke-width="0.6"/>
<path d="M495.70,226.20 L499.30,223.15 L502.90,226.20" fill="#f4f4f4" stroke="#858585" stroke-width="0.5"/>
<polygon points="491.5,243.8 507.7,243.7 511.6,252.0 503.8,254.1 495.3,254.1 487.7,252.0" fill="#e02a2a" fill-opacity="0.03"/>
<polygon points="487.7,252.0 493.3,249.5 505.4,249.5 511.6,252.0 503.8,254.1 495.3,254.1" fill="#e02a2a" fill-opacity="0.10"/>
<path d="M507.7,243.7L495.3,254.1M499.4,247.8L503.8,254.1M511.6,252.0L495.3,254.1M499.6,243.9L503.8,254.1M487.7,252.0L499.4,247.8M491.5,243.8L505.4,249.5" fill="none" stroke="#e02a2a" stroke-opacity="0.2" stroke-width="0.57" stroke-linecap="round"/>
<path d="M491.5,243.8L503.8,254.1M507.7,243.7L487.7,252.0M507.7,243.7L499.4,247.8M507.7,243.7L505.4,249.5M487.7,252.0L503.8,254.1M505.4,249.5L495.3,254.1M511.6,252.0L499.4,247.8M493.3,249.5L499.4,247.8M505.4,249.5L499.4,247.8" fill="none" stroke="#e02a2a" stroke-opacity="0.4" stroke-width="0.64" stroke-linecap="round"/>
<path d="M491.5,243.8L507.7,243.7M491.5,243.8L487.7,252.0M507.7,243.7L511.6,252.0M487.7,252.0L511.6,252.0M493.3,249.5L503.8,254.1" fill="none" stroke="#e02a2a" stroke-opacity="0.6" stroke-width="0.71" stroke-linecap="round"/>
<path d="M493.3,249.5L505.4,249.5M505.4,249.5L511.6,252.0M493.3,249.5L495.3,254.1" fill="none" stroke="#e02a2a" stroke-opacity="0.8" stroke-width="0.78" stroke-linecap="round"/>
<path d="M487.7,252.0L493.3,249.5M487.7,252.0L495.3,254.1M503.8,254.1L511.6,252.0M495.3,254.1L503.8,254.1" fill="none" stroke="#e02a2a" stroke-opacity="1.0" stroke-width="0.85" stroke-linecap="round"/>
<circle cx="491.5" cy="243.8" r="0.6" fill="#c83434" fill-opacity="0.7"/>
<circle cx="507.7" cy="243.7" r="0.6" fill="#c83434" fill-opacity="0.7"/>
<circle cx="487.7" cy="252.0" r="0.6" fill="#c83434" fill-opacity="0.7"/>
<circle cx="511.6" cy="252.0" r="0.6" fill="#c83434" fill-opacity="0.7"/>
<circle cx="495.3" cy="254.1" r="0.6" fill="#c83434" fill-opacity="0.7"/>
<circle cx="503.8" cy="254.1" r="0.6" fill="#c83434" fill-opacity="0.7"/>
<rect x="477.55" y="291.00" width="2.3" height="8.6" rx="0.9" fill="#f3f3f3" stroke="#8a8a8a" stroke-width="0.5"/>
<rect x="518.75" y="291.00" width="2.3" height="8.6" rx="0.9" fill="#f3f3f3" stroke="#8a8a8a" stroke-width="0.5"/>
<ellipse cx="499.30" cy="295.30" rx="19.6" ry="16.35" fill="#fff" stroke="#858585" stroke-width="0.6"/>
<path d="M495.70,279.30 L499.30,276.25 L502.90,279.30" fill="#f4f4f4" stroke="#858585" stroke-width="0.5"/>
<polygon points="491.5,296.9 507.7,296.8 511.6,305.1 503.8,307.2 495.3,307.2 487.7,305.1" fill="#e02a2a" fill-opacity="0.03"/>
<polygon points="487.7,305.1 493.3,302.6 505.4,302.6 511.6,305.1 503.8,307.2 495.3,307.2" fill="#e02a2a" fill-opacity="0.11"/>
<path d="M507.7,296.8L495.3,307.2M507.7,296.8L505.4,302.6M511.6,305.1L495.3,307.2M511.6,305.1L499.4,300.9" fill="none" stroke="#e02a2a" stroke-opacity="0.2" stroke-width="0.57" stroke-linecap="round"/>
<path d="M491.5,296.9L503.8,307.2M491.5,296.9L511.6,305.1M507.7,296.8L499.4,300.9M499.4,300.9L503.8,307.2M491.5,296.9L493.3,302.6M493.3,302.6L503.8,307.2" fill="none" stroke="#e02a2a" stroke-opacity="0.4" stroke-width="0.64" stroke-linecap="round"/>
<path d="M491.5,296.9L487.7,305.1M507.7,296.8L511.6,305.1M491.5,296.9L499.4,300.9" fill="none" stroke="#e02a2a" stroke-opacity="0.6" stroke-width="0.71" stroke-linecap="round"/>
<path d="M491.5,296.9L507.7,296.8M487.7,305.1L511.6,305.1M487.7,305.1L493.3,302.6M493.3,302.6L505.4,302.6M493.3,302.6L495.3,307.2" fill="none" stroke="#e02a2a" stroke-opacity="0.8" stroke-width="0.78" stroke-linecap="round"/>
<path d="M505.4,302.6L511.6,305.1M487.7,305.1L495.3,307.2M503.8,307.2L511.6,305.1M495.3,307.2L503.8,307.2M505.4,302.6L503.8,307.2M487.7,305.1L503.8,307.2" fill="none" stroke="#e02a2a" stroke-opacity="1.0" stroke-width="0.85" stroke-linecap="round"/>
<circle cx="491.5" cy="296.9" r="0.6" fill="#c83434" fill-opacity="0.7"/>
<circle cx="507.7" cy="296.8" r="0.6" fill="#c83434" fill-opacity="0.7"/>
<circle cx="487.7" cy="305.1" r="0.6" fill="#c83434" fill-opacity="0.7"/>
<circle cx="511.6" cy="305.1" r="0.6" fill="#c83434" fill-opacity="0.7"/>
<circle cx="495.3" cy="307.2" r="0.6" fill="#c83434" fill-opacity="0.7"/>
<circle cx="503.8" cy="307.2" r="0.6" fill="#c83434" fill-opacity="0.7"/>
<text x="555.88" y="212.3" font-size="10.2" text-anchor="middle" fill="#111">P23</text>
<rect x="531.85" y="237.90" width="2.3" height="8.6" rx="0.9" fill="#f3f3f3" stroke="#8a8a8a" stroke-width="0.5"/>
<rect x="573.05" y="237.90" width="2.3" height="8.6" rx="0.9" fill="#f3f3f3" stroke="#8a8a8a" stroke-width="0.5"/>
<ellipse cx="553.60" cy="242.20" rx="19.6" ry="16.35" fill="#fff" stroke="#858585" stroke-width="0.6"/>
<path d="M550.00,226.20 L553.60,223.15 L557.20,226.20" fill="#f4f4f4" stroke="#858585" stroke-width="0.5"/>
<polygon points="545.8,243.8 562.0,243.7 565.9,252.0 558.1,254.1 549.6,254.1 542.0,252.0" fill="#e02a2a" fill-opacity="0.03"/>
<polygon points="542.0,252.0 547.6,249.5 559.7,249.5 565.9,252.0 558.1,254.1 549.6,254.1" fill="#e02a2a" fill-opacity="0.09"/>
<path d="M545.8,243.8L553.9,243.9M547.6,249.5L558.1,254.1M559.7,249.5L549.6,254.1M545.8,243.8L559.7,249.5" fill="none" stroke="#e02a2a" stroke-opacity="0.2" stroke-width="0.57" stroke-linecap="round"/>
<path d="M545.8,243.8L542.0,252.0M562.0,243.7L565.9,252.0M547.6,249.5L559.7,249.5M545.8,243.8L558.1,254.1M545.8,243.8L553.7,247.8M562.0,243.7L559.7,249.5M547.6,249.5L549.6,254.1M559.7,249.5L558.1,254.1M542.0,252.0L558.1,254.1" fill="none" stroke="#e02a2a" stroke-opacity="0.4" stroke-width="0.64" stroke-linecap="round"/>
<path d="M545.8,243.8L562.0,243.7M542.0,252.0L547.6,249.5M559.7,249.5L565.9,252.0M565.9,252.0L549.6,254.1" fill="none" stroke="#e02a2a" stroke-opacity="0.6" stroke-width="0.71" stroke-linecap="round"/>
<path d="M542.0,252.0L549.6,254.1M558.1,254.1L565.9,252.0M549.6,254.1L558.1,254.1" fill="none" stroke="#e02a2a" stroke-opacity="0.8" stroke-width="0.78" stroke-linecap="round"/>
<circle cx="545.8" cy="243.8" r="0.6" fill="#c83434" fill-opacity="0.7"/>
<circle cx="562.0" cy="243.7" r="0.6" fill="#c83434" fill-opacity="0.7"/>
<circle cx="542.0" cy="252.0" r="0.6" fill="#c83434" fill-opacity="0.7"/>
<circle cx="565.9" cy="252.0" r="0.6" fill="#c83434" fill-opacity="0.7"/>
<circle cx="549.6" cy="254.1" r="0.6" fill="#c83434" fill-opacity="0.7"/>
<circle cx="558.1" cy="254.1" r="0.6" fill="#c83434" fill-opacity="0.7"/>
<rect x="531.85" y="291.00" width="2.3" height="8.6" rx="0.9" fill="#f3f3f3" stroke="#8a8a8a" stroke-width="0.5"/>
<rect x="573.05" y="291.00" width="2.3" height="8.6" rx="0.9" fill="#f3f3f3" stroke="#8a8a8a" stroke-width="0.5"/>
<ellipse cx="553.60" cy="295.30" rx="19.6" ry="16.35" fill="#fff" stroke="#858585" stroke-width="0.6"/>
<path d="M550.00,279.30 L553.60,276.25 L557.20,279.30" fill="#f4f4f4" stroke="#858585" stroke-width="0.5"/>
<polygon points="545.8,296.9 562.0,296.8 565.9,305.1 558.1,307.2 549.6,307.2 542.0,305.1" fill="#e02a2a" fill-opacity="0.03"/>
<polygon points="542.0,305.1 547.6,302.6 559.7,302.6 565.9,305.1 558.1,307.2 549.6,307.2" fill="#e02a2a" fill-opacity="0.10"/>
<path d="M545.8,296.9L558.1,307.2M545.8,296.9L553.7,300.9M553.7,300.9L549.6,307.2M547.6,302.6L549.6,307.2M559.7,302.6L558.1,307.2M547.6,302.6L553.7,300.9" fill="none" stroke="#e02a2a" stroke-opacity="0.2" stroke-width="0.57" stroke-linecap="round"/>
<path d="M542.0,305.1L565.9,305.1M562.0,296.8L549.6,307.2M545.8,296.9L565.9,305.1M562.0,296.8L542.0,305.1M553.7,300.9L558.1,307.2M562.0,296.8L559.7,302.6M547.6,302.6L558.1,307.2M559.7,302.6L553.7,300.9" fill="none" stroke="#e02a2a" stroke-opacity="0.4" stroke-width="0.64" stroke-linecap="round"/>
<path d="M545.8,296.9L542.0,305.1M562.0,296.8L565.9,305.1M547.6,302.6L559.7,302.6M562.0,296.8L553.7,300.9M559.7,302.6L549.6,307.2" fill="none" stroke="#e02a2a" stroke-opacity="0.6" stroke-width="0.71" stroke-linecap="round"/>
<path d="M545.8,296.9L562.0,296.8M558.1,307.2L565.9,305.1M542.0,305.1L558.1,307.2M565.9,305.1L549.6,307.2" fill="none" stroke="#e02a2a" stroke-opacity="0.8" stroke-width="0.78" stroke-linecap="round"/>
<path d="M542.0,305.1L547.6,302.6M559.7,302.6L565.9,305.1M542.0,305.1L549.6,307.2M549.6,307.2L558.1,307.2" fill="none" stroke="#e02a2a" stroke-opacity="1.0" stroke-width="0.85" stroke-linecap="round"/>
<circle cx="545.8" cy="296.9" r="0.6" fill="#c83434" fill-opacity="0.7"/>
<circle cx="562.0" cy="296.8" r="0.6" fill="#c83434" fill-opacity="0.7"/>
<circle cx="542.0" cy="305.1" r="0.6" fill="#c83434" fill-opacity="0.7"/>
<circle cx="565.9" cy="305.1" r="0.6" fill="#c83434" fill-opacity="0.7"/>
<circle cx="549.6" cy="307.2" r="0.6" fill="#c83434" fill-opacity="0.7"/>
<circle cx="558.1" cy="307.2" r="0.6" fill="#c83434" fill-opacity="0.7"/>
<text x="609.90" y="212.3" font-size="10.2" text-anchor="middle" fill="#111">P25</text>
<rect x="586.25" y="237.90" width="2.3" height="8.6" rx="0.9" fill="#f3f3f3" stroke="#8a8a8a" stroke-width="0.5"/>
<rect x="627.45" y="237.90" width="2.3" height="8.6" rx="0.9" fill="#f3f3f3" stroke="#8a8a8a" stroke-width="0.5"/>
<ellipse cx="608.00" cy="242.20" rx="19.6" ry="16.35" fill="#fff" stroke="#858585" stroke-width="0.6"/>
<path d="M604.40,226.20 L608.00,223.15 L611.60,226.20" fill="#f4f4f4" stroke="#858585" stroke-width="0.5"/>
<polygon points="600.2,243.8 616.4,243.7 620.3,252.0 612.5,254.1 604.0,254.1 596.4,252.0" fill="#e02a2a" fill-opacity="0.03"/>
<polygon points="596.4,252.0 602.0,249.5 614.1,249.5 620.3,252.0 612.5,254.1 604.0,254.1" fill="#e02a2a" fill-opacity="0.09"/>
<path d="M608.3,243.9L616.4,243.7M596.4,252.0L620.3,252.0M600.2,243.8L620.3,252.0M616.4,243.7L608.1,247.8M608.1,247.8L612.5,254.1M600.2,243.8L602.0,249.5M616.4,243.7L614.1,249.5M602.0,249.5L608.1,247.8M600.2,243.8L614.1,249.5M616.4,243.7L602.0,249.5" fill="none" stroke="#e02a2a" stroke-opacity="0.2" stroke-width="0.57" stroke-linecap="round"/>
<path d="M616.4,243.7L620.3,252.0M616.4,243.7L604.0,254.1M616.4,243.7L596.4,252.0M602.0,249.5L604.0,254.1M596.4,252.0L612.5,254.1M602.0,249.5L612.5,254.1M614.1,249.5L608.1,247.8" fill="none" stroke="#e02a2a" stroke-opacity="0.4" stroke-width="0.64" stroke-linecap="round"/>
<path d="M600.2,243.8L616.4,243.7M600.2,243.8L596.4,252.0M600.2,243.8L608.1,247.8M620.3,252.0L604.0,254.1" fill="none" stroke="#e02a2a" stroke-opacity="0.6" stroke-width="0.71" stroke-linecap="round"/>
<path d="M596.4,252.0L602.0,249.5M602.0,249.5L614.1,249.5M614.1,249.5L620.3,252.0M596.4,252.0L604.0,254.1M612.5,254.1L620.3,252.0M604.0,254.1L612.5,254.1" fill="none" stroke="#e02a2a" stroke-opacity="0.8" stroke-width="0.78" stroke-linecap="round"/>
<path d="M614.1,249.5L612.5,254.1" fill="none" stroke="#e02a2a" stroke-opacity="1.0" stroke-width="0.85" stroke-linecap="round"/>
<circle cx="600.2" cy="243.8" r="0.6" fill="#c83434" fill-opacity="0.7"/>
<circle cx="616.4" cy="243.7" r="0.6" fill="#c83434" fill-opacity="0.7"/>
<circle cx="596.4" cy="252.0" r="0.6" fill="#c83434" fill-opacity="0.7"/>
<circle cx="620.3" cy="252.0" r="0.6" fill="#c83434" fill-opacity="0.7"/>
<circle cx="604.0" cy="254.1" r="0.6" fill="#c83434" fill-opacity="0.7"/>
<circle cx="612.5" cy="254.1" r="0.6" fill="#c83434" fill-opacity="0.7"/>
<rect x="586.25" y="342.80" width="2.3" height="8.6" rx="0.9" fill="#f3f3f3" stroke="#8a8a8a" stroke-width="0.5"/>
<rect x="627.45" y="342.80" width="2.3" height="8.6" rx="0.9" fill="#f3f3f3" stroke="#8a8a8a" stroke-width="0.5"/>
<ellipse cx="608.00" cy="347.10" rx="19.6" ry="16.35" fill="#fff" stroke="#858585" stroke-width="0.6"/>
<path d="M604.40,331.10 L608.00,328.05 L611.60,331.10" fill="#f4f4f4" stroke="#858585" stroke-width="0.5"/>
<polygon points="600.2,348.7 616.4,348.6 620.3,356.9 612.5,359.0 604.0,359.0 596.4,356.9" fill="#e02a2a" fill-opacity="0.03"/>
<polygon points="596.4,356.9 602.0,354.4 614.1,354.4 620.3,356.9 612.5,359.0 604.0,359.0" fill="#e02a2a" fill-opacity="0.09"/>
<path d="M600.2,348.7L620.3,356.9M614.1,354.4L612.5,359.0M614.1,354.4L604.0,359.0M602.0,354.4L608.1,352.7M614.1,354.4L608.1,352.7M600.2,348.7L614.1,354.4M616.4,348.6L602.0,354.4" fill="none" stroke="#e02a2a" stroke-opacity="0.2" stroke-width="0.57" stroke-linecap="round"/>
<path d="M600.2,348.7L616.4,348.6M600.2,348.7L596.4,356.9M616.4,348.6L620.3,356.9M600.2,348.7L608.1,352.7M616.4,348.6L608.1,352.7M600.2,348.7L602.0,354.4M616.4,348.6L614.1,354.4M596.4,356.9L612.5,359.0M602.0,354.4L612.5,359.0" fill="none" stroke="#e02a2a" stroke-opacity="0.4" stroke-width="0.64" stroke-linecap="round"/>
<path d="M596.4,356.9L602.0,354.4M612.5,359.0L620.3,356.9M602.0,354.4L604.0,359.0M620.3,356.9L604.0,359.0" fill="none" stroke="#e02a2a" stroke-opacity="0.6" stroke-width="0.71" stroke-linecap="round"/>
<path d="M596.4,356.9L620.3,356.9M614.1,354.4L620.3,356.9M596.4,356.9L604.0,359.0M604.0,359.0L612.5,359.0" fill="none" stroke="#e02a2a" stroke-opacity="0.8" stroke-width="0.78" stroke-linecap="round"/>
<circle cx="600.2" cy="348.7" r="0.6" fill="#c83434" fill-opacity="0.7"/>
<circle cx="616.4" cy="348.6" r="0.6" fill="#c83434" fill-opacity="0.7"/>
<circle cx="596.4" cy="356.9" r="0.6" fill="#c83434" fill-opacity="0.7"/>
<circle cx="620.3" cy="356.9" r="0.6" fill="#c83434" fill-opacity="0.7"/>
<circle cx="604.0" cy="359.0" r="0.6" fill="#c83434" fill-opacity="0.7"/>
<circle cx="612.5" cy="359.0" r="0.6" fill="#c83434" fill-opacity="0.7"/>
<text x="608.00" y="326.85" font-size="2.6" font-weight="bold" text-anchor="middle" textLength="12.2" lengthAdjust="spacingAndGlyphs" fill="#222">Brain Network</text>
<text x="3" y="243.4" font-size="9.3" fill="#111">Baseline</text>
<text x="14.8" y="296" font-size="9.3" fill="#111">6M</text>
<text x="12" y="347.9" font-size="9.3" fill="#111">24M</text>
<line x1="19" y1="392.5" x2="447.5" y2="392.5" stroke="#555" stroke-width="0.9"/>
<line x1="19" y1="417.6" x2="447.5" y2="417.6" stroke="#333" stroke-width="1.2"/>
<line x1="18" y1="481.7" x2="447.5" y2="481.7" stroke="#333" stroke-width="1.4"/>
<text x="19.8" y="409.1" font-size="8.3" fill="#111">Time</text>
<text x="108.2" y="409.1" font-size="8.3" fill="#111">baseline</text>
<text x="205.8" y="409.1" font-size="8.3" fill="#111">6M</text>
<text x="304.7" y="409.1" font-size="8.3" fill="#111">24M</text>
<text x="399.8" y="409.1" font-size="8.3" fill="#111">P</text>
<text x="19.8" y="439.6" font-size="8.3" fill="#111">Treatment group</text>
<text x="108.2" y="439.6" font-size="8.3" fill="#111">11.932±3.812</text>
<text x="205.8" y="439.6" font-size="8.3" fill="#111">8.974±3.253<tspan font-size="5" dy="-2.5">*</tspan></text>
<text x="304.7" y="439.6" font-size="8.3" fill="#111">7.383±3.196<tspan font-size="4.5" dy="-2.5">#</tspan></text>
<text x="399.8" y="439.6" font-size="8.3" fill="#111">0.031</text>
<text x="19.8" y="471.7" font-size="8.3" fill="#111">Control group</text>
<text x="108.2" y="471.7" font-size="8.3" fill="#111">9.659±2.373</text>
<text x="205.8" y="471.7" font-size="8.3" fill="#111">5.746±1.612</text>
<text x="304.7" y="471.7" font-size="8.3" fill="#111">7.003±3.993</text>
<text x="11.2" y="494.8" font-size="8.4" fill="#111"><tspan font-size="4.5" dy="-2.5">#</tspan><tspan dy="2.5">: 24M compared with baseline, P&lt;0.05</tspan></text>
<text x="11.2" y="510.6" font-size="8.4" fill="#111"><tspan font-size="5" dy="-2.5">*</tspan><tspan dy="2.5">: treatment group compared with control group, P&lt;0.05</tspan></text>
<line x1="491.25" y1="431.67" x2="491.25" y2="409.04" stroke="#5a5a5a" stroke-width="0.8"/>
<line x1="489.05" y1="409.04" x2="493.45" y2="409.04" stroke="#5a5a5a" stroke-width="0.8"/>
<line x1="504.75" y1="441.18" x2="504.75" y2="420.84" stroke="#6a6a6a" stroke-width="0.8"/>
<line x1="502.55" y1="420.84" x2="506.95" y2="420.84" stroke="#6a6a6a" stroke-width="0.8"/>
<line x1="527.85" y1="444.46" x2="527.85" y2="423.47" stroke="#5a5a5a" stroke-width="0.8"/>
<line x1="525.65" y1="423.47" x2="530.05" y2="423.47" stroke="#5a5a5a" stroke-width="0.8"/>
<line x1="541.05" y1="441.18" x2="541.05" y2="407.72" stroke="#6a6a6a" stroke-width="0.8"/>
<line x1="538.85" y1="407.72" x2="543.25" y2="407.72" stroke="#6a6a6a" stroke-width="0.8"/>
<line x1="563.75" y1="454.30" x2="563.75" y2="435.28" stroke="#5a5a5a" stroke-width="0.8"/>
<line x1="561.55" y1="435.28" x2="565.95" y2="435.28" stroke="#5a5a5a" stroke-width="0.8"/>
<line x1="576.95" y1="448.72" x2="576.95" y2="416.25" stroke="#6a6a6a" stroke-width="0.8"/>
<line x1="574.75" y1="416.25" x2="579.15" y2="416.25" stroke="#6a6a6a" stroke-width="0.8"/>
<rect x="487.50" y="431.67" width="7.50" height="71.83" fill="#000" stroke="#000" stroke-width="1"/>
<rect x="501.00" y="441.18" width="7.50" height="62.32" fill="#a3a3a3" stroke="#000" stroke-width="1"/>
<rect x="524.10" y="444.46" width="7.50" height="59.04" fill="#000" stroke="#000" stroke-width="1"/>
<rect x="537.30" y="441.18" width="7.50" height="62.32" fill="#a3a3a3" stroke="#000" stroke-width="1"/>
<rect x="560.00" y="454.30" width="7.50" height="49.20" fill="#000" stroke="#000" stroke-width="1"/>
<rect x="573.20" y="448.72" width="7.50" height="54.78" fill="#a3a3a3" stroke="#000" stroke-width="1"/>
<line x1="481.20" y1="404.60" x2="481.20" y2="503.50" stroke="#111" stroke-width="1"/>
<line x1="480.70" y1="503.50" x2="586.00" y2="503.50" stroke="#111" stroke-width="1"/>
<line x1="477.20" y1="503.50" x2="481.20" y2="503.50" stroke="#111" stroke-width="1"/>
<text x="476.20" y="506.30" font-size="7.8" font-weight="bold" stroke="#111" stroke-width="0.22" text-anchor="end" fill="#111">0</text>
<line x1="477.20" y1="470.70" x2="481.20" y2="470.70" stroke="#111" stroke-width="1"/>
<text x="476.20" y="473.50" font-size="7.8" font-weight="bold" stroke="#111" stroke-width="0.22" text-anchor="end" fill="#111">5</text>
<line x1="477.20" y1="437.90" x2="481.20" y2="437.90" stroke="#111" stroke-width="1"/>
<text x="476.20" y="440.70" font-size="7.8" font-weight="bold" stroke="#111" stroke-width="0.22" text-anchor="end" fill="#111">10</text>
<line x1="477.20" y1="405.10" x2="481.20" y2="405.10" stroke="#111" stroke-width="1"/>
<text x="476.20" y="407.90" font-size="7.8" font-weight="bold" stroke="#111" stroke-width="0.22" text-anchor="end" fill="#111">15</text>
<line x1="497.80" y1="503.50" x2="497.80" y2="507.50" stroke="#111" stroke-width="1"/>
<text x="497.80" y="515.10" font-size="7.8" font-weight="bold" stroke="#111" stroke-width="0.22" text-anchor="middle" fill="#111">Baseline</text>
<line x1="534.20" y1="503.50" x2="534.20" y2="507.50" stroke="#111" stroke-width="1"/>
<text x="534.20" y="515.10" font-size="7.8" font-weight="bold" stroke="#111" stroke-width="0.22" text-anchor="middle" fill="#111">6M</text>
<line x1="570.20" y1="503.50" x2="570.20" y2="507.50" stroke="#111" stroke-width="1"/>
<text x="570.20" y="515.10" font-size="7.8" font-weight="bold" stroke="#111" stroke-width="0.22" text-anchor="middle" fill="#111">24M</text>
<text transform="translate(462.30,454.30) rotate(-90)" font-size="7.8" font-weight="bold" stroke="#111" stroke-width="0.22" text-anchor="middle" fill="#111">Brain Network Energy</text>
<line x1="491.7" y1="388.9" x2="558.3" y2="388.9" stroke="#111" stroke-width="1.1"/>
<line x1="525.9" y1="402.3" x2="541.4" y2="402.3" stroke="#111" stroke-width="1.1"/>
<text x="524.5" y="389.2" font-size="14" font-weight="bold" text-anchor="middle" fill="#111">*</text>
<text x="533.4" y="402.2" font-size="14" font-weight="bold" text-anchor="middle" fill="#111">*</text>
<rect x="591.80" y="393.50" width="12" height="5.8" fill="#000" stroke="#000" stroke-width="1"/>
<rect x="591.80" y="407.10" width="12" height="5.8" fill="#a3a3a3" stroke="#000" stroke-width="1"/>
<text x="610.60" y="399.00" font-size="8.2" fill="#111">Treatment group</text>
<text x="610.60" y="412.60" font-size="8.2" fill="#111">Control group</text>
<line x1="47.65" y1="587.42" x2="47.65" y2="564.21" stroke="#5a5a5a" stroke-width="0.8"/>
<line x1="45.45" y1="564.21" x2="49.85" y2="564.21" stroke="#5a5a5a" stroke-width="0.8"/>
<line x1="60.75" y1="586.45" x2="60.75" y2="571.94" stroke="#6a6a6a" stroke-width="0.8"/>
<line x1="58.55" y1="571.94" x2="62.95" y2="571.94" stroke="#6a6a6a" stroke-width="0.8"/>
<line x1="82.65" y1="593.22" x2="82.65" y2="563.24" stroke="#5a5a5a" stroke-width="0.8"/>
<line x1="80.45" y1="563.24" x2="84.85" y2="563.24" stroke="#5a5a5a" stroke-width="0.8"/>
<line x1="96.25" y1="597.57" x2="96.25" y2="580.65" stroke="#6a6a6a" stroke-width="0.8"/>
<line x1="94.05" y1="580.65" x2="98.45" y2="580.65" stroke="#6a6a6a" stroke-width="0.8"/>
<line x1="118.15" y1="585.00" x2="118.15" y2="560.82" stroke="#5a5a5a" stroke-width="0.8"/>
<line x1="115.95" y1="560.82" x2="120.35" y2="560.82" stroke="#5a5a5a" stroke-width="0.8"/>
<line x1="131.25" y1="601.92" x2="131.25" y2="587.42" stroke="#6a6a6a" stroke-width="0.8"/>
<line x1="129.05" y1="587.42" x2="133.45" y2="587.42" stroke="#6a6a6a" stroke-width="0.8"/>
<rect x="43.90" y="587.42" width="7.50" height="47.38" fill="#000" stroke="#000" stroke-width="1"/>
<rect x="57.00" y="586.45" width="7.50" height="48.35" fill="#a3a3a3" stroke="#000" stroke-width="1"/>
<rect x="78.90" y="593.22" width="7.50" height="41.58" fill="#000" stroke="#000" stroke-width="1"/>
<rect x="92.50" y="597.57" width="7.50" height="37.23" fill="#a3a3a3" stroke="#000" stroke-width="1"/>
<rect x="114.40" y="585.00" width="7.50" height="49.80" fill="#000" stroke="#000" stroke-width="1"/>
<rect x="127.50" y="601.92" width="7.50" height="32.88" fill="#a3a3a3" stroke="#000" stroke-width="1"/>
<line x1="39.00" y1="537.60" x2="39.00" y2="634.80" stroke="#111" stroke-width="1"/>
<line x1="38.50" y1="634.80" x2="140.80" y2="634.80" stroke="#111" stroke-width="1"/>
<line x1="35.00" y1="634.80" x2="39.00" y2="634.80" stroke="#111" stroke-width="1"/>
<text x="34.00" y="637.60" font-size="7.8" font-weight="bold" stroke="#111" stroke-width="0.22" text-anchor="end" fill="#111">0.0</text>
<line x1="35.00" y1="615.46" x2="39.00" y2="615.46" stroke="#111" stroke-width="1"/>
<text x="34.00" y="618.26" font-size="7.8" font-weight="bold" stroke="#111" stroke-width="0.22" text-anchor="end" fill="#111">0.2</text>
<line x1="35.00" y1="596.12" x2="39.00" y2="596.12" stroke="#111" stroke-width="1"/>
<text x="34.00" y="598.92" font-size="7.8" font-weight="bold" stroke="#111" stroke-width="0.22" text-anchor="end" fill="#111">0.4</text>
<line x1="35.00" y1="576.78" x2="39.00" y2="576.78" stroke="#111" stroke-width="1"/>
<text x="34.00" y="579.58" font-size="7.8" font-weight="bold" stroke="#111" stroke-width="0.22" text-anchor="end" fill="#111">0.6</text>
<line x1="35.00" y1="557.44" x2="39.00" y2="557.44" stroke="#111" stroke-width="1"/>
<text x="34.00" y="560.24" font-size="7.8" font-weight="bold" stroke="#111" stroke-width="0.22" text-anchor="end" fill="#111">0.8</text>
<line x1="35.00" y1="538.10" x2="39.00" y2="538.10" stroke="#111" stroke-width="1"/>
<text x="34.00" y="540.90" font-size="7.8" font-weight="bold" stroke="#111" stroke-width="0.22" text-anchor="end" fill="#111">1.0</text>
<line x1="54.20" y1="634.80" x2="54.20" y2="638.80" stroke="#111" stroke-width="1"/>
<text x="54.20" y="646.40" font-size="7.8" font-weight="bold" stroke="#111" stroke-width="0.22" text-anchor="middle" fill="#111">Baseline</text>
<line x1="88.70" y1="634.80" x2="88.70" y2="638.80" stroke="#111" stroke-width="1"/>
<text x="88.70" y="646.40" font-size="7.8" font-weight="bold" stroke="#111" stroke-width="0.22" text-anchor="middle" fill="#111">6M</text>
<line x1="124.60" y1="634.80" x2="124.60" y2="638.80" stroke="#111" stroke-width="1"/>
<text x="124.60" y="646.40" font-size="7.8" font-weight="bold" stroke="#111" stroke-width="0.22" text-anchor="middle" fill="#111">24M</text>
<text transform="translate(17.30,586.45) rotate(-90)" font-size="7.8" font-weight="bold" stroke="#111" stroke-width="0.22" text-anchor="middle" fill="#111">Clustering Coefficient</text>
<line x1="190.35" y1="570.59" x2="190.35" y2="551.25" stroke="#5a5a5a" stroke-width="0.8"/>
<line x1="188.15" y1="551.25" x2="192.55" y2="551.25" stroke="#5a5a5a" stroke-width="0.8"/>
<line x1="203.55" y1="576.78" x2="203.55" y2="559.76" stroke="#6a6a6a" stroke-width="0.8"/>
<line x1="201.35" y1="559.76" x2="205.75" y2="559.76" stroke="#6a6a6a" stroke-width="0.8"/>
<line x1="225.45" y1="575.43" x2="225.45" y2="553.57" stroke="#5a5a5a" stroke-width="0.8"/>
<line x1="223.25" y1="553.57" x2="227.65" y2="553.57" stroke="#5a5a5a" stroke-width="0.8"/>
<line x1="239.25" y1="583.16" x2="239.25" y2="573.30" stroke="#6a6a6a" stroke-width="0.8"/>
<line x1="237.05" y1="573.30" x2="241.45" y2="573.30" stroke="#6a6a6a" stroke-width="0.8"/>
<line x1="261.15" y1="572.14" x2="261.15" y2="550.86" stroke="#5a5a5a" stroke-width="0.8"/>
<line x1="258.95" y1="550.86" x2="263.35" y2="550.86" stroke="#5a5a5a" stroke-width="0.8"/>
<line x1="274.25" y1="586.45" x2="274.25" y2="572.53" stroke="#6a6a6a" stroke-width="0.8"/>
<line x1="272.05" y1="572.53" x2="276.45" y2="572.53" stroke="#6a6a6a" stroke-width="0.8"/>
<rect x="186.60" y="570.59" width="7.50" height="64.21" fill="#000" stroke="#000" stroke-width="1"/>
<rect x="199.80" y="576.78" width="7.50" height="58.02" fill="#a3a3a3" stroke="#000" stroke-width="1"/>
<rect x="221.70" y="575.43" width="7.50" height="59.37" fill="#000" stroke="#000" stroke-width="1"/>
<rect x="235.50" y="583.16" width="7.50" height="51.64" fill="#a3a3a3" stroke="#000" stroke-width="1"/>
<rect x="257.40" y="572.14" width="7.50" height="62.66" fill="#000" stroke="#000" stroke-width="1"/>
<rect x="270.50" y="586.45" width="7.50" height="48.35" fill="#a3a3a3" stroke="#000" stroke-width="1"/>
<line x1="181.70" y1="537.60" x2="181.70" y2="634.80" stroke="#111" stroke-width="1"/>
<line x1="181.20" y1="634.80" x2="283.90" y2="634.80" stroke="#111" stroke-width="1"/>
<line x1="177.70" y1="634.80" x2="181.70" y2="634.80" stroke="#111" stroke-width="1"/>
<text x="176.70" y="637.60" font-size="7.8" font-weight="bold" stroke="#111" stroke-width="0.22" text-anchor="end" fill="#111">0</text>
<line x1="177.70" y1="615.46" x2="181.70" y2="615.46" stroke="#111" stroke-width="1"/>
<text x="176.70" y="618.26" font-size="7.8" font-weight="bold" stroke="#111" stroke-width="0.22" text-anchor="end" fill="#111">1</text>
<line x1="177.70" y1="596.12" x2="181.70" y2="596.12" stroke="#111" stroke-width="1"/>
<text x="176.70" y="598.92" font-size="7.8" font-weight="bold" stroke="#111" stroke-width="0.22" text-anchor="end" fill="#111">2</text>
<line x1="177.70" y1="576.78" x2="181.70" y2="576.78" stroke="#111" stroke-width="1"/>
<text x="176.70" y="579.58" font-size="7.8" font-weight="bold" stroke="#111" stroke-width="0.22" text-anchor="end" fill="#111">3</text>
<line x1="177.70" y1="557.44" x2="181.70" y2="557.44" stroke="#111" stroke-width="1"/>
<text x="176.70" y="560.24" font-size="7.8" font-weight="bold" stroke="#111" stroke-width="0.22" text-anchor="end" fill="#111">4</text>
<line x1="177.70" y1="538.10" x2="181.70" y2="538.10" stroke="#111" stroke-width="1"/>
<text x="176.70" y="540.90" font-size="7.8" font-weight="bold" stroke="#111" stroke-width="0.22" text-anchor="end" fill="#111">5</text>
<line x1="197.00" y1="634.80" x2="197.00" y2="638.80" stroke="#111" stroke-width="1"/>
<text x="197.00" y="646.40" font-size="7.8" font-weight="bold" stroke="#111" stroke-width="0.22" text-anchor="middle" fill="#111">Baseline</text>
<line x1="232.10" y1="634.80" x2="232.10" y2="638.80" stroke="#111" stroke-width="1"/>
<text x="232.10" y="646.40" font-size="7.8" font-weight="bold" stroke="#111" stroke-width="0.22" text-anchor="middle" fill="#111">6M</text>
<line x1="267.40" y1="634.80" x2="267.40" y2="638.80" stroke="#111" stroke-width="1"/>
<text x="267.40" y="646.40" font-size="7.8" font-weight="bold" stroke="#111" stroke-width="0.22" text-anchor="middle" fill="#111">24M</text>
<text transform="translate(166.20,586.45) rotate(-90)" font-size="7.8" font-weight="bold" stroke="#111" stroke-width="0.22" text-anchor="middle" fill="#111">Degree</text>
<line x1="341.55" y1="577.75" x2="341.55" y2="555.26" stroke="#5a5a5a" stroke-width="0.8"/>
<line x1="339.35" y1="555.26" x2="343.75" y2="555.26" stroke="#5a5a5a" stroke-width="0.8"/>
<line x1="354.65" y1="579.44" x2="354.65" y2="563.48" stroke="#6a6a6a" stroke-width="0.8"/>
<line x1="352.45" y1="563.48" x2="356.85" y2="563.48" stroke="#6a6a6a" stroke-width="0.8"/>
<line x1="376.95" y1="572.91" x2="376.95" y2="553.57" stroke="#5a5a5a" stroke-width="0.8"/>
<line x1="374.75" y1="553.57" x2="379.15" y2="553.57" stroke="#5a5a5a" stroke-width="0.8"/>
<line x1="390.15" y1="572.91" x2="390.15" y2="555.75" stroke="#6a6a6a" stroke-width="0.8"/>
<line x1="387.95" y1="555.75" x2="392.35" y2="555.75" stroke="#6a6a6a" stroke-width="0.8"/>
<line x1="412.05" y1="570.49" x2="412.05" y2="545.59" stroke="#5a5a5a" stroke-width="0.8"/>
<line x1="409.85" y1="545.59" x2="414.25" y2="545.59" stroke="#5a5a5a" stroke-width="0.8"/>
<line x1="425.85" y1="564.93" x2="425.85" y2="544.39" stroke="#6a6a6a" stroke-width="0.8"/>
<line x1="423.65" y1="544.39" x2="428.05" y2="544.39" stroke="#6a6a6a" stroke-width="0.8"/>
<rect x="337.80" y="577.75" width="7.50" height="57.05" fill="#000" stroke="#000" stroke-width="1"/>
<rect x="350.90" y="579.44" width="7.50" height="55.36" fill="#a3a3a3" stroke="#000" stroke-width="1"/>
<rect x="373.20" y="572.91" width="7.50" height="61.89" fill="#000" stroke="#000" stroke-width="1"/>
<rect x="386.40" y="572.91" width="7.50" height="61.89" fill="#a3a3a3" stroke="#000" stroke-width="1"/>
<rect x="408.30" y="570.49" width="7.50" height="64.31" fill="#000" stroke="#000" stroke-width="1"/>
<rect x="422.10" y="564.93" width="7.50" height="69.87" fill="#a3a3a3" stroke="#000" stroke-width="1"/>
<line x1="332.90" y1="537.60" x2="332.90" y2="634.80" stroke="#111" stroke-width="1"/>
<line x1="332.40" y1="634.80" x2="434.70" y2="634.80" stroke="#111" stroke-width="1"/>
<line x1="328.90" y1="634.80" x2="332.90" y2="634.80" stroke="#111" stroke-width="1"/>
<text x="327.90" y="637.60" font-size="7.8" font-weight="bold" stroke="#111" stroke-width="0.22" text-anchor="end" fill="#111">0.0</text>
<line x1="328.90" y1="610.62" x2="332.90" y2="610.62" stroke="#111" stroke-width="1"/>
<text x="327.90" y="613.42" font-size="7.8" font-weight="bold" stroke="#111" stroke-width="0.22" text-anchor="end" fill="#111">0.1</text>
<line x1="328.90" y1="586.45" x2="332.90" y2="586.45" stroke="#111" stroke-width="1"/>
<text x="327.90" y="589.25" font-size="7.8" font-weight="bold" stroke="#111" stroke-width="0.22" text-anchor="end" fill="#111">0.2</text>
<line x1="328.90" y1="562.27" x2="332.90" y2="562.27" stroke="#111" stroke-width="1"/>
<text x="327.90" y="565.07" font-size="7.8" font-weight="bold" stroke="#111" stroke-width="0.22" text-anchor="end" fill="#111">0.3</text>
<line x1="328.90" y1="538.10" x2="332.90" y2="538.10" stroke="#111" stroke-width="1"/>
<text x="327.90" y="540.90" font-size="7.8" font-weight="bold" stroke="#111" stroke-width="0.22" text-anchor="end" fill="#111">0.4</text>
<line x1="348.10" y1="634.80" x2="348.10" y2="638.80" stroke="#111" stroke-width="1"/>
<text x="348.10" y="646.40" font-size="7.8" font-weight="bold" stroke="#111" stroke-width="0.22" text-anchor="middle" fill="#111">Baseline</text>
<line x1="383.70" y1="634.80" x2="383.70" y2="638.80" stroke="#111" stroke-width="1"/>
<text x="383.70" y="646.40" font-size="7.8" font-weight="bold" stroke="#111" stroke-width="0.22" text-anchor="middle" fill="#111">6M</text>
<line x1="418.70" y1="634.80" x2="418.70" y2="638.80" stroke="#111" stroke-width="1"/>
<text x="418.70" y="646.40" font-size="7.8" font-weight="bold" stroke="#111" stroke-width="0.22" text-anchor="middle" fill="#111">24M</text>
<text transform="translate(310.40,586.45) rotate(-90)" font-size="7.8" font-weight="bold" stroke="#111" stroke-width="0.22" text-anchor="middle" fill="#111">Characteristic Path Length</text>
<line x1="494.75" y1="577.42" x2="494.75" y2="562.60" stroke="#5a5a5a" stroke-width="0.8"/>
<line x1="492.55" y1="562.60" x2="496.95" y2="562.60" stroke="#5a5a5a" stroke-width="0.8"/>
<line x1="507.95" y1="578.07" x2="507.95" y2="566.47" stroke="#6a6a6a" stroke-width="0.8"/>
<line x1="505.75" y1="566.47" x2="510.15" y2="566.47" stroke="#6a6a6a" stroke-width="0.8"/>
<line x1="530.25" y1="580.65" x2="530.25" y2="566.47" stroke="#5a5a5a" stroke-width="0.8"/>
<line x1="528.05" y1="566.47" x2="532.45" y2="566.47" stroke="#5a5a5a" stroke-width="0.8"/>
<line x1="543.45" y1="583.87" x2="543.45" y2="571.62" stroke="#6a6a6a" stroke-width="0.8"/>
<line x1="541.25" y1="571.62" x2="545.65" y2="571.62" stroke="#6a6a6a" stroke-width="0.8"/>
<line x1="565.25" y1="583.23" x2="565.25" y2="568.40" stroke="#5a5a5a" stroke-width="0.8"/>
<line x1="563.05" y1="568.40" x2="567.45" y2="568.40" stroke="#5a5a5a" stroke-width="0.8"/>
<line x1="578.85" y1="586.45" x2="578.85" y2="574.20" stroke="#6a6a6a" stroke-width="0.8"/>
<line x1="576.65" y1="574.20" x2="581.05" y2="574.20" stroke="#6a6a6a" stroke-width="0.8"/>
<rect x="491.00" y="577.42" width="7.50" height="57.38" fill="#000" stroke="#000" stroke-width="1"/>
<rect x="504.20" y="578.07" width="7.50" height="56.73" fill="#a3a3a3" stroke="#000" stroke-width="1"/>
<rect x="526.50" y="580.65" width="7.50" height="54.15" fill="#000" stroke="#000" stroke-width="1"/>
<rect x="539.70" y="583.87" width="7.50" height="50.93" fill="#a3a3a3" stroke="#000" stroke-width="1"/>
<rect x="561.50" y="583.23" width="7.50" height="51.57" fill="#000" stroke="#000" stroke-width="1"/>
<rect x="575.10" y="586.45" width="7.50" height="48.35" fill="#a3a3a3" stroke="#000" stroke-width="1"/>
<line x1="485.90" y1="537.60" x2="485.90" y2="634.80" stroke="#111" stroke-width="1"/>
<line x1="485.40" y1="634.80" x2="588.00" y2="634.80" stroke="#111" stroke-width="1"/>
<line x1="481.90" y1="634.80" x2="485.90" y2="634.80" stroke="#111" stroke-width="1"/>
<text x="480.90" y="637.60" font-size="7.8" font-weight="bold" stroke="#111" stroke-width="0.22" text-anchor="end" fill="#111">0.00</text>
<line x1="481.90" y1="602.57" x2="485.90" y2="602.57" stroke="#111" stroke-width="1"/>
<text x="480.90" y="605.37" font-size="7.8" font-weight="bold" stroke="#111" stroke-width="0.22" text-anchor="end" fill="#111">0.05</text>
<line x1="481.90" y1="570.33" x2="485.90" y2="570.33" stroke="#111" stroke-width="1"/>
<text x="480.90" y="573.13" font-size="7.8" font-weight="bold" stroke="#111" stroke-width="0.22" text-anchor="end" fill="#111">0.10</text>
<line x1="481.90" y1="538.10" x2="485.90" y2="538.10" stroke="#111" stroke-width="1"/>
<text x="480.90" y="540.90" font-size="7.8" font-weight="bold" stroke="#111" stroke-width="0.22" text-anchor="end" fill="#111">0.15</text>
<line x1="501.70" y1="634.80" x2="501.70" y2="638.80" stroke="#111" stroke-width="1"/>
<text x="501.70" y="646.40" font-size="7.8" font-weight="bold" stroke="#111" stroke-width="0.22" text-anchor="middle" fill="#111">Baseline</text>
<line x1="536.40" y1="634.80" x2="536.40" y2="638.80" stroke="#111" stroke-width="1"/>
<text x="536.40" y="646.40" font-size="7.8" font-weight="bold" stroke="#111" stroke-width="0.22" text-anchor="middle" fill="#111">6M</text>
<line x1="572.00" y1="634.80" x2="572.00" y2="638.80" stroke="#111" stroke-width="1"/>
<text x="572.00" y="646.40" font-size="7.8" font-weight="bold" stroke="#111" stroke-width="0.22" text-anchor="middle" fill="#111">24M</text>
<text transform="translate(460.50,586.45) rotate(-90)" font-size="7.8" font-weight="bold" stroke="#111" stroke-width="0.22" text-anchor="middle" fill="#111">Global Efficiency</text>
<rect x="593.50" y="548.90" width="12" height="5.8" fill="#000" stroke="#000" stroke-width="1"/>
<rect x="593.50" y="562.50" width="12" height="5.8" fill="#a3a3a3" stroke="#000" stroke-width="1"/>
<text x="611.40" y="554.40" font-size="8.2" fill="#111">Treatment group</text>
<text x="611.40" y="568.00" font-size="8.2" fill="#111">Control group</text>
</svg>
</body></html>
